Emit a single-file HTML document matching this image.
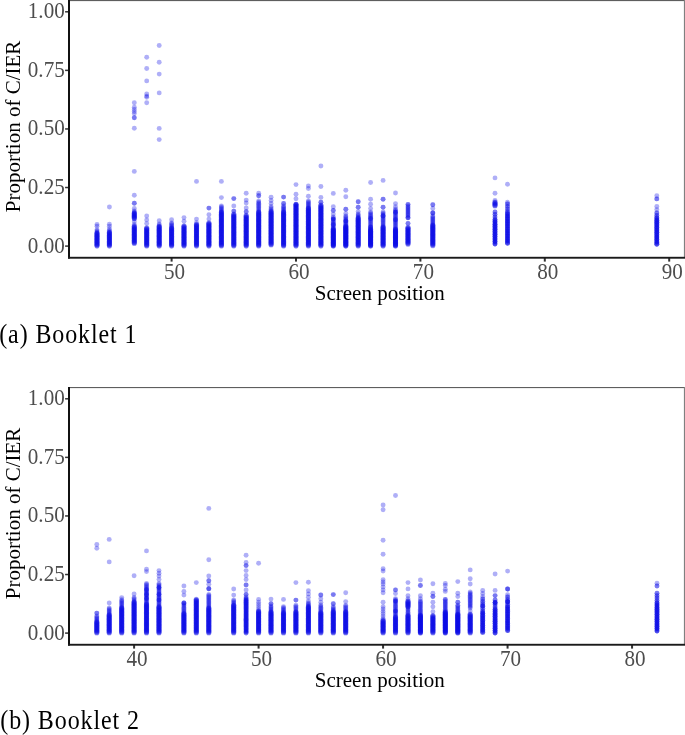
<!DOCTYPE html>
<html><head><meta charset="utf-8"><title>Figure</title>
<style>html,body{margin:0;padding:0;background:#fff;width:685px;height:735px;overflow:hidden}svg{display:block;will-change:transform}</style>
</head><body><svg width="685" height="735" viewBox="0 0 685 735">
<style>
.tk{font-family:"Liberation Serif",serif;font-size:23px;fill:#4d4d4d}
.tt{font-family:"Liberation Serif",serif;font-size:21px;fill:#000}
.cap{font-family:"Liberation Serif",serif;font-size:24px;fill:#000;letter-spacing:0.9px}
</style>
<rect width="685" height="735" fill="#fff"/>
<g fill="rgb(12,12,232)" fill-opacity="0.33"><circle cx="97.0" cy="224.5" r="2.45"/><circle cx="97.0" cy="226.3" r="2.45"/><circle cx="97.0" cy="229.8" r="2.45"/><circle cx="97.0" cy="231.0" r="2.45"/><circle cx="97.0" cy="232.0" r="2.45"/><circle cx="97.0" cy="233.0" r="2.45"/><circle cx="97.0" cy="233.0" r="2.55"/><circle cx="97.0" cy="233.5" r="2.55"/><circle cx="97.0" cy="234.1" r="2.55"/><circle cx="97.0" cy="234.6" r="2.55"/><circle cx="97.0" cy="235.2" r="2.55"/><circle cx="97.0" cy="235.7" r="2.55"/><circle cx="97.0" cy="236.3" r="2.55"/><circle cx="97.0" cy="236.8" r="2.55"/><circle cx="97.0" cy="237.4" r="2.55"/><circle cx="97.0" cy="237.9" r="2.55"/><circle cx="97.0" cy="238.5" r="2.55"/><circle cx="97.0" cy="239.0" r="2.55"/><circle cx="97.0" cy="239.6" r="2.55"/><circle cx="97.0" cy="240.1" r="2.55"/><circle cx="97.0" cy="240.6" r="2.55"/><circle cx="97.0" cy="241.2" r="2.55"/><circle cx="97.0" cy="241.7" r="2.55"/><circle cx="97.0" cy="242.3" r="2.55"/><circle cx="97.0" cy="242.8" r="2.55"/><circle cx="97.0" cy="243.4" r="2.55"/><circle cx="97.0" cy="243.9" r="2.55"/><circle cx="97.0" cy="244.5" r="2.55"/><circle cx="97.0" cy="245.0" r="2.55"/><circle cx="97.0" cy="245.6" r="2.55"/><circle cx="97.0" cy="246.1" r="2.55"/><circle cx="109.4" cy="207.0" r="2.45"/><circle cx="109.4" cy="224.3" r="2.45"/><circle cx="109.4" cy="226.3" r="2.45"/><circle cx="109.4" cy="228.9" r="2.45"/><circle cx="109.4" cy="230.5" r="2.45"/><circle cx="109.4" cy="231.5" r="2.45"/><circle cx="109.4" cy="232.5" r="2.45"/><circle cx="109.4" cy="232.5" r="2.55"/><circle cx="109.4" cy="233.0" r="2.55"/><circle cx="109.4" cy="233.6" r="2.55"/><circle cx="109.4" cy="234.1" r="2.55"/><circle cx="109.4" cy="234.7" r="2.55"/><circle cx="109.4" cy="235.2" r="2.55"/><circle cx="109.4" cy="235.8" r="2.55"/><circle cx="109.4" cy="236.3" r="2.55"/><circle cx="109.4" cy="236.9" r="2.55"/><circle cx="109.4" cy="237.4" r="2.55"/><circle cx="109.4" cy="237.9" r="2.55"/><circle cx="109.4" cy="238.5" r="2.55"/><circle cx="109.4" cy="239.0" r="2.55"/><circle cx="109.4" cy="239.6" r="2.55"/><circle cx="109.4" cy="240.1" r="2.55"/><circle cx="109.4" cy="240.7" r="2.55"/><circle cx="109.4" cy="241.2" r="2.55"/><circle cx="109.4" cy="241.7" r="2.55"/><circle cx="109.4" cy="242.3" r="2.55"/><circle cx="109.4" cy="242.8" r="2.55"/><circle cx="109.4" cy="243.4" r="2.55"/><circle cx="109.4" cy="243.9" r="2.55"/><circle cx="109.4" cy="244.5" r="2.55"/><circle cx="109.4" cy="245.0" r="2.55"/><circle cx="109.4" cy="245.6" r="2.55"/><circle cx="109.4" cy="246.1" r="2.55"/><circle cx="134.3" cy="102.7" r="2.45"/><circle cx="134.3" cy="107.2" r="2.45"/><circle cx="134.3" cy="109.5" r="2.45"/><circle cx="134.3" cy="111.6" r="2.45"/><circle cx="134.3" cy="113.6" r="2.45"/><circle cx="134.3" cy="117.8" r="2.45"/><circle cx="134.3" cy="117.8" r="2.45"/><circle cx="134.3" cy="128.2" r="2.45"/><circle cx="134.3" cy="171.4" r="2.45"/><circle cx="134.3" cy="195.2" r="2.45"/><circle cx="134.3" cy="203.3" r="2.45"/><circle cx="134.3" cy="203.3" r="2.45"/><circle cx="134.3" cy="208.4" r="2.45"/><circle cx="134.3" cy="211.0" r="2.45"/><circle cx="134.3" cy="212.0" r="2.45"/><circle cx="134.3" cy="213.0" r="2.45"/><circle cx="134.3" cy="213.0" r="2.55"/><circle cx="134.3" cy="213.5" r="2.55"/><circle cx="134.3" cy="214.1" r="2.55"/><circle cx="134.3" cy="214.6" r="2.55"/><circle cx="134.3" cy="215.2" r="2.55"/><circle cx="134.3" cy="215.7" r="2.55"/><circle cx="134.3" cy="216.2" r="2.55"/><circle cx="134.3" cy="216.8" r="2.55"/><circle cx="134.3" cy="217.3" r="2.55"/><circle cx="134.3" cy="217.9" r="2.55"/><circle cx="134.3" cy="218.4" r="2.55"/><circle cx="134.3" cy="219.0" r="2.45"/><circle cx="134.3" cy="221.8" r="2.45"/><circle cx="134.3" cy="224.5" r="2.45"/><circle cx="134.3" cy="226.0" r="2.55"/><circle cx="134.3" cy="226.5" r="2.55"/><circle cx="134.3" cy="227.1" r="2.55"/><circle cx="134.3" cy="227.6" r="2.55"/><circle cx="134.3" cy="228.2" r="2.55"/><circle cx="134.3" cy="228.7" r="2.55"/><circle cx="134.3" cy="229.3" r="2.55"/><circle cx="134.3" cy="229.8" r="2.55"/><circle cx="134.3" cy="230.4" r="2.55"/><circle cx="134.3" cy="230.9" r="2.55"/><circle cx="134.3" cy="231.5" r="2.55"/><circle cx="134.3" cy="232.0" r="2.55"/><circle cx="134.3" cy="232.6" r="2.55"/><circle cx="134.3" cy="233.1" r="2.55"/><circle cx="134.3" cy="233.7" r="2.55"/><circle cx="134.3" cy="234.2" r="2.55"/><circle cx="134.3" cy="234.8" r="2.55"/><circle cx="134.3" cy="235.3" r="2.55"/><circle cx="134.3" cy="235.8" r="2.55"/><circle cx="134.3" cy="236.4" r="2.55"/><circle cx="134.3" cy="236.9" r="2.55"/><circle cx="134.3" cy="237.5" r="2.55"/><circle cx="134.3" cy="238.0" r="2.55"/><circle cx="134.3" cy="238.6" r="2.55"/><circle cx="134.3" cy="239.1" r="2.55"/><circle cx="134.3" cy="239.7" r="2.55"/><circle cx="134.3" cy="240.2" r="2.55"/><circle cx="134.3" cy="240.8" r="2.55"/><circle cx="134.3" cy="241.3" r="2.55"/><circle cx="134.3" cy="241.9" r="2.55"/><circle cx="134.3" cy="242.4" r="2.55"/><circle cx="134.3" cy="243.0" r="2.55"/><circle cx="134.3" cy="243.5" r="2.55"/><circle cx="146.7" cy="57.3" r="2.45"/><circle cx="146.7" cy="68.5" r="2.45"/><circle cx="146.7" cy="80.9" r="2.45"/><circle cx="146.7" cy="94.0" r="2.45"/><circle cx="146.7" cy="96.1" r="2.45"/><circle cx="146.7" cy="97.3" r="2.45"/><circle cx="146.7" cy="102.7" r="2.45"/><circle cx="146.7" cy="216.0" r="2.45"/><circle cx="146.7" cy="219.9" r="2.45"/><circle cx="146.7" cy="223.6" r="2.45"/><circle cx="146.7" cy="227.7" r="2.55"/><circle cx="146.7" cy="228.3" r="2.55"/><circle cx="146.7" cy="228.8" r="2.55"/><circle cx="146.7" cy="229.4" r="2.55"/><circle cx="146.7" cy="229.9" r="2.55"/><circle cx="146.7" cy="230.5" r="2.55"/><circle cx="146.7" cy="231.0" r="2.55"/><circle cx="146.7" cy="231.6" r="2.55"/><circle cx="146.7" cy="232.2" r="2.55"/><circle cx="146.7" cy="232.7" r="2.55"/><circle cx="146.7" cy="233.3" r="2.55"/><circle cx="146.7" cy="233.8" r="2.55"/><circle cx="146.7" cy="234.4" r="2.55"/><circle cx="146.7" cy="234.9" r="2.55"/><circle cx="146.7" cy="235.5" r="2.55"/><circle cx="146.7" cy="236.1" r="2.55"/><circle cx="146.7" cy="236.6" r="2.55"/><circle cx="146.7" cy="237.2" r="2.55"/><circle cx="146.7" cy="237.7" r="2.55"/><circle cx="146.7" cy="238.3" r="2.55"/><circle cx="146.7" cy="238.9" r="2.55"/><circle cx="146.7" cy="239.4" r="2.55"/><circle cx="146.7" cy="240.0" r="2.55"/><circle cx="146.7" cy="240.5" r="2.55"/><circle cx="146.7" cy="241.1" r="2.55"/><circle cx="146.7" cy="241.6" r="2.55"/><circle cx="146.7" cy="242.2" r="2.55"/><circle cx="146.7" cy="242.8" r="2.55"/><circle cx="146.7" cy="243.3" r="2.55"/><circle cx="146.7" cy="243.9" r="2.55"/><circle cx="146.7" cy="244.4" r="2.55"/><circle cx="146.7" cy="245.0" r="2.55"/><circle cx="146.7" cy="245.5" r="2.55"/><circle cx="146.7" cy="246.1" r="2.55"/><circle cx="159.2" cy="45.5" r="2.45"/><circle cx="159.2" cy="62.2" r="2.45"/><circle cx="159.2" cy="74.1" r="2.45"/><circle cx="159.2" cy="92.9" r="2.45"/><circle cx="159.2" cy="128.4" r="2.45"/><circle cx="159.2" cy="139.6" r="2.45"/><circle cx="159.2" cy="220.7" r="2.45"/><circle cx="159.2" cy="224.0" r="2.45"/><circle cx="159.2" cy="225.2" r="2.45"/><circle cx="159.2" cy="226.5" r="2.45"/><circle cx="159.2" cy="226.5" r="2.55"/><circle cx="159.2" cy="227.0" r="2.55"/><circle cx="159.2" cy="227.6" r="2.55"/><circle cx="159.2" cy="228.1" r="2.55"/><circle cx="159.2" cy="228.7" r="2.55"/><circle cx="159.2" cy="229.2" r="2.55"/><circle cx="159.2" cy="229.8" r="2.55"/><circle cx="159.2" cy="230.3" r="2.55"/><circle cx="159.2" cy="230.9" r="2.55"/><circle cx="159.2" cy="231.4" r="2.55"/><circle cx="159.2" cy="231.9" r="2.55"/><circle cx="159.2" cy="232.5" r="2.55"/><circle cx="159.2" cy="233.0" r="2.55"/><circle cx="159.2" cy="233.6" r="2.55"/><circle cx="159.2" cy="234.1" r="2.55"/><circle cx="159.2" cy="234.7" r="2.55"/><circle cx="159.2" cy="235.2" r="2.55"/><circle cx="159.2" cy="235.8" r="2.55"/><circle cx="159.2" cy="236.3" r="2.55"/><circle cx="159.2" cy="236.8" r="2.55"/><circle cx="159.2" cy="237.4" r="2.55"/><circle cx="159.2" cy="237.9" r="2.55"/><circle cx="159.2" cy="238.5" r="2.55"/><circle cx="159.2" cy="239.0" r="2.55"/><circle cx="159.2" cy="239.6" r="2.55"/><circle cx="159.2" cy="240.1" r="2.55"/><circle cx="159.2" cy="240.7" r="2.55"/><circle cx="159.2" cy="241.2" r="2.55"/><circle cx="159.2" cy="241.7" r="2.55"/><circle cx="159.2" cy="242.3" r="2.55"/><circle cx="159.2" cy="242.8" r="2.55"/><circle cx="159.2" cy="243.4" r="2.55"/><circle cx="159.2" cy="243.9" r="2.55"/><circle cx="159.2" cy="244.5" r="2.55"/><circle cx="159.2" cy="245.0" r="2.55"/><circle cx="159.2" cy="245.6" r="2.55"/><circle cx="159.2" cy="246.1" r="2.55"/><circle cx="171.6" cy="219.8" r="2.45"/><circle cx="171.6" cy="223.0" r="2.45"/><circle cx="171.6" cy="224.0" r="2.45"/><circle cx="171.6" cy="225.0" r="2.45"/><circle cx="171.6" cy="226.0" r="2.45"/><circle cx="171.6" cy="227.0" r="2.45"/><circle cx="171.6" cy="228.0" r="2.45"/><circle cx="171.6" cy="228.0" r="2.55"/><circle cx="171.6" cy="228.5" r="2.55"/><circle cx="171.6" cy="229.1" r="2.55"/><circle cx="171.6" cy="229.6" r="2.55"/><circle cx="171.6" cy="230.2" r="2.55"/><circle cx="171.6" cy="230.7" r="2.55"/><circle cx="171.6" cy="231.3" r="2.55"/><circle cx="171.6" cy="231.8" r="2.55"/><circle cx="171.6" cy="232.4" r="2.55"/><circle cx="171.6" cy="232.9" r="2.55"/><circle cx="171.6" cy="233.5" r="2.55"/><circle cx="171.6" cy="234.0" r="2.55"/><circle cx="171.6" cy="234.6" r="2.55"/><circle cx="171.6" cy="235.1" r="2.55"/><circle cx="171.6" cy="235.7" r="2.55"/><circle cx="171.6" cy="236.2" r="2.55"/><circle cx="171.6" cy="236.8" r="2.55"/><circle cx="171.6" cy="237.3" r="2.55"/><circle cx="171.6" cy="237.9" r="2.55"/><circle cx="171.6" cy="238.4" r="2.55"/><circle cx="171.6" cy="239.0" r="2.55"/><circle cx="171.6" cy="239.5" r="2.55"/><circle cx="171.6" cy="240.1" r="2.55"/><circle cx="171.6" cy="240.6" r="2.55"/><circle cx="171.6" cy="241.2" r="2.55"/><circle cx="171.6" cy="241.7" r="2.55"/><circle cx="171.6" cy="242.3" r="2.55"/><circle cx="171.6" cy="242.8" r="2.55"/><circle cx="171.6" cy="243.4" r="2.55"/><circle cx="171.6" cy="243.9" r="2.55"/><circle cx="171.6" cy="244.5" r="2.55"/><circle cx="171.6" cy="245.0" r="2.55"/><circle cx="171.6" cy="245.6" r="2.55"/><circle cx="171.6" cy="246.1" r="2.55"/><circle cx="184.0" cy="217.6" r="2.45"/><circle cx="184.0" cy="221.3" r="2.45"/><circle cx="184.0" cy="225.7" r="2.55"/><circle cx="184.0" cy="226.3" r="2.55"/><circle cx="184.0" cy="226.8" r="2.55"/><circle cx="184.0" cy="227.4" r="2.55"/><circle cx="184.0" cy="227.9" r="2.55"/><circle cx="184.0" cy="228.5" r="2.55"/><circle cx="184.0" cy="229.0" r="2.55"/><circle cx="184.0" cy="229.6" r="2.55"/><circle cx="184.0" cy="230.1" r="2.55"/><circle cx="184.0" cy="230.7" r="2.55"/><circle cx="184.0" cy="231.2" r="2.55"/><circle cx="184.0" cy="231.8" r="2.55"/><circle cx="184.0" cy="232.3" r="2.55"/><circle cx="184.0" cy="232.9" r="2.55"/><circle cx="184.0" cy="233.4" r="2.55"/><circle cx="184.0" cy="234.0" r="2.55"/><circle cx="184.0" cy="234.5" r="2.55"/><circle cx="184.0" cy="235.1" r="2.55"/><circle cx="184.0" cy="235.6" r="2.55"/><circle cx="184.0" cy="236.2" r="2.55"/><circle cx="184.0" cy="236.7" r="2.55"/><circle cx="184.0" cy="237.3" r="2.55"/><circle cx="184.0" cy="237.8" r="2.55"/><circle cx="184.0" cy="238.4" r="2.55"/><circle cx="184.0" cy="238.9" r="2.55"/><circle cx="184.0" cy="239.5" r="2.55"/><circle cx="184.0" cy="240.0" r="2.55"/><circle cx="184.0" cy="240.6" r="2.55"/><circle cx="184.0" cy="241.1" r="2.55"/><circle cx="184.0" cy="241.7" r="2.55"/><circle cx="184.0" cy="242.2" r="2.55"/><circle cx="184.0" cy="242.8" r="2.55"/><circle cx="184.0" cy="243.3" r="2.55"/><circle cx="184.0" cy="243.9" r="2.55"/><circle cx="184.0" cy="244.4" r="2.55"/><circle cx="184.0" cy="245.0" r="2.55"/><circle cx="184.0" cy="245.5" r="2.55"/><circle cx="184.0" cy="246.1" r="2.55"/><circle cx="196.5" cy="181.4" r="2.45"/><circle cx="196.5" cy="219.1" r="2.45"/><circle cx="196.5" cy="222.7" r="2.45"/><circle cx="196.5" cy="224.2" r="2.55"/><circle cx="196.5" cy="224.7" r="2.55"/><circle cx="196.5" cy="225.3" r="2.55"/><circle cx="196.5" cy="225.8" r="2.55"/><circle cx="196.5" cy="226.4" r="2.55"/><circle cx="196.5" cy="226.9" r="2.55"/><circle cx="196.5" cy="227.5" r="2.55"/><circle cx="196.5" cy="228.0" r="2.55"/><circle cx="196.5" cy="228.6" r="2.55"/><circle cx="196.5" cy="229.1" r="2.55"/><circle cx="196.5" cy="229.7" r="2.55"/><circle cx="196.5" cy="230.2" r="2.55"/><circle cx="196.5" cy="230.8" r="2.55"/><circle cx="196.5" cy="231.3" r="2.55"/><circle cx="196.5" cy="231.9" r="2.55"/><circle cx="196.5" cy="232.4" r="2.55"/><circle cx="196.5" cy="233.0" r="2.55"/><circle cx="196.5" cy="233.5" r="2.55"/><circle cx="196.5" cy="234.1" r="2.55"/><circle cx="196.5" cy="234.6" r="2.55"/><circle cx="196.5" cy="235.1" r="2.55"/><circle cx="196.5" cy="235.7" r="2.55"/><circle cx="196.5" cy="236.2" r="2.55"/><circle cx="196.5" cy="236.8" r="2.55"/><circle cx="196.5" cy="237.3" r="2.55"/><circle cx="196.5" cy="237.9" r="2.55"/><circle cx="196.5" cy="238.4" r="2.55"/><circle cx="196.5" cy="239.0" r="2.55"/><circle cx="196.5" cy="239.5" r="2.55"/><circle cx="196.5" cy="240.1" r="2.55"/><circle cx="196.5" cy="240.6" r="2.55"/><circle cx="196.5" cy="241.2" r="2.55"/><circle cx="196.5" cy="241.7" r="2.55"/><circle cx="196.5" cy="242.3" r="2.55"/><circle cx="196.5" cy="242.8" r="2.55"/><circle cx="196.5" cy="243.4" r="2.55"/><circle cx="196.5" cy="243.9" r="2.55"/><circle cx="196.5" cy="244.5" r="2.55"/><circle cx="196.5" cy="245.0" r="2.55"/><circle cx="196.5" cy="245.6" r="2.55"/><circle cx="196.5" cy="246.1" r="2.55"/><circle cx="208.9" cy="208.1" r="2.45"/><circle cx="208.9" cy="208.1" r="2.45"/><circle cx="208.9" cy="214.7" r="2.45"/><circle cx="208.9" cy="219.1" r="2.45"/><circle cx="208.9" cy="222.7" r="2.55"/><circle cx="208.9" cy="223.2" r="2.55"/><circle cx="208.9" cy="223.8" r="2.55"/><circle cx="208.9" cy="224.3" r="2.55"/><circle cx="208.9" cy="224.9" r="2.55"/><circle cx="208.9" cy="225.4" r="2.55"/><circle cx="208.9" cy="226.0" r="2.55"/><circle cx="208.9" cy="226.5" r="2.55"/><circle cx="208.9" cy="227.1" r="2.55"/><circle cx="208.9" cy="227.6" r="2.55"/><circle cx="208.9" cy="228.1" r="2.55"/><circle cx="208.9" cy="228.7" r="2.55"/><circle cx="208.9" cy="229.2" r="2.55"/><circle cx="208.9" cy="229.8" r="2.55"/><circle cx="208.9" cy="230.3" r="2.55"/><circle cx="208.9" cy="230.9" r="2.55"/><circle cx="208.9" cy="231.4" r="2.55"/><circle cx="208.9" cy="232.0" r="2.55"/><circle cx="208.9" cy="232.5" r="2.55"/><circle cx="208.9" cy="233.0" r="2.55"/><circle cx="208.9" cy="233.6" r="2.55"/><circle cx="208.9" cy="234.1" r="2.55"/><circle cx="208.9" cy="234.7" r="2.55"/><circle cx="208.9" cy="235.2" r="2.55"/><circle cx="208.9" cy="235.8" r="2.55"/><circle cx="208.9" cy="236.3" r="2.55"/><circle cx="208.9" cy="236.8" r="2.55"/><circle cx="208.9" cy="237.4" r="2.55"/><circle cx="208.9" cy="237.9" r="2.55"/><circle cx="208.9" cy="238.5" r="2.55"/><circle cx="208.9" cy="239.0" r="2.55"/><circle cx="208.9" cy="239.6" r="2.55"/><circle cx="208.9" cy="240.1" r="2.55"/><circle cx="208.9" cy="240.7" r="2.55"/><circle cx="208.9" cy="241.2" r="2.55"/><circle cx="208.9" cy="241.7" r="2.55"/><circle cx="208.9" cy="242.3" r="2.55"/><circle cx="208.9" cy="242.8" r="2.55"/><circle cx="208.9" cy="243.4" r="2.55"/><circle cx="208.9" cy="243.9" r="2.55"/><circle cx="208.9" cy="244.5" r="2.55"/><circle cx="208.9" cy="245.0" r="2.55"/><circle cx="208.9" cy="245.6" r="2.55"/><circle cx="208.9" cy="246.1" r="2.55"/><circle cx="221.4" cy="181.4" r="2.45"/><circle cx="221.4" cy="197.6" r="2.45"/><circle cx="221.4" cy="206.0" r="2.45"/><circle cx="221.4" cy="207.0" r="2.45"/><circle cx="221.4" cy="208.0" r="2.45"/><circle cx="221.4" cy="209.0" r="2.45"/><circle cx="221.4" cy="210.0" r="2.45"/><circle cx="221.4" cy="211.0" r="2.45"/><circle cx="221.4" cy="212.0" r="2.45"/><circle cx="221.4" cy="212.0" r="2.55"/><circle cx="221.4" cy="212.6" r="2.55"/><circle cx="221.4" cy="213.1" r="2.55"/><circle cx="221.4" cy="213.7" r="2.55"/><circle cx="221.4" cy="214.2" r="2.55"/><circle cx="221.4" cy="214.8" r="2.55"/><circle cx="221.4" cy="215.3" r="2.55"/><circle cx="221.4" cy="215.8" r="2.55"/><circle cx="221.4" cy="216.4" r="2.55"/><circle cx="221.4" cy="216.9" r="2.55"/><circle cx="221.4" cy="217.5" r="2.55"/><circle cx="221.4" cy="218.1" r="2.55"/><circle cx="221.4" cy="218.6" r="2.55"/><circle cx="221.4" cy="219.2" r="2.55"/><circle cx="221.4" cy="219.7" r="2.55"/><circle cx="221.4" cy="220.2" r="2.55"/><circle cx="221.4" cy="220.8" r="2.55"/><circle cx="221.4" cy="221.3" r="2.55"/><circle cx="221.4" cy="221.9" r="2.55"/><circle cx="221.4" cy="222.4" r="2.55"/><circle cx="221.4" cy="223.0" r="2.55"/><circle cx="221.4" cy="223.6" r="2.55"/><circle cx="221.4" cy="224.1" r="2.55"/><circle cx="221.4" cy="224.7" r="2.55"/><circle cx="221.4" cy="225.2" r="2.55"/><circle cx="221.4" cy="225.8" r="2.55"/><circle cx="221.4" cy="226.3" r="2.55"/><circle cx="221.4" cy="226.8" r="2.55"/><circle cx="221.4" cy="227.4" r="2.55"/><circle cx="221.4" cy="227.9" r="2.55"/><circle cx="221.4" cy="228.5" r="2.55"/><circle cx="221.4" cy="229.1" r="2.55"/><circle cx="221.4" cy="229.6" r="2.55"/><circle cx="221.4" cy="230.2" r="2.55"/><circle cx="221.4" cy="230.7" r="2.55"/><circle cx="221.4" cy="231.2" r="2.55"/><circle cx="221.4" cy="231.8" r="2.55"/><circle cx="221.4" cy="232.3" r="2.55"/><circle cx="221.4" cy="232.9" r="2.55"/><circle cx="221.4" cy="233.4" r="2.55"/><circle cx="221.4" cy="234.0" r="2.55"/><circle cx="221.4" cy="234.5" r="2.55"/><circle cx="221.4" cy="235.1" r="2.55"/><circle cx="221.4" cy="235.7" r="2.55"/><circle cx="221.4" cy="236.2" r="2.55"/><circle cx="221.4" cy="236.8" r="2.55"/><circle cx="221.4" cy="237.3" r="2.55"/><circle cx="221.4" cy="237.8" r="2.55"/><circle cx="221.4" cy="238.4" r="2.55"/><circle cx="221.4" cy="238.9" r="2.55"/><circle cx="221.4" cy="239.5" r="2.55"/><circle cx="221.4" cy="240.0" r="2.55"/><circle cx="221.4" cy="240.6" r="2.55"/><circle cx="221.4" cy="241.2" r="2.55"/><circle cx="221.4" cy="241.7" r="2.55"/><circle cx="221.4" cy="242.2" r="2.55"/><circle cx="221.4" cy="242.8" r="2.55"/><circle cx="221.4" cy="243.3" r="2.55"/><circle cx="221.4" cy="243.9" r="2.55"/><circle cx="221.4" cy="244.4" r="2.55"/><circle cx="221.4" cy="245.0" r="2.55"/><circle cx="221.4" cy="245.5" r="2.55"/><circle cx="221.4" cy="246.1" r="2.55"/><circle cx="233.8" cy="198.6" r="2.45"/><circle cx="233.8" cy="198.6" r="2.45"/><circle cx="233.8" cy="206.0" r="2.45"/><circle cx="233.8" cy="211.1" r="2.45"/><circle cx="233.8" cy="211.1" r="2.45"/><circle cx="233.8" cy="214.0" r="2.55"/><circle cx="233.8" cy="214.6" r="2.55"/><circle cx="233.8" cy="215.1" r="2.55"/><circle cx="233.8" cy="215.7" r="2.55"/><circle cx="233.8" cy="216.2" r="2.55"/><circle cx="233.8" cy="216.8" r="2.55"/><circle cx="233.8" cy="217.3" r="2.55"/><circle cx="233.8" cy="217.9" r="2.55"/><circle cx="233.8" cy="218.4" r="2.55"/><circle cx="233.8" cy="219.0" r="2.55"/><circle cx="233.8" cy="219.5" r="2.55"/><circle cx="233.8" cy="220.1" r="2.55"/><circle cx="233.8" cy="220.6" r="2.55"/><circle cx="233.8" cy="221.2" r="2.55"/><circle cx="233.8" cy="221.7" r="2.55"/><circle cx="233.8" cy="222.3" r="2.55"/><circle cx="233.8" cy="222.9" r="2.55"/><circle cx="233.8" cy="223.4" r="2.55"/><circle cx="233.8" cy="224.0" r="2.55"/><circle cx="233.8" cy="224.5" r="2.55"/><circle cx="233.8" cy="225.1" r="2.55"/><circle cx="233.8" cy="225.6" r="2.55"/><circle cx="233.8" cy="226.2" r="2.55"/><circle cx="233.8" cy="226.7" r="2.55"/><circle cx="233.8" cy="227.3" r="2.55"/><circle cx="233.8" cy="227.8" r="2.55"/><circle cx="233.8" cy="228.4" r="2.55"/><circle cx="233.8" cy="228.9" r="2.55"/><circle cx="233.8" cy="229.5" r="2.55"/><circle cx="233.8" cy="230.1" r="2.55"/><circle cx="233.8" cy="230.6" r="2.55"/><circle cx="233.8" cy="231.2" r="2.55"/><circle cx="233.8" cy="231.7" r="2.55"/><circle cx="233.8" cy="232.3" r="2.55"/><circle cx="233.8" cy="232.8" r="2.55"/><circle cx="233.8" cy="233.4" r="2.55"/><circle cx="233.8" cy="233.9" r="2.55"/><circle cx="233.8" cy="234.5" r="2.55"/><circle cx="233.8" cy="235.0" r="2.55"/><circle cx="233.8" cy="235.6" r="2.55"/><circle cx="233.8" cy="236.1" r="2.55"/><circle cx="233.8" cy="236.7" r="2.55"/><circle cx="233.8" cy="237.2" r="2.55"/><circle cx="233.8" cy="237.8" r="2.55"/><circle cx="233.8" cy="238.4" r="2.55"/><circle cx="233.8" cy="238.9" r="2.55"/><circle cx="233.8" cy="239.5" r="2.55"/><circle cx="233.8" cy="240.0" r="2.55"/><circle cx="233.8" cy="240.6" r="2.55"/><circle cx="233.8" cy="241.1" r="2.55"/><circle cx="233.8" cy="241.7" r="2.55"/><circle cx="233.8" cy="242.2" r="2.55"/><circle cx="233.8" cy="242.8" r="2.55"/><circle cx="233.8" cy="243.3" r="2.55"/><circle cx="233.8" cy="243.9" r="2.55"/><circle cx="233.8" cy="244.4" r="2.55"/><circle cx="233.8" cy="245.0" r="2.55"/><circle cx="233.8" cy="245.5" r="2.55"/><circle cx="233.8" cy="246.1" r="2.55"/><circle cx="246.2" cy="193.2" r="2.45"/><circle cx="246.2" cy="200.1" r="2.45"/><circle cx="246.2" cy="203.0" r="2.45"/><circle cx="246.2" cy="207.9" r="2.45"/><circle cx="246.2" cy="211.8" r="2.45"/><circle cx="246.2" cy="211.8" r="2.45"/><circle cx="246.2" cy="215.4" r="2.55"/><circle cx="246.2" cy="215.9" r="2.55"/><circle cx="246.2" cy="216.5" r="2.55"/><circle cx="246.2" cy="217.0" r="2.55"/><circle cx="246.2" cy="217.6" r="2.55"/><circle cx="246.2" cy="218.1" r="2.55"/><circle cx="246.2" cy="218.7" r="2.55"/><circle cx="246.2" cy="219.2" r="2.55"/><circle cx="246.2" cy="219.8" r="2.55"/><circle cx="246.2" cy="220.3" r="2.55"/><circle cx="246.2" cy="220.9" r="2.55"/><circle cx="246.2" cy="221.4" r="2.55"/><circle cx="246.2" cy="222.0" r="2.55"/><circle cx="246.2" cy="222.5" r="2.55"/><circle cx="246.2" cy="223.1" r="2.55"/><circle cx="246.2" cy="223.6" r="2.55"/><circle cx="246.2" cy="224.2" r="2.55"/><circle cx="246.2" cy="224.7" r="2.55"/><circle cx="246.2" cy="225.3" r="2.55"/><circle cx="246.2" cy="225.8" r="2.55"/><circle cx="246.2" cy="226.4" r="2.55"/><circle cx="246.2" cy="226.9" r="2.55"/><circle cx="246.2" cy="227.5" r="2.55"/><circle cx="246.2" cy="228.0" r="2.55"/><circle cx="246.2" cy="228.6" r="2.55"/><circle cx="246.2" cy="229.1" r="2.55"/><circle cx="246.2" cy="229.7" r="2.55"/><circle cx="246.2" cy="230.2" r="2.55"/><circle cx="246.2" cy="230.8" r="2.55"/><circle cx="246.2" cy="231.3" r="2.55"/><circle cx="246.2" cy="231.8" r="2.55"/><circle cx="246.2" cy="232.4" r="2.55"/><circle cx="246.2" cy="232.9" r="2.55"/><circle cx="246.2" cy="233.5" r="2.55"/><circle cx="246.2" cy="234.0" r="2.55"/><circle cx="246.2" cy="234.6" r="2.55"/><circle cx="246.2" cy="235.1" r="2.55"/><circle cx="246.2" cy="235.7" r="2.55"/><circle cx="246.2" cy="236.2" r="2.55"/><circle cx="246.2" cy="236.8" r="2.55"/><circle cx="246.2" cy="237.3" r="2.55"/><circle cx="246.2" cy="237.9" r="2.55"/><circle cx="246.2" cy="238.4" r="2.55"/><circle cx="246.2" cy="239.0" r="2.55"/><circle cx="246.2" cy="239.5" r="2.55"/><circle cx="246.2" cy="240.1" r="2.55"/><circle cx="246.2" cy="240.6" r="2.55"/><circle cx="246.2" cy="241.2" r="2.55"/><circle cx="246.2" cy="241.7" r="2.55"/><circle cx="246.2" cy="242.3" r="2.55"/><circle cx="246.2" cy="242.8" r="2.55"/><circle cx="246.2" cy="243.4" r="2.55"/><circle cx="246.2" cy="243.9" r="2.55"/><circle cx="246.2" cy="244.5" r="2.55"/><circle cx="246.2" cy="245.0" r="2.55"/><circle cx="246.2" cy="245.6" r="2.55"/><circle cx="246.2" cy="246.1" r="2.55"/><circle cx="258.7" cy="193.2" r="2.45"/><circle cx="258.7" cy="195.7" r="2.45"/><circle cx="258.7" cy="195.7" r="2.45"/><circle cx="258.7" cy="201.0" r="2.45"/><circle cx="258.7" cy="202.1" r="2.45"/><circle cx="258.7" cy="203.2" r="2.45"/><circle cx="258.7" cy="204.3" r="2.45"/><circle cx="258.7" cy="205.4" r="2.45"/><circle cx="258.7" cy="206.5" r="2.45"/><circle cx="258.7" cy="207.6" r="2.45"/><circle cx="258.7" cy="208.7" r="2.45"/><circle cx="258.7" cy="209.8" r="2.45"/><circle cx="258.7" cy="210.9" r="2.45"/><circle cx="258.7" cy="212.0" r="2.45"/><circle cx="258.7" cy="212.0" r="2.55"/><circle cx="258.7" cy="212.6" r="2.55"/><circle cx="258.7" cy="213.1" r="2.55"/><circle cx="258.7" cy="213.7" r="2.55"/><circle cx="258.7" cy="214.2" r="2.55"/><circle cx="258.7" cy="214.8" r="2.55"/><circle cx="258.7" cy="215.3" r="2.55"/><circle cx="258.7" cy="215.8" r="2.55"/><circle cx="258.7" cy="216.4" r="2.55"/><circle cx="258.7" cy="216.9" r="2.55"/><circle cx="258.7" cy="217.5" r="2.55"/><circle cx="258.7" cy="218.1" r="2.55"/><circle cx="258.7" cy="218.6" r="2.55"/><circle cx="258.7" cy="219.2" r="2.55"/><circle cx="258.7" cy="219.7" r="2.55"/><circle cx="258.7" cy="220.2" r="2.55"/><circle cx="258.7" cy="220.8" r="2.55"/><circle cx="258.7" cy="221.3" r="2.55"/><circle cx="258.7" cy="221.9" r="2.55"/><circle cx="258.7" cy="222.4" r="2.55"/><circle cx="258.7" cy="223.0" r="2.55"/><circle cx="258.7" cy="223.6" r="2.55"/><circle cx="258.7" cy="224.1" r="2.55"/><circle cx="258.7" cy="224.7" r="2.55"/><circle cx="258.7" cy="225.2" r="2.55"/><circle cx="258.7" cy="225.8" r="2.55"/><circle cx="258.7" cy="226.3" r="2.55"/><circle cx="258.7" cy="226.8" r="2.55"/><circle cx="258.7" cy="227.4" r="2.55"/><circle cx="258.7" cy="227.9" r="2.55"/><circle cx="258.7" cy="228.5" r="2.55"/><circle cx="258.7" cy="229.1" r="2.55"/><circle cx="258.7" cy="229.6" r="2.55"/><circle cx="258.7" cy="230.2" r="2.55"/><circle cx="258.7" cy="230.7" r="2.55"/><circle cx="258.7" cy="231.2" r="2.55"/><circle cx="258.7" cy="231.8" r="2.55"/><circle cx="258.7" cy="232.3" r="2.55"/><circle cx="258.7" cy="232.9" r="2.55"/><circle cx="258.7" cy="233.4" r="2.55"/><circle cx="258.7" cy="234.0" r="2.55"/><circle cx="258.7" cy="234.5" r="2.55"/><circle cx="258.7" cy="235.1" r="2.55"/><circle cx="258.7" cy="235.7" r="2.55"/><circle cx="258.7" cy="236.2" r="2.55"/><circle cx="258.7" cy="236.8" r="2.55"/><circle cx="258.7" cy="237.3" r="2.55"/><circle cx="258.7" cy="237.8" r="2.55"/><circle cx="258.7" cy="238.4" r="2.55"/><circle cx="258.7" cy="238.9" r="2.55"/><circle cx="258.7" cy="239.5" r="2.55"/><circle cx="258.7" cy="240.0" r="2.55"/><circle cx="258.7" cy="240.6" r="2.55"/><circle cx="258.7" cy="241.2" r="2.55"/><circle cx="258.7" cy="241.7" r="2.55"/><circle cx="258.7" cy="242.2" r="2.55"/><circle cx="258.7" cy="242.8" r="2.55"/><circle cx="258.7" cy="243.3" r="2.55"/><circle cx="258.7" cy="243.9" r="2.55"/><circle cx="258.7" cy="244.4" r="2.55"/><circle cx="258.7" cy="245.0" r="2.55"/><circle cx="258.7" cy="245.5" r="2.55"/><circle cx="258.7" cy="246.1" r="2.55"/><circle cx="271.1" cy="197.3" r="2.45"/><circle cx="271.1" cy="200.5" r="2.45"/><circle cx="271.1" cy="203.5" r="2.45"/><circle cx="271.1" cy="206.5" r="2.45"/><circle cx="271.1" cy="208.0" r="2.45"/><circle cx="271.1" cy="209.2" r="2.45"/><circle cx="271.1" cy="210.4" r="2.45"/><circle cx="271.1" cy="211.6" r="2.45"/><circle cx="271.1" cy="211.6" r="2.55"/><circle cx="271.1" cy="212.1" r="2.55"/><circle cx="271.1" cy="212.7" r="2.55"/><circle cx="271.1" cy="213.2" r="2.55"/><circle cx="271.1" cy="213.8" r="2.55"/><circle cx="271.1" cy="214.3" r="2.55"/><circle cx="271.1" cy="214.9" r="2.55"/><circle cx="271.1" cy="215.4" r="2.55"/><circle cx="271.1" cy="216.0" r="2.55"/><circle cx="271.1" cy="216.5" r="2.55"/><circle cx="271.1" cy="217.1" r="2.55"/><circle cx="271.1" cy="217.6" r="2.55"/><circle cx="271.1" cy="218.2" r="2.55"/><circle cx="271.1" cy="218.7" r="2.55"/><circle cx="271.1" cy="219.3" r="2.55"/><circle cx="271.1" cy="219.8" r="2.55"/><circle cx="271.1" cy="220.4" r="2.55"/><circle cx="271.1" cy="220.9" r="2.55"/><circle cx="271.1" cy="221.5" r="2.55"/><circle cx="271.1" cy="222.0" r="2.55"/><circle cx="271.1" cy="222.6" r="2.55"/><circle cx="271.1" cy="223.1" r="2.55"/><circle cx="271.1" cy="223.6" r="2.55"/><circle cx="271.1" cy="224.2" r="2.55"/><circle cx="271.1" cy="224.7" r="2.55"/><circle cx="271.1" cy="225.3" r="2.55"/><circle cx="271.1" cy="225.8" r="2.55"/><circle cx="271.1" cy="226.4" r="2.55"/><circle cx="271.1" cy="226.9" r="2.55"/><circle cx="271.1" cy="227.5" r="2.55"/><circle cx="271.1" cy="228.0" r="2.55"/><circle cx="271.1" cy="228.6" r="2.55"/><circle cx="271.1" cy="229.1" r="2.55"/><circle cx="271.1" cy="229.7" r="2.55"/><circle cx="271.1" cy="230.2" r="2.55"/><circle cx="271.1" cy="230.8" r="2.55"/><circle cx="271.1" cy="231.3" r="2.55"/><circle cx="271.1" cy="231.9" r="2.55"/><circle cx="271.1" cy="232.4" r="2.55"/><circle cx="271.1" cy="233.0" r="2.55"/><circle cx="271.1" cy="233.5" r="2.55"/><circle cx="271.1" cy="234.0" r="2.55"/><circle cx="271.1" cy="234.6" r="2.55"/><circle cx="271.1" cy="235.1" r="2.55"/><circle cx="271.1" cy="235.7" r="2.55"/><circle cx="271.1" cy="236.2" r="2.55"/><circle cx="271.1" cy="236.8" r="2.55"/><circle cx="271.1" cy="237.3" r="2.55"/><circle cx="271.1" cy="237.9" r="2.55"/><circle cx="271.1" cy="238.4" r="2.55"/><circle cx="271.1" cy="239.0" r="2.55"/><circle cx="271.1" cy="239.5" r="2.55"/><circle cx="271.1" cy="240.1" r="2.55"/><circle cx="271.1" cy="240.6" r="2.55"/><circle cx="271.1" cy="241.2" r="2.55"/><circle cx="271.1" cy="241.7" r="2.55"/><circle cx="271.1" cy="242.3" r="2.55"/><circle cx="271.1" cy="242.8" r="2.55"/><circle cx="271.1" cy="243.4" r="2.55"/><circle cx="271.1" cy="243.9" r="2.55"/><circle cx="271.1" cy="244.5" r="2.55"/><circle cx="271.1" cy="245.0" r="2.55"/><circle cx="283.6" cy="197.1" r="2.45"/><circle cx="283.6" cy="197.1" r="2.45"/><circle cx="283.6" cy="203.4" r="2.45"/><circle cx="283.6" cy="203.4" r="2.45"/><circle cx="283.6" cy="206.0" r="2.45"/><circle cx="283.6" cy="207.0" r="2.45"/><circle cx="283.6" cy="208.0" r="2.45"/><circle cx="283.6" cy="209.0" r="2.45"/><circle cx="283.6" cy="210.0" r="2.45"/><circle cx="283.6" cy="211.0" r="2.45"/><circle cx="283.6" cy="212.0" r="2.45"/><circle cx="283.6" cy="212.0" r="2.55"/><circle cx="283.6" cy="212.6" r="2.55"/><circle cx="283.6" cy="213.1" r="2.55"/><circle cx="283.6" cy="213.7" r="2.55"/><circle cx="283.6" cy="214.2" r="2.55"/><circle cx="283.6" cy="214.8" r="2.55"/><circle cx="283.6" cy="215.3" r="2.55"/><circle cx="283.6" cy="215.8" r="2.55"/><circle cx="283.6" cy="216.4" r="2.55"/><circle cx="283.6" cy="216.9" r="2.55"/><circle cx="283.6" cy="217.5" r="2.55"/><circle cx="283.6" cy="218.1" r="2.55"/><circle cx="283.6" cy="218.6" r="2.55"/><circle cx="283.6" cy="219.2" r="2.55"/><circle cx="283.6" cy="219.7" r="2.55"/><circle cx="283.6" cy="220.2" r="2.55"/><circle cx="283.6" cy="220.8" r="2.55"/><circle cx="283.6" cy="221.3" r="2.55"/><circle cx="283.6" cy="221.9" r="2.55"/><circle cx="283.6" cy="222.4" r="2.55"/><circle cx="283.6" cy="223.0" r="2.55"/><circle cx="283.6" cy="223.6" r="2.55"/><circle cx="283.6" cy="224.1" r="2.55"/><circle cx="283.6" cy="224.7" r="2.55"/><circle cx="283.6" cy="225.2" r="2.55"/><circle cx="283.6" cy="225.8" r="2.55"/><circle cx="283.6" cy="226.3" r="2.55"/><circle cx="283.6" cy="226.8" r="2.55"/><circle cx="283.6" cy="227.4" r="2.55"/><circle cx="283.6" cy="227.9" r="2.55"/><circle cx="283.6" cy="228.5" r="2.55"/><circle cx="283.6" cy="229.1" r="2.55"/><circle cx="283.6" cy="229.6" r="2.55"/><circle cx="283.6" cy="230.2" r="2.55"/><circle cx="283.6" cy="230.7" r="2.55"/><circle cx="283.6" cy="231.2" r="2.55"/><circle cx="283.6" cy="231.8" r="2.55"/><circle cx="283.6" cy="232.3" r="2.55"/><circle cx="283.6" cy="232.9" r="2.55"/><circle cx="283.6" cy="233.4" r="2.55"/><circle cx="283.6" cy="234.0" r="2.55"/><circle cx="283.6" cy="234.5" r="2.55"/><circle cx="283.6" cy="235.1" r="2.55"/><circle cx="283.6" cy="235.7" r="2.55"/><circle cx="283.6" cy="236.2" r="2.55"/><circle cx="283.6" cy="236.8" r="2.55"/><circle cx="283.6" cy="237.3" r="2.55"/><circle cx="283.6" cy="237.8" r="2.55"/><circle cx="283.6" cy="238.4" r="2.55"/><circle cx="283.6" cy="238.9" r="2.55"/><circle cx="283.6" cy="239.5" r="2.55"/><circle cx="283.6" cy="240.0" r="2.55"/><circle cx="283.6" cy="240.6" r="2.55"/><circle cx="283.6" cy="241.2" r="2.55"/><circle cx="283.6" cy="241.7" r="2.55"/><circle cx="283.6" cy="242.2" r="2.55"/><circle cx="283.6" cy="242.8" r="2.55"/><circle cx="283.6" cy="243.3" r="2.55"/><circle cx="283.6" cy="243.9" r="2.55"/><circle cx="283.6" cy="244.4" r="2.55"/><circle cx="283.6" cy="245.0" r="2.55"/><circle cx="283.6" cy="245.5" r="2.55"/><circle cx="283.6" cy="246.1" r="2.55"/><circle cx="296.0" cy="184.6" r="2.45"/><circle cx="296.0" cy="194.3" r="2.45"/><circle cx="296.0" cy="198.8" r="2.45"/><circle cx="296.0" cy="204.4" r="2.45"/><circle cx="296.0" cy="204.4" r="2.45"/><circle cx="296.0" cy="204.4" r="2.55"/><circle cx="296.0" cy="204.9" r="2.55"/><circle cx="296.0" cy="205.5" r="2.55"/><circle cx="296.0" cy="206.0" r="2.55"/><circle cx="296.0" cy="206.6" r="2.55"/><circle cx="296.0" cy="207.1" r="2.55"/><circle cx="296.0" cy="207.7" r="2.55"/><circle cx="296.0" cy="208.2" r="2.55"/><circle cx="296.0" cy="208.8" r="2.55"/><circle cx="296.0" cy="209.3" r="2.55"/><circle cx="296.0" cy="209.9" r="2.55"/><circle cx="296.0" cy="210.4" r="2.55"/><circle cx="296.0" cy="211.0" r="2.55"/><circle cx="296.0" cy="211.5" r="2.55"/><circle cx="296.0" cy="212.1" r="2.55"/><circle cx="296.0" cy="212.6" r="2.55"/><circle cx="296.0" cy="213.2" r="2.55"/><circle cx="296.0" cy="213.7" r="2.55"/><circle cx="296.0" cy="214.3" r="2.55"/><circle cx="296.0" cy="214.8" r="2.55"/><circle cx="296.0" cy="215.4" r="2.55"/><circle cx="296.0" cy="215.9" r="2.55"/><circle cx="296.0" cy="216.5" r="2.55"/><circle cx="296.0" cy="217.0" r="2.55"/><circle cx="296.0" cy="217.6" r="2.55"/><circle cx="296.0" cy="218.1" r="2.55"/><circle cx="296.0" cy="218.7" r="2.55"/><circle cx="296.0" cy="219.2" r="2.55"/><circle cx="296.0" cy="219.8" r="2.55"/><circle cx="296.0" cy="220.3" r="2.55"/><circle cx="296.0" cy="220.9" r="2.55"/><circle cx="296.0" cy="221.4" r="2.55"/><circle cx="296.0" cy="222.0" r="2.55"/><circle cx="296.0" cy="222.5" r="2.55"/><circle cx="296.0" cy="223.1" r="2.55"/><circle cx="296.0" cy="223.6" r="2.55"/><circle cx="296.0" cy="224.2" r="2.55"/><circle cx="296.0" cy="224.7" r="2.55"/><circle cx="296.0" cy="225.2" r="2.55"/><circle cx="296.0" cy="225.8" r="2.55"/><circle cx="296.0" cy="226.3" r="2.55"/><circle cx="296.0" cy="226.9" r="2.55"/><circle cx="296.0" cy="227.4" r="2.55"/><circle cx="296.0" cy="228.0" r="2.55"/><circle cx="296.0" cy="228.5" r="2.55"/><circle cx="296.0" cy="229.1" r="2.55"/><circle cx="296.0" cy="229.6" r="2.55"/><circle cx="296.0" cy="230.2" r="2.55"/><circle cx="296.0" cy="230.7" r="2.55"/><circle cx="296.0" cy="231.3" r="2.55"/><circle cx="296.0" cy="231.8" r="2.55"/><circle cx="296.0" cy="232.4" r="2.55"/><circle cx="296.0" cy="232.9" r="2.55"/><circle cx="296.0" cy="233.5" r="2.55"/><circle cx="296.0" cy="234.0" r="2.55"/><circle cx="296.0" cy="234.6" r="2.55"/><circle cx="296.0" cy="235.1" r="2.55"/><circle cx="296.0" cy="235.7" r="2.55"/><circle cx="296.0" cy="236.2" r="2.55"/><circle cx="296.0" cy="236.8" r="2.55"/><circle cx="296.0" cy="237.3" r="2.55"/><circle cx="296.0" cy="237.9" r="2.55"/><circle cx="296.0" cy="238.4" r="2.55"/><circle cx="296.0" cy="239.0" r="2.55"/><circle cx="296.0" cy="239.5" r="2.55"/><circle cx="296.0" cy="240.1" r="2.55"/><circle cx="296.0" cy="240.6" r="2.55"/><circle cx="296.0" cy="241.2" r="2.55"/><circle cx="296.0" cy="241.7" r="2.55"/><circle cx="296.0" cy="242.3" r="2.55"/><circle cx="296.0" cy="242.8" r="2.55"/><circle cx="296.0" cy="243.4" r="2.55"/><circle cx="296.0" cy="243.9" r="2.55"/><circle cx="296.0" cy="244.5" r="2.55"/><circle cx="296.0" cy="245.0" r="2.55"/><circle cx="296.0" cy="245.6" r="2.55"/><circle cx="296.0" cy="246.1" r="2.55"/><circle cx="308.4" cy="186.0" r="2.45"/><circle cx="308.4" cy="188.5" r="2.45"/><circle cx="308.4" cy="196.2" r="2.45"/><circle cx="308.4" cy="201.0" r="2.45"/><circle cx="308.4" cy="202.0" r="2.45"/><circle cx="308.4" cy="203.0" r="2.45"/><circle cx="308.4" cy="204.0" r="2.45"/><circle cx="308.4" cy="205.0" r="2.45"/><circle cx="308.4" cy="206.0" r="2.45"/><circle cx="308.4" cy="207.0" r="2.45"/><circle cx="308.4" cy="208.0" r="2.45"/><circle cx="308.4" cy="208.0" r="2.55"/><circle cx="308.4" cy="208.6" r="2.55"/><circle cx="308.4" cy="209.1" r="2.55"/><circle cx="308.4" cy="209.7" r="2.55"/><circle cx="308.4" cy="210.2" r="2.55"/><circle cx="308.4" cy="210.8" r="2.55"/><circle cx="308.4" cy="211.3" r="2.55"/><circle cx="308.4" cy="211.9" r="2.55"/><circle cx="308.4" cy="212.4" r="2.55"/><circle cx="308.4" cy="213.0" r="2.55"/><circle cx="308.4" cy="213.5" r="2.55"/><circle cx="308.4" cy="214.1" r="2.55"/><circle cx="308.4" cy="214.6" r="2.55"/><circle cx="308.4" cy="215.2" r="2.55"/><circle cx="308.4" cy="215.7" r="2.55"/><circle cx="308.4" cy="216.3" r="2.55"/><circle cx="308.4" cy="216.8" r="2.55"/><circle cx="308.4" cy="217.4" r="2.55"/><circle cx="308.4" cy="217.9" r="2.55"/><circle cx="308.4" cy="218.5" r="2.55"/><circle cx="308.4" cy="219.0" r="2.55"/><circle cx="308.4" cy="219.6" r="2.55"/><circle cx="308.4" cy="220.1" r="2.55"/><circle cx="308.4" cy="220.7" r="2.55"/><circle cx="308.4" cy="221.3" r="2.55"/><circle cx="308.4" cy="221.8" r="2.55"/><circle cx="308.4" cy="222.4" r="2.55"/><circle cx="308.4" cy="222.9" r="2.55"/><circle cx="308.4" cy="223.5" r="2.55"/><circle cx="308.4" cy="224.0" r="2.55"/><circle cx="308.4" cy="224.6" r="2.55"/><circle cx="308.4" cy="225.1" r="2.55"/><circle cx="308.4" cy="225.7" r="2.55"/><circle cx="308.4" cy="226.2" r="2.55"/><circle cx="308.4" cy="226.8" r="2.55"/><circle cx="308.4" cy="227.3" r="2.55"/><circle cx="308.4" cy="227.9" r="2.55"/><circle cx="308.4" cy="228.4" r="2.55"/><circle cx="308.4" cy="229.0" r="2.55"/><circle cx="308.4" cy="229.5" r="2.55"/><circle cx="308.4" cy="230.1" r="2.55"/><circle cx="308.4" cy="230.6" r="2.55"/><circle cx="308.4" cy="231.2" r="2.55"/><circle cx="308.4" cy="231.7" r="2.55"/><circle cx="308.4" cy="232.3" r="2.55"/><circle cx="308.4" cy="232.8" r="2.55"/><circle cx="308.4" cy="233.4" r="2.55"/><circle cx="308.4" cy="234.0" r="2.55"/><circle cx="308.4" cy="234.5" r="2.55"/><circle cx="308.4" cy="235.1" r="2.55"/><circle cx="308.4" cy="235.6" r="2.55"/><circle cx="308.4" cy="236.2" r="2.55"/><circle cx="308.4" cy="236.7" r="2.55"/><circle cx="308.4" cy="237.3" r="2.55"/><circle cx="308.4" cy="237.8" r="2.55"/><circle cx="308.4" cy="238.4" r="2.55"/><circle cx="308.4" cy="238.9" r="2.55"/><circle cx="308.4" cy="239.5" r="2.55"/><circle cx="308.4" cy="240.0" r="2.55"/><circle cx="308.4" cy="240.6" r="2.55"/><circle cx="308.4" cy="241.1" r="2.55"/><circle cx="308.4" cy="241.7" r="2.55"/><circle cx="308.4" cy="242.2" r="2.55"/><circle cx="308.4" cy="242.8" r="2.55"/><circle cx="308.4" cy="243.3" r="2.55"/><circle cx="308.4" cy="243.9" r="2.55"/><circle cx="308.4" cy="244.4" r="2.55"/><circle cx="308.4" cy="245.0" r="2.55"/><circle cx="308.4" cy="245.5" r="2.55"/><circle cx="308.4" cy="246.1" r="2.55"/><circle cx="320.9" cy="166.0" r="2.45"/><circle cx="320.9" cy="186.5" r="2.45"/><circle cx="320.9" cy="197.4" r="2.45"/><circle cx="320.9" cy="202.3" r="2.45"/><circle cx="320.9" cy="202.3" r="2.45"/><circle cx="320.9" cy="205.0" r="2.55"/><circle cx="320.9" cy="205.5" r="2.55"/><circle cx="320.9" cy="206.1" r="2.55"/><circle cx="320.9" cy="206.6" r="2.55"/><circle cx="320.9" cy="207.2" r="2.55"/><circle cx="320.9" cy="207.7" r="2.55"/><circle cx="320.9" cy="208.3" r="2.55"/><circle cx="320.9" cy="208.8" r="2.55"/><circle cx="320.9" cy="209.4" r="2.55"/><circle cx="320.9" cy="209.9" r="2.55"/><circle cx="320.9" cy="210.5" r="2.55"/><circle cx="320.9" cy="211.0" r="2.55"/><circle cx="320.9" cy="211.6" r="2.55"/><circle cx="320.9" cy="212.1" r="2.55"/><circle cx="320.9" cy="212.7" r="2.55"/><circle cx="320.9" cy="213.2" r="2.55"/><circle cx="320.9" cy="213.8" r="2.55"/><circle cx="320.9" cy="214.3" r="2.55"/><circle cx="320.9" cy="214.9" r="2.55"/><circle cx="320.9" cy="215.4" r="2.55"/><circle cx="320.9" cy="216.0" r="2.55"/><circle cx="320.9" cy="216.5" r="2.55"/><circle cx="320.9" cy="217.1" r="2.55"/><circle cx="320.9" cy="217.6" r="2.55"/><circle cx="320.9" cy="218.2" r="2.55"/><circle cx="320.9" cy="218.7" r="2.55"/><circle cx="320.9" cy="219.2" r="2.55"/><circle cx="320.9" cy="219.8" r="2.55"/><circle cx="320.9" cy="220.3" r="2.55"/><circle cx="320.9" cy="220.9" r="2.55"/><circle cx="320.9" cy="221.4" r="2.55"/><circle cx="320.9" cy="222.0" r="2.55"/><circle cx="320.9" cy="222.5" r="2.55"/><circle cx="320.9" cy="223.1" r="2.55"/><circle cx="320.9" cy="223.6" r="2.55"/><circle cx="320.9" cy="224.2" r="2.55"/><circle cx="320.9" cy="224.7" r="2.55"/><circle cx="320.9" cy="225.3" r="2.55"/><circle cx="320.9" cy="225.8" r="2.55"/><circle cx="320.9" cy="226.4" r="2.55"/><circle cx="320.9" cy="226.9" r="2.55"/><circle cx="320.9" cy="227.5" r="2.55"/><circle cx="320.9" cy="228.0" r="2.55"/><circle cx="320.9" cy="228.6" r="2.55"/><circle cx="320.9" cy="229.1" r="2.55"/><circle cx="320.9" cy="229.7" r="2.55"/><circle cx="320.9" cy="230.2" r="2.55"/><circle cx="320.9" cy="230.8" r="2.55"/><circle cx="320.9" cy="231.3" r="2.55"/><circle cx="320.9" cy="231.9" r="2.55"/><circle cx="320.9" cy="232.4" r="2.55"/><circle cx="320.9" cy="232.9" r="2.55"/><circle cx="320.9" cy="233.5" r="2.55"/><circle cx="320.9" cy="234.0" r="2.55"/><circle cx="320.9" cy="234.6" r="2.55"/><circle cx="320.9" cy="235.1" r="2.55"/><circle cx="320.9" cy="235.7" r="2.55"/><circle cx="320.9" cy="236.2" r="2.55"/><circle cx="320.9" cy="236.8" r="2.55"/><circle cx="320.9" cy="237.3" r="2.55"/><circle cx="320.9" cy="237.9" r="2.55"/><circle cx="320.9" cy="238.4" r="2.55"/><circle cx="320.9" cy="239.0" r="2.55"/><circle cx="320.9" cy="239.5" r="2.55"/><circle cx="320.9" cy="240.1" r="2.55"/><circle cx="320.9" cy="240.6" r="2.55"/><circle cx="320.9" cy="241.2" r="2.55"/><circle cx="320.9" cy="241.7" r="2.55"/><circle cx="320.9" cy="242.3" r="2.55"/><circle cx="320.9" cy="242.8" r="2.55"/><circle cx="320.9" cy="243.4" r="2.55"/><circle cx="320.9" cy="243.9" r="2.55"/><circle cx="320.9" cy="244.5" r="2.55"/><circle cx="320.9" cy="245.0" r="2.55"/><circle cx="320.9" cy="245.6" r="2.55"/><circle cx="320.9" cy="246.1" r="2.55"/><circle cx="333.3" cy="193.4" r="2.45"/><circle cx="333.3" cy="206.7" r="2.45"/><circle cx="333.3" cy="210.4" r="2.45"/><circle cx="333.3" cy="210.4" r="2.45"/><circle cx="333.3" cy="214.1" r="2.45"/><circle cx="333.3" cy="217.0" r="2.45"/><circle cx="333.3" cy="218.0" r="2.45"/><circle cx="333.3" cy="219.1" r="2.45"/><circle cx="333.3" cy="220.1" r="2.45"/><circle cx="333.3" cy="221.2" r="2.45"/><circle cx="333.3" cy="222.2" r="2.45"/><circle cx="333.3" cy="223.2" r="2.45"/><circle cx="333.3" cy="224.3" r="2.45"/><circle cx="333.3" cy="225.3" r="2.45"/><circle cx="333.3" cy="226.4" r="2.45"/><circle cx="333.3" cy="227.4" r="2.45"/><circle cx="333.3" cy="228.4" r="2.45"/><circle cx="333.3" cy="229.5" r="2.45"/><circle cx="333.3" cy="230.5" r="2.45"/><circle cx="333.3" cy="231.6" r="2.45"/><circle cx="333.3" cy="232.6" r="2.45"/><circle cx="333.3" cy="233.6" r="2.45"/><circle cx="333.3" cy="234.7" r="2.45"/><circle cx="333.3" cy="235.7" r="2.45"/><circle cx="333.3" cy="236.7" r="2.45"/><circle cx="333.3" cy="237.8" r="2.45"/><circle cx="333.3" cy="238.8" r="2.45"/><circle cx="333.3" cy="239.9" r="2.45"/><circle cx="333.3" cy="240.9" r="2.45"/><circle cx="333.3" cy="241.9" r="2.45"/><circle cx="333.3" cy="243.0" r="2.45"/><circle cx="333.3" cy="244.0" r="2.45"/><circle cx="333.3" cy="245.1" r="2.45"/><circle cx="333.3" cy="246.1" r="2.45"/><circle cx="333.3" cy="219.1" r="2.45"/><circle cx="333.3" cy="219.1" r="2.45"/><circle cx="333.3" cy="224.7" r="2.45"/><circle cx="333.3" cy="224.7" r="2.45"/><circle cx="333.3" cy="229.0" r="2.55"/><circle cx="333.3" cy="229.6" r="2.55"/><circle cx="333.3" cy="230.1" r="2.55"/><circle cx="333.3" cy="230.7" r="2.55"/><circle cx="333.3" cy="231.2" r="2.55"/><circle cx="333.3" cy="231.8" r="2.55"/><circle cx="333.3" cy="232.3" r="2.55"/><circle cx="333.3" cy="232.9" r="2.55"/><circle cx="333.3" cy="233.4" r="2.55"/><circle cx="333.3" cy="234.0" r="2.55"/><circle cx="333.3" cy="234.5" r="2.55"/><circle cx="333.3" cy="235.1" r="2.55"/><circle cx="333.3" cy="235.6" r="2.55"/><circle cx="333.3" cy="236.2" r="2.55"/><circle cx="333.3" cy="236.7" r="2.55"/><circle cx="333.3" cy="237.3" r="2.55"/><circle cx="333.3" cy="237.8" r="2.55"/><circle cx="333.3" cy="238.4" r="2.55"/><circle cx="333.3" cy="238.9" r="2.55"/><circle cx="333.3" cy="239.5" r="2.55"/><circle cx="333.3" cy="240.0" r="2.55"/><circle cx="333.3" cy="240.6" r="2.55"/><circle cx="333.3" cy="241.1" r="2.55"/><circle cx="333.3" cy="241.7" r="2.55"/><circle cx="333.3" cy="242.2" r="2.55"/><circle cx="333.3" cy="242.8" r="2.55"/><circle cx="333.3" cy="243.3" r="2.55"/><circle cx="333.3" cy="243.9" r="2.55"/><circle cx="333.3" cy="244.4" r="2.55"/><circle cx="333.3" cy="245.0" r="2.55"/><circle cx="333.3" cy="245.5" r="2.55"/><circle cx="333.3" cy="246.1" r="2.55"/><circle cx="345.8" cy="190.2" r="2.45"/><circle cx="345.8" cy="196.7" r="2.45"/><circle cx="345.8" cy="209.2" r="2.45"/><circle cx="345.8" cy="209.2" r="2.45"/><circle cx="345.8" cy="213.5" r="2.45"/><circle cx="345.8" cy="216.0" r="2.45"/><circle cx="345.8" cy="217.0" r="2.45"/><circle cx="345.8" cy="218.1" r="2.45"/><circle cx="345.8" cy="219.1" r="2.45"/><circle cx="345.8" cy="220.2" r="2.45"/><circle cx="345.8" cy="221.2" r="2.45"/><circle cx="345.8" cy="222.2" r="2.45"/><circle cx="345.8" cy="223.3" r="2.45"/><circle cx="345.8" cy="224.3" r="2.45"/><circle cx="345.8" cy="225.3" r="2.45"/><circle cx="345.8" cy="226.4" r="2.45"/><circle cx="345.8" cy="227.4" r="2.45"/><circle cx="345.8" cy="228.5" r="2.45"/><circle cx="345.8" cy="229.5" r="2.45"/><circle cx="345.8" cy="230.5" r="2.45"/><circle cx="345.8" cy="231.6" r="2.45"/><circle cx="345.8" cy="232.6" r="2.45"/><circle cx="345.8" cy="233.6" r="2.45"/><circle cx="345.8" cy="234.7" r="2.45"/><circle cx="345.8" cy="235.7" r="2.45"/><circle cx="345.8" cy="236.8" r="2.45"/><circle cx="345.8" cy="237.8" r="2.45"/><circle cx="345.8" cy="238.8" r="2.45"/><circle cx="345.8" cy="239.9" r="2.45"/><circle cx="345.8" cy="240.9" r="2.45"/><circle cx="345.8" cy="241.9" r="2.45"/><circle cx="345.8" cy="243.0" r="2.45"/><circle cx="345.8" cy="244.0" r="2.45"/><circle cx="345.8" cy="245.1" r="2.45"/><circle cx="345.8" cy="246.1" r="2.45"/><circle cx="345.8" cy="221.0" r="2.45"/><circle cx="345.8" cy="221.0" r="2.45"/><circle cx="345.8" cy="226.0" r="2.55"/><circle cx="345.8" cy="226.5" r="2.55"/><circle cx="345.8" cy="227.1" r="2.55"/><circle cx="345.8" cy="227.6" r="2.55"/><circle cx="345.8" cy="228.2" r="2.55"/><circle cx="345.8" cy="228.7" r="2.55"/><circle cx="345.8" cy="229.3" r="2.55"/><circle cx="345.8" cy="229.8" r="2.55"/><circle cx="345.8" cy="230.3" r="2.55"/><circle cx="345.8" cy="230.9" r="2.55"/><circle cx="345.8" cy="231.4" r="2.55"/><circle cx="345.8" cy="232.0" r="2.55"/><circle cx="345.8" cy="232.5" r="2.55"/><circle cx="345.8" cy="233.1" r="2.55"/><circle cx="345.8" cy="233.6" r="2.55"/><circle cx="345.8" cy="234.1" r="2.55"/><circle cx="345.8" cy="234.7" r="2.55"/><circle cx="345.8" cy="235.2" r="2.55"/><circle cx="345.8" cy="235.8" r="2.55"/><circle cx="345.8" cy="236.3" r="2.55"/><circle cx="345.8" cy="236.9" r="2.55"/><circle cx="345.8" cy="237.4" r="2.55"/><circle cx="345.8" cy="238.0" r="2.55"/><circle cx="345.8" cy="238.5" r="2.55"/><circle cx="345.8" cy="239.0" r="2.55"/><circle cx="345.8" cy="239.6" r="2.55"/><circle cx="345.8" cy="240.1" r="2.55"/><circle cx="345.8" cy="240.7" r="2.55"/><circle cx="345.8" cy="241.2" r="2.55"/><circle cx="345.8" cy="241.8" r="2.55"/><circle cx="345.8" cy="242.3" r="2.55"/><circle cx="345.8" cy="242.8" r="2.55"/><circle cx="345.8" cy="243.4" r="2.55"/><circle cx="345.8" cy="243.9" r="2.55"/><circle cx="345.8" cy="244.5" r="2.55"/><circle cx="345.8" cy="245.0" r="2.55"/><circle cx="345.8" cy="245.6" r="2.55"/><circle cx="345.8" cy="246.1" r="2.55"/><circle cx="358.2" cy="201.7" r="2.45"/><circle cx="358.2" cy="201.7" r="2.45"/><circle cx="358.2" cy="207.3" r="2.45"/><circle cx="358.2" cy="207.3" r="2.45"/><circle cx="358.2" cy="211.6" r="2.45"/><circle cx="358.2" cy="214.0" r="2.45"/><circle cx="358.2" cy="215.0" r="2.45"/><circle cx="358.2" cy="216.0" r="2.45"/><circle cx="358.2" cy="217.0" r="2.45"/><circle cx="358.2" cy="218.0" r="2.45"/><circle cx="358.2" cy="218.0" r="2.55"/><circle cx="358.2" cy="218.6" r="2.55"/><circle cx="358.2" cy="219.1" r="2.55"/><circle cx="358.2" cy="219.7" r="2.55"/><circle cx="358.2" cy="220.2" r="2.55"/><circle cx="358.2" cy="220.8" r="2.55"/><circle cx="358.2" cy="221.3" r="2.55"/><circle cx="358.2" cy="221.9" r="2.55"/><circle cx="358.2" cy="222.4" r="2.55"/><circle cx="358.2" cy="223.0" r="2.55"/><circle cx="358.2" cy="223.5" r="2.55"/><circle cx="358.2" cy="224.1" r="2.55"/><circle cx="358.2" cy="224.6" r="2.55"/><circle cx="358.2" cy="225.2" r="2.55"/><circle cx="358.2" cy="225.7" r="2.55"/><circle cx="358.2" cy="226.3" r="2.55"/><circle cx="358.2" cy="226.8" r="2.55"/><circle cx="358.2" cy="227.4" r="2.55"/><circle cx="358.2" cy="227.9" r="2.55"/><circle cx="358.2" cy="228.5" r="2.55"/><circle cx="358.2" cy="229.0" r="2.55"/><circle cx="358.2" cy="229.6" r="2.55"/><circle cx="358.2" cy="230.1" r="2.55"/><circle cx="358.2" cy="230.7" r="2.55"/><circle cx="358.2" cy="231.2" r="2.55"/><circle cx="358.2" cy="231.8" r="2.55"/><circle cx="358.2" cy="232.3" r="2.55"/><circle cx="358.2" cy="232.9" r="2.55"/><circle cx="358.2" cy="233.4" r="2.55"/><circle cx="358.2" cy="234.0" r="2.55"/><circle cx="358.2" cy="234.5" r="2.55"/><circle cx="358.2" cy="235.1" r="2.55"/><circle cx="358.2" cy="235.6" r="2.55"/><circle cx="358.2" cy="236.2" r="2.55"/><circle cx="358.2" cy="236.7" r="2.55"/><circle cx="358.2" cy="237.3" r="2.55"/><circle cx="358.2" cy="237.8" r="2.55"/><circle cx="358.2" cy="238.4" r="2.55"/><circle cx="358.2" cy="238.9" r="2.55"/><circle cx="358.2" cy="239.5" r="2.55"/><circle cx="358.2" cy="240.0" r="2.55"/><circle cx="358.2" cy="240.6" r="2.55"/><circle cx="358.2" cy="241.1" r="2.55"/><circle cx="358.2" cy="241.7" r="2.55"/><circle cx="358.2" cy="242.2" r="2.55"/><circle cx="358.2" cy="242.8" r="2.55"/><circle cx="358.2" cy="243.3" r="2.55"/><circle cx="358.2" cy="243.9" r="2.55"/><circle cx="358.2" cy="244.4" r="2.55"/><circle cx="358.2" cy="245.0" r="2.55"/><circle cx="358.2" cy="245.5" r="2.55"/><circle cx="358.2" cy="246.1" r="2.55"/><circle cx="370.6" cy="182.5" r="2.45"/><circle cx="370.6" cy="199.2" r="2.45"/><circle cx="370.6" cy="204.2" r="2.45"/><circle cx="370.6" cy="208.5" r="2.45"/><circle cx="370.6" cy="212.0" r="2.45"/><circle cx="370.6" cy="213.1" r="2.45"/><circle cx="370.6" cy="214.1" r="2.45"/><circle cx="370.6" cy="215.2" r="2.45"/><circle cx="370.6" cy="216.3" r="2.45"/><circle cx="370.6" cy="217.3" r="2.45"/><circle cx="370.6" cy="218.4" r="2.45"/><circle cx="370.6" cy="219.5" r="2.45"/><circle cx="370.6" cy="220.5" r="2.45"/><circle cx="370.6" cy="221.6" r="2.45"/><circle cx="370.6" cy="222.7" r="2.45"/><circle cx="370.6" cy="223.7" r="2.45"/><circle cx="370.6" cy="224.8" r="2.45"/><circle cx="370.6" cy="225.9" r="2.45"/><circle cx="370.6" cy="226.9" r="2.45"/><circle cx="370.6" cy="228.0" r="2.45"/><circle cx="370.6" cy="229.1" r="2.45"/><circle cx="370.6" cy="230.1" r="2.45"/><circle cx="370.6" cy="231.2" r="2.45"/><circle cx="370.6" cy="232.2" r="2.45"/><circle cx="370.6" cy="233.3" r="2.45"/><circle cx="370.6" cy="234.4" r="2.45"/><circle cx="370.6" cy="235.4" r="2.45"/><circle cx="370.6" cy="236.5" r="2.45"/><circle cx="370.6" cy="237.6" r="2.45"/><circle cx="370.6" cy="238.6" r="2.45"/><circle cx="370.6" cy="239.7" r="2.45"/><circle cx="370.6" cy="240.8" r="2.45"/><circle cx="370.6" cy="241.8" r="2.45"/><circle cx="370.6" cy="242.9" r="2.45"/><circle cx="370.6" cy="244.0" r="2.45"/><circle cx="370.6" cy="245.0" r="2.45"/><circle cx="370.6" cy="246.1" r="2.45"/><circle cx="370.6" cy="218.5" r="2.45"/><circle cx="370.6" cy="218.5" r="2.45"/><circle cx="370.6" cy="227.1" r="2.45"/><circle cx="370.6" cy="227.1" r="2.45"/><circle cx="370.6" cy="229.0" r="2.55"/><circle cx="370.6" cy="229.6" r="2.55"/><circle cx="370.6" cy="230.1" r="2.55"/><circle cx="370.6" cy="230.7" r="2.55"/><circle cx="370.6" cy="231.2" r="2.55"/><circle cx="370.6" cy="231.8" r="2.55"/><circle cx="370.6" cy="232.3" r="2.55"/><circle cx="370.6" cy="232.9" r="2.55"/><circle cx="370.6" cy="233.4" r="2.55"/><circle cx="370.6" cy="234.0" r="2.55"/><circle cx="370.6" cy="234.5" r="2.55"/><circle cx="370.6" cy="235.1" r="2.55"/><circle cx="370.6" cy="235.6" r="2.55"/><circle cx="370.6" cy="236.2" r="2.55"/><circle cx="370.6" cy="236.7" r="2.55"/><circle cx="370.6" cy="237.3" r="2.55"/><circle cx="370.6" cy="237.8" r="2.55"/><circle cx="370.6" cy="238.4" r="2.55"/><circle cx="370.6" cy="238.9" r="2.55"/><circle cx="370.6" cy="239.5" r="2.55"/><circle cx="370.6" cy="240.0" r="2.55"/><circle cx="370.6" cy="240.6" r="2.55"/><circle cx="370.6" cy="241.1" r="2.55"/><circle cx="370.6" cy="241.7" r="2.55"/><circle cx="370.6" cy="242.2" r="2.55"/><circle cx="370.6" cy="242.8" r="2.55"/><circle cx="370.6" cy="243.3" r="2.55"/><circle cx="370.6" cy="243.9" r="2.55"/><circle cx="370.6" cy="244.4" r="2.55"/><circle cx="370.6" cy="245.0" r="2.55"/><circle cx="370.6" cy="245.5" r="2.55"/><circle cx="370.6" cy="246.1" r="2.55"/><circle cx="383.1" cy="180.4" r="2.45"/><circle cx="383.1" cy="199.2" r="2.45"/><circle cx="383.1" cy="199.2" r="2.45"/><circle cx="383.1" cy="207.3" r="2.45"/><circle cx="383.1" cy="207.3" r="2.45"/><circle cx="383.1" cy="212.0" r="2.45"/><circle cx="383.1" cy="213.1" r="2.45"/><circle cx="383.1" cy="214.1" r="2.45"/><circle cx="383.1" cy="215.2" r="2.45"/><circle cx="383.1" cy="216.3" r="2.45"/><circle cx="383.1" cy="217.4" r="2.45"/><circle cx="383.1" cy="218.4" r="2.45"/><circle cx="383.1" cy="219.5" r="2.45"/><circle cx="383.1" cy="220.6" r="2.45"/><circle cx="383.1" cy="221.6" r="2.45"/><circle cx="383.1" cy="222.7" r="2.45"/><circle cx="383.1" cy="223.8" r="2.45"/><circle cx="383.1" cy="224.9" r="2.45"/><circle cx="383.1" cy="225.9" r="2.45"/><circle cx="383.1" cy="227.0" r="2.45"/><circle cx="383.1" cy="216.0" r="2.45"/><circle cx="383.1" cy="216.0" r="2.45"/><circle cx="383.1" cy="227.0" r="2.55"/><circle cx="383.1" cy="227.5" r="2.55"/><circle cx="383.1" cy="228.1" r="2.55"/><circle cx="383.1" cy="228.6" r="2.55"/><circle cx="383.1" cy="229.2" r="2.55"/><circle cx="383.1" cy="229.7" r="2.55"/><circle cx="383.1" cy="230.3" r="2.55"/><circle cx="383.1" cy="230.8" r="2.55"/><circle cx="383.1" cy="231.4" r="2.55"/><circle cx="383.1" cy="231.9" r="2.55"/><circle cx="383.1" cy="232.5" r="2.55"/><circle cx="383.1" cy="233.0" r="2.55"/><circle cx="383.1" cy="233.5" r="2.55"/><circle cx="383.1" cy="234.1" r="2.55"/><circle cx="383.1" cy="234.6" r="2.55"/><circle cx="383.1" cy="235.2" r="2.55"/><circle cx="383.1" cy="235.7" r="2.55"/><circle cx="383.1" cy="236.3" r="2.55"/><circle cx="383.1" cy="236.8" r="2.55"/><circle cx="383.1" cy="237.4" r="2.55"/><circle cx="383.1" cy="237.9" r="2.55"/><circle cx="383.1" cy="238.5" r="2.55"/><circle cx="383.1" cy="239.0" r="2.55"/><circle cx="383.1" cy="239.6" r="2.55"/><circle cx="383.1" cy="240.1" r="2.55"/><circle cx="383.1" cy="240.6" r="2.55"/><circle cx="383.1" cy="241.2" r="2.55"/><circle cx="383.1" cy="241.7" r="2.55"/><circle cx="383.1" cy="242.3" r="2.55"/><circle cx="383.1" cy="242.8" r="2.55"/><circle cx="383.1" cy="243.4" r="2.55"/><circle cx="383.1" cy="243.9" r="2.55"/><circle cx="383.1" cy="244.5" r="2.55"/><circle cx="383.1" cy="245.0" r="2.55"/><circle cx="383.1" cy="245.6" r="2.55"/><circle cx="383.1" cy="246.1" r="2.55"/><circle cx="395.5" cy="193.0" r="2.45"/><circle cx="395.5" cy="203.6" r="2.45"/><circle cx="395.5" cy="206.7" r="2.45"/><circle cx="395.5" cy="209.0" r="2.45"/><circle cx="395.5" cy="210.1" r="2.45"/><circle cx="395.5" cy="211.1" r="2.45"/><circle cx="395.5" cy="212.2" r="2.45"/><circle cx="395.5" cy="213.2" r="2.45"/><circle cx="395.5" cy="214.3" r="2.45"/><circle cx="395.5" cy="215.4" r="2.45"/><circle cx="395.5" cy="216.4" r="2.45"/><circle cx="395.5" cy="217.5" r="2.45"/><circle cx="395.5" cy="218.5" r="2.45"/><circle cx="395.5" cy="219.6" r="2.45"/><circle cx="395.5" cy="220.7" r="2.45"/><circle cx="395.5" cy="221.7" r="2.45"/><circle cx="395.5" cy="222.8" r="2.45"/><circle cx="395.5" cy="223.8" r="2.45"/><circle cx="395.5" cy="224.9" r="2.45"/><circle cx="395.5" cy="226.0" r="2.45"/><circle cx="395.5" cy="227.0" r="2.45"/><circle cx="395.5" cy="228.1" r="2.45"/><circle cx="395.5" cy="229.1" r="2.45"/><circle cx="395.5" cy="230.2" r="2.45"/><circle cx="395.5" cy="231.3" r="2.45"/><circle cx="395.5" cy="232.3" r="2.45"/><circle cx="395.5" cy="233.4" r="2.45"/><circle cx="395.5" cy="234.4" r="2.45"/><circle cx="395.5" cy="235.5" r="2.45"/><circle cx="395.5" cy="236.6" r="2.45"/><circle cx="395.5" cy="237.6" r="2.45"/><circle cx="395.5" cy="238.7" r="2.45"/><circle cx="395.5" cy="239.7" r="2.45"/><circle cx="395.5" cy="240.8" r="2.45"/><circle cx="395.5" cy="241.9" r="2.45"/><circle cx="395.5" cy="242.9" r="2.45"/><circle cx="395.5" cy="244.0" r="2.45"/><circle cx="395.5" cy="245.0" r="2.45"/><circle cx="395.5" cy="246.1" r="2.45"/><circle cx="395.5" cy="212.3" r="2.45"/><circle cx="395.5" cy="212.3" r="2.45"/><circle cx="395.5" cy="219.7" r="2.45"/><circle cx="395.5" cy="219.7" r="2.45"/><circle cx="395.5" cy="229.0" r="2.55"/><circle cx="395.5" cy="229.6" r="2.55"/><circle cx="395.5" cy="230.1" r="2.55"/><circle cx="395.5" cy="230.7" r="2.55"/><circle cx="395.5" cy="231.2" r="2.55"/><circle cx="395.5" cy="231.8" r="2.55"/><circle cx="395.5" cy="232.3" r="2.55"/><circle cx="395.5" cy="232.9" r="2.55"/><circle cx="395.5" cy="233.4" r="2.55"/><circle cx="395.5" cy="234.0" r="2.55"/><circle cx="395.5" cy="234.5" r="2.55"/><circle cx="395.5" cy="235.1" r="2.55"/><circle cx="395.5" cy="235.6" r="2.55"/><circle cx="395.5" cy="236.2" r="2.55"/><circle cx="395.5" cy="236.7" r="2.55"/><circle cx="395.5" cy="237.3" r="2.55"/><circle cx="395.5" cy="237.8" r="2.55"/><circle cx="395.5" cy="238.4" r="2.55"/><circle cx="395.5" cy="238.9" r="2.55"/><circle cx="395.5" cy="239.5" r="2.55"/><circle cx="395.5" cy="240.0" r="2.55"/><circle cx="395.5" cy="240.6" r="2.55"/><circle cx="395.5" cy="241.1" r="2.55"/><circle cx="395.5" cy="241.7" r="2.55"/><circle cx="395.5" cy="242.2" r="2.55"/><circle cx="395.5" cy="242.8" r="2.55"/><circle cx="395.5" cy="243.3" r="2.55"/><circle cx="395.5" cy="243.9" r="2.55"/><circle cx="395.5" cy="244.4" r="2.55"/><circle cx="395.5" cy="245.0" r="2.55"/><circle cx="395.5" cy="245.5" r="2.55"/><circle cx="395.5" cy="246.1" r="2.55"/><circle cx="408.0" cy="204.4" r="2.45"/><circle cx="408.0" cy="204.4" r="2.45"/><circle cx="408.0" cy="206.0" r="2.45"/><circle cx="408.0" cy="207.0" r="2.45"/><circle cx="408.0" cy="208.0" r="2.45"/><circle cx="408.0" cy="209.0" r="2.45"/><circle cx="408.0" cy="210.0" r="2.45"/><circle cx="408.0" cy="211.0" r="2.45"/><circle cx="408.0" cy="212.0" r="2.45"/><circle cx="408.0" cy="213.0" r="2.45"/><circle cx="408.0" cy="214.0" r="2.45"/><circle cx="408.0" cy="215.0" r="2.45"/><circle cx="408.0" cy="216.0" r="2.45"/><circle cx="408.0" cy="217.8" r="2.45"/><circle cx="408.0" cy="217.8" r="2.45"/><circle cx="408.0" cy="217.8" r="2.45"/><circle cx="408.0" cy="223.4" r="2.45"/><circle cx="408.0" cy="223.4" r="2.45"/><circle cx="408.0" cy="227.2" r="2.55"/><circle cx="408.0" cy="227.7" r="2.55"/><circle cx="408.0" cy="228.3" r="2.55"/><circle cx="408.0" cy="228.8" r="2.55"/><circle cx="408.0" cy="229.4" r="2.55"/><circle cx="408.0" cy="229.9" r="2.55"/><circle cx="408.0" cy="230.5" r="2.55"/><circle cx="408.0" cy="231.0" r="2.55"/><circle cx="408.0" cy="231.6" r="2.55"/><circle cx="408.0" cy="232.1" r="2.55"/><circle cx="408.0" cy="232.7" r="2.55"/><circle cx="408.0" cy="233.2" r="2.55"/><circle cx="408.0" cy="233.8" r="2.55"/><circle cx="408.0" cy="234.3" r="2.55"/><circle cx="408.0" cy="234.9" r="2.55"/><circle cx="408.0" cy="235.4" r="2.55"/><circle cx="408.0" cy="236.0" r="2.55"/><circle cx="408.0" cy="236.5" r="2.55"/><circle cx="408.0" cy="237.1" r="2.55"/><circle cx="408.0" cy="237.6" r="2.55"/><circle cx="408.0" cy="238.2" r="2.55"/><circle cx="408.0" cy="238.7" r="2.55"/><circle cx="408.0" cy="239.3" r="2.55"/><circle cx="408.0" cy="239.8" r="2.55"/><circle cx="408.0" cy="240.4" r="2.55"/><circle cx="408.0" cy="240.9" r="2.55"/><circle cx="408.0" cy="241.5" r="2.55"/><circle cx="408.0" cy="242.0" r="2.55"/><circle cx="408.0" cy="242.6" r="2.55"/><circle cx="408.0" cy="243.1" r="2.55"/><circle cx="408.0" cy="243.7" r="2.55"/><circle cx="408.0" cy="244.2" r="2.55"/><circle cx="432.8" cy="204.7" r="2.45"/><circle cx="432.8" cy="204.7" r="2.45"/><circle cx="432.8" cy="208.5" r="2.45"/><circle cx="432.8" cy="213.0" r="2.45"/><circle cx="432.8" cy="213.0" r="2.45"/><circle cx="432.8" cy="213.0" r="2.45"/><circle cx="432.8" cy="216.0" r="2.45"/><circle cx="432.8" cy="217.0" r="2.45"/><circle cx="432.8" cy="218.0" r="2.45"/><circle cx="432.8" cy="219.0" r="2.45"/><circle cx="432.8" cy="220.0" r="2.45"/><circle cx="432.8" cy="221.0" r="2.45"/><circle cx="432.8" cy="222.0" r="2.45"/><circle cx="432.8" cy="223.0" r="2.45"/><circle cx="432.8" cy="224.0" r="2.45"/><circle cx="432.8" cy="225.0" r="2.45"/><circle cx="432.8" cy="225.0" r="2.55"/><circle cx="432.8" cy="225.5" r="2.55"/><circle cx="432.8" cy="226.1" r="2.55"/><circle cx="432.8" cy="226.6" r="2.55"/><circle cx="432.8" cy="227.2" r="2.55"/><circle cx="432.8" cy="227.7" r="2.55"/><circle cx="432.8" cy="228.3" r="2.55"/><circle cx="432.8" cy="228.8" r="2.55"/><circle cx="432.8" cy="229.4" r="2.55"/><circle cx="432.8" cy="229.9" r="2.55"/><circle cx="432.8" cy="230.4" r="2.55"/><circle cx="432.8" cy="231.0" r="2.55"/><circle cx="432.8" cy="231.5" r="2.55"/><circle cx="432.8" cy="232.1" r="2.55"/><circle cx="432.8" cy="232.6" r="2.55"/><circle cx="432.8" cy="233.2" r="2.55"/><circle cx="432.8" cy="233.7" r="2.55"/><circle cx="432.8" cy="234.3" r="2.55"/><circle cx="432.8" cy="234.8" r="2.55"/><circle cx="432.8" cy="235.3" r="2.55"/><circle cx="432.8" cy="235.9" r="2.55"/><circle cx="432.8" cy="236.4" r="2.55"/><circle cx="432.8" cy="237.0" r="2.55"/><circle cx="432.8" cy="237.5" r="2.55"/><circle cx="432.8" cy="238.1" r="2.55"/><circle cx="432.8" cy="238.6" r="2.55"/><circle cx="432.8" cy="239.2" r="2.55"/><circle cx="432.8" cy="239.7" r="2.55"/><circle cx="432.8" cy="240.3" r="2.55"/><circle cx="432.8" cy="240.8" r="2.55"/><circle cx="432.8" cy="241.3" r="2.55"/><circle cx="432.8" cy="241.9" r="2.55"/><circle cx="432.8" cy="242.4" r="2.55"/><circle cx="432.8" cy="243.0" r="2.55"/><circle cx="432.8" cy="243.5" r="2.55"/><circle cx="432.8" cy="244.1" r="2.55"/><circle cx="432.8" cy="244.6" r="2.55"/><circle cx="432.8" cy="245.2" r="2.55"/><circle cx="432.8" cy="245.7" r="2.55"/><circle cx="495.0" cy="177.9" r="2.45"/><circle cx="495.0" cy="193.2" r="2.45"/><circle cx="495.0" cy="200.5" r="2.45"/><circle cx="495.0" cy="202.0" r="2.55"/><circle cx="495.0" cy="202.6" r="2.55"/><circle cx="495.0" cy="203.1" r="2.55"/><circle cx="495.0" cy="203.7" r="2.55"/><circle cx="495.0" cy="204.3" r="2.55"/><circle cx="495.0" cy="204.9" r="2.55"/><circle cx="495.0" cy="205.4" r="2.55"/><circle cx="495.0" cy="206.0" r="2.55"/><circle cx="495.0" cy="212.0" r="2.45"/><circle cx="495.0" cy="212.0" r="2.45"/><circle cx="495.0" cy="214.5" r="2.45"/><circle cx="495.0" cy="214.5" r="2.45"/><circle cx="495.0" cy="216.9" r="2.45"/><circle cx="495.0" cy="216.9" r="2.45"/><circle cx="495.0" cy="219.4" r="2.45"/><circle cx="495.0" cy="219.4" r="2.45"/><circle cx="495.0" cy="221.8" r="2.45"/><circle cx="495.0" cy="221.8" r="2.45"/><circle cx="495.0" cy="224.3" r="2.45"/><circle cx="495.0" cy="224.3" r="2.45"/><circle cx="495.0" cy="226.8" r="2.45"/><circle cx="495.0" cy="226.8" r="2.45"/><circle cx="495.0" cy="229.2" r="2.45"/><circle cx="495.0" cy="229.2" r="2.45"/><circle cx="495.0" cy="231.7" r="2.45"/><circle cx="495.0" cy="231.7" r="2.45"/><circle cx="495.0" cy="234.2" r="2.45"/><circle cx="495.0" cy="234.2" r="2.45"/><circle cx="495.0" cy="236.6" r="2.45"/><circle cx="495.0" cy="236.6" r="2.45"/><circle cx="495.0" cy="239.1" r="2.45"/><circle cx="495.0" cy="239.1" r="2.45"/><circle cx="495.0" cy="241.5" r="2.45"/><circle cx="495.0" cy="241.5" r="2.45"/><circle cx="495.0" cy="244.0" r="2.45"/><circle cx="495.0" cy="244.0" r="2.45"/><circle cx="495.0" cy="220.0" r="2.45"/><circle cx="495.0" cy="221.0" r="2.45"/><circle cx="495.0" cy="222.1" r="2.45"/><circle cx="495.0" cy="223.1" r="2.45"/><circle cx="495.0" cy="224.2" r="2.45"/><circle cx="495.0" cy="225.2" r="2.45"/><circle cx="495.0" cy="226.3" r="2.45"/><circle cx="495.0" cy="227.3" r="2.45"/><circle cx="495.0" cy="228.3" r="2.45"/><circle cx="495.0" cy="229.4" r="2.45"/><circle cx="495.0" cy="230.4" r="2.45"/><circle cx="495.0" cy="231.5" r="2.45"/><circle cx="495.0" cy="232.5" r="2.45"/><circle cx="495.0" cy="233.6" r="2.45"/><circle cx="495.0" cy="234.6" r="2.45"/><circle cx="495.0" cy="235.7" r="2.45"/><circle cx="495.0" cy="236.7" r="2.45"/><circle cx="495.0" cy="237.7" r="2.45"/><circle cx="495.0" cy="238.8" r="2.45"/><circle cx="495.0" cy="239.8" r="2.45"/><circle cx="495.0" cy="240.9" r="2.45"/><circle cx="495.0" cy="241.9" r="2.45"/><circle cx="495.0" cy="243.0" r="2.45"/><circle cx="495.0" cy="244.0" r="2.45"/><circle cx="507.5" cy="184.3" r="2.45"/><circle cx="507.5" cy="202.3" r="2.45"/><circle cx="507.5" cy="204.0" r="2.45"/><circle cx="507.5" cy="204.0" r="2.45"/><circle cx="507.5" cy="206.5" r="2.45"/><circle cx="507.5" cy="206.5" r="2.45"/><circle cx="507.5" cy="208.9" r="2.45"/><circle cx="507.5" cy="208.9" r="2.45"/><circle cx="507.5" cy="211.4" r="2.45"/><circle cx="507.5" cy="211.4" r="2.45"/><circle cx="507.5" cy="213.8" r="2.45"/><circle cx="507.5" cy="213.8" r="2.45"/><circle cx="507.5" cy="216.3" r="2.45"/><circle cx="507.5" cy="216.3" r="2.45"/><circle cx="507.5" cy="218.7" r="2.45"/><circle cx="507.5" cy="218.7" r="2.45"/><circle cx="507.5" cy="221.2" r="2.45"/><circle cx="507.5" cy="221.2" r="2.45"/><circle cx="507.5" cy="223.7" r="2.45"/><circle cx="507.5" cy="223.7" r="2.45"/><circle cx="507.5" cy="226.1" r="2.45"/><circle cx="507.5" cy="226.1" r="2.45"/><circle cx="507.5" cy="228.6" r="2.45"/><circle cx="507.5" cy="228.6" r="2.45"/><circle cx="507.5" cy="231.0" r="2.45"/><circle cx="507.5" cy="231.0" r="2.45"/><circle cx="507.5" cy="233.5" r="2.45"/><circle cx="507.5" cy="233.5" r="2.45"/><circle cx="507.5" cy="235.9" r="2.45"/><circle cx="507.5" cy="235.9" r="2.45"/><circle cx="507.5" cy="238.4" r="2.45"/><circle cx="507.5" cy="238.4" r="2.45"/><circle cx="507.5" cy="240.8" r="2.45"/><circle cx="507.5" cy="240.8" r="2.45"/><circle cx="507.5" cy="243.3" r="2.45"/><circle cx="507.5" cy="243.3" r="2.45"/><circle cx="507.5" cy="213.0" r="2.45"/><circle cx="507.5" cy="214.0" r="2.45"/><circle cx="507.5" cy="215.1" r="2.45"/><circle cx="507.5" cy="216.1" r="2.45"/><circle cx="507.5" cy="217.2" r="2.45"/><circle cx="507.5" cy="218.2" r="2.45"/><circle cx="507.5" cy="219.3" r="2.45"/><circle cx="507.5" cy="220.3" r="2.45"/><circle cx="507.5" cy="221.4" r="2.45"/><circle cx="507.5" cy="222.4" r="2.45"/><circle cx="507.5" cy="223.4" r="2.45"/><circle cx="507.5" cy="224.5" r="2.45"/><circle cx="507.5" cy="225.5" r="2.45"/><circle cx="507.5" cy="226.6" r="2.45"/><circle cx="507.5" cy="227.6" r="2.45"/><circle cx="507.5" cy="228.7" r="2.45"/><circle cx="507.5" cy="229.7" r="2.45"/><circle cx="507.5" cy="230.8" r="2.45"/><circle cx="507.5" cy="231.8" r="2.45"/><circle cx="507.5" cy="232.9" r="2.45"/><circle cx="507.5" cy="233.9" r="2.45"/><circle cx="507.5" cy="234.9" r="2.45"/><circle cx="507.5" cy="236.0" r="2.45"/><circle cx="507.5" cy="237.0" r="2.45"/><circle cx="507.5" cy="238.1" r="2.45"/><circle cx="507.5" cy="239.1" r="2.45"/><circle cx="507.5" cy="240.2" r="2.45"/><circle cx="507.5" cy="241.2" r="2.45"/><circle cx="507.5" cy="242.3" r="2.45"/><circle cx="507.5" cy="243.3" r="2.45"/><circle cx="656.8" cy="195.8" r="2.45"/><circle cx="656.8" cy="198.9" r="2.45"/><circle cx="656.8" cy="198.9" r="2.45"/><circle cx="656.8" cy="206.5" r="2.45"/><circle cx="656.8" cy="209.6" r="2.45"/><circle cx="656.8" cy="213.0" r="2.45"/><circle cx="656.8" cy="213.0" r="2.45"/><circle cx="656.8" cy="215.4" r="2.45"/><circle cx="656.8" cy="215.4" r="2.45"/><circle cx="656.8" cy="217.8" r="2.45"/><circle cx="656.8" cy="217.8" r="2.45"/><circle cx="656.8" cy="220.2" r="2.45"/><circle cx="656.8" cy="220.2" r="2.45"/><circle cx="656.8" cy="222.6" r="2.45"/><circle cx="656.8" cy="222.6" r="2.45"/><circle cx="656.8" cy="225.0" r="2.45"/><circle cx="656.8" cy="225.0" r="2.45"/><circle cx="656.8" cy="227.4" r="2.45"/><circle cx="656.8" cy="227.4" r="2.45"/><circle cx="656.8" cy="229.9" r="2.45"/><circle cx="656.8" cy="229.9" r="2.45"/><circle cx="656.8" cy="232.3" r="2.45"/><circle cx="656.8" cy="232.3" r="2.45"/><circle cx="656.8" cy="234.7" r="2.45"/><circle cx="656.8" cy="234.7" r="2.45"/><circle cx="656.8" cy="237.1" r="2.45"/><circle cx="656.8" cy="237.1" r="2.45"/><circle cx="656.8" cy="239.5" r="2.45"/><circle cx="656.8" cy="239.5" r="2.45"/><circle cx="656.8" cy="241.9" r="2.45"/><circle cx="656.8" cy="241.9" r="2.45"/><circle cx="656.8" cy="244.3" r="2.45"/><circle cx="656.8" cy="244.3" r="2.45"/><circle cx="656.8" cy="218.0" r="2.45"/><circle cx="656.8" cy="219.1" r="2.45"/><circle cx="656.8" cy="220.1" r="2.45"/><circle cx="656.8" cy="221.2" r="2.45"/><circle cx="656.8" cy="222.2" r="2.45"/><circle cx="656.8" cy="223.3" r="2.45"/><circle cx="656.8" cy="224.3" r="2.45"/><circle cx="656.8" cy="225.4" r="2.45"/><circle cx="656.8" cy="226.4" r="2.45"/><circle cx="656.8" cy="227.5" r="2.45"/><circle cx="656.8" cy="228.5" r="2.45"/><circle cx="656.8" cy="229.6" r="2.45"/><circle cx="656.8" cy="230.6" r="2.45"/><circle cx="656.8" cy="231.7" r="2.45"/><circle cx="656.8" cy="232.7" r="2.45"/><circle cx="656.8" cy="233.8" r="2.45"/><circle cx="656.8" cy="234.8" r="2.45"/><circle cx="656.8" cy="235.9" r="2.45"/><circle cx="656.8" cy="236.9" r="2.45"/><circle cx="656.8" cy="238.0" r="2.45"/><circle cx="656.8" cy="239.0" r="2.45"/><circle cx="656.8" cy="240.1" r="2.45"/><circle cx="656.8" cy="241.1" r="2.45"/><circle cx="656.8" cy="242.2" r="2.45"/><circle cx="656.8" cy="243.2" r="2.45"/><circle cx="656.8" cy="244.3" r="2.45"/><circle cx="96.8" cy="544.5" r="2.45"/><circle cx="96.8" cy="548.3" r="2.45"/><circle cx="96.8" cy="613.1" r="2.45"/><circle cx="96.8" cy="613.1" r="2.45"/><circle cx="96.8" cy="616.0" r="2.45"/><circle cx="96.8" cy="617.0" r="2.45"/><circle cx="96.8" cy="618.0" r="2.45"/><circle cx="96.8" cy="619.0" r="2.45"/><circle cx="96.8" cy="619.9" r="2.45"/><circle cx="96.8" cy="620.9" r="2.45"/><circle cx="96.8" cy="621.9" r="2.45"/><circle cx="96.8" cy="621.9" r="2.55"/><circle cx="96.8" cy="622.5" r="2.55"/><circle cx="96.8" cy="623.0" r="2.55"/><circle cx="96.8" cy="623.6" r="2.55"/><circle cx="96.8" cy="624.1" r="2.55"/><circle cx="96.8" cy="624.7" r="2.55"/><circle cx="96.8" cy="625.2" r="2.55"/><circle cx="96.8" cy="625.8" r="2.55"/><circle cx="96.8" cy="626.3" r="2.55"/><circle cx="96.8" cy="626.9" r="2.55"/><circle cx="96.8" cy="627.5" r="2.55"/><circle cx="96.8" cy="628.0" r="2.55"/><circle cx="96.8" cy="628.6" r="2.55"/><circle cx="96.8" cy="629.1" r="2.55"/><circle cx="96.8" cy="629.7" r="2.55"/><circle cx="96.8" cy="630.2" r="2.55"/><circle cx="96.8" cy="630.8" r="2.55"/><circle cx="96.8" cy="631.3" r="2.55"/><circle cx="96.8" cy="631.9" r="2.55"/><circle cx="96.8" cy="632.4" r="2.55"/><circle cx="96.8" cy="633.0" r="2.55"/><circle cx="109.2" cy="539.4" r="2.45"/><circle cx="109.2" cy="561.9" r="2.45"/><circle cx="109.2" cy="603.0" r="2.45"/><circle cx="109.2" cy="607.9" r="2.45"/><circle cx="109.2" cy="608.9" r="2.45"/><circle cx="109.2" cy="609.9" r="2.45"/><circle cx="109.2" cy="610.9" r="2.45"/><circle cx="109.2" cy="611.9" r="2.45"/><circle cx="109.2" cy="612.9" r="2.45"/><circle cx="109.2" cy="613.9" r="2.45"/><circle cx="109.2" cy="614.9" r="2.45"/><circle cx="109.2" cy="614.9" r="2.55"/><circle cx="109.2" cy="615.4" r="2.55"/><circle cx="109.2" cy="616.0" r="2.55"/><circle cx="109.2" cy="616.5" r="2.55"/><circle cx="109.2" cy="617.1" r="2.55"/><circle cx="109.2" cy="617.6" r="2.55"/><circle cx="109.2" cy="618.2" r="2.55"/><circle cx="109.2" cy="618.7" r="2.55"/><circle cx="109.2" cy="619.3" r="2.55"/><circle cx="109.2" cy="619.8" r="2.55"/><circle cx="109.2" cy="620.4" r="2.55"/><circle cx="109.2" cy="620.9" r="2.55"/><circle cx="109.2" cy="621.5" r="2.55"/><circle cx="109.2" cy="622.0" r="2.55"/><circle cx="109.2" cy="622.6" r="2.55"/><circle cx="109.2" cy="623.1" r="2.55"/><circle cx="109.2" cy="623.7" r="2.55"/><circle cx="109.2" cy="624.2" r="2.55"/><circle cx="109.2" cy="624.8" r="2.55"/><circle cx="109.2" cy="625.3" r="2.55"/><circle cx="109.2" cy="625.9" r="2.55"/><circle cx="109.2" cy="626.4" r="2.55"/><circle cx="109.2" cy="627.0" r="2.55"/><circle cx="109.2" cy="627.5" r="2.55"/><circle cx="109.2" cy="628.1" r="2.55"/><circle cx="109.2" cy="628.6" r="2.55"/><circle cx="109.2" cy="629.2" r="2.55"/><circle cx="109.2" cy="629.7" r="2.55"/><circle cx="109.2" cy="630.3" r="2.55"/><circle cx="109.2" cy="630.8" r="2.55"/><circle cx="109.2" cy="631.4" r="2.55"/><circle cx="109.2" cy="631.9" r="2.55"/><circle cx="109.2" cy="632.5" r="2.55"/><circle cx="109.2" cy="633.0" r="2.55"/><circle cx="121.7" cy="597.6" r="2.45"/><circle cx="121.7" cy="599.7" r="2.45"/><circle cx="121.7" cy="600.7" r="2.45"/><circle cx="121.7" cy="601.8" r="2.45"/><circle cx="121.7" cy="602.8" r="2.45"/><circle cx="121.7" cy="603.8" r="2.45"/><circle cx="121.7" cy="604.8" r="2.45"/><circle cx="121.7" cy="605.9" r="2.45"/><circle cx="121.7" cy="606.9" r="2.45"/><circle cx="121.7" cy="607.9" r="2.45"/><circle cx="121.7" cy="607.9" r="2.55"/><circle cx="121.7" cy="608.4" r="2.55"/><circle cx="121.7" cy="609.0" r="2.55"/><circle cx="121.7" cy="609.5" r="2.55"/><circle cx="121.7" cy="610.1" r="2.55"/><circle cx="121.7" cy="610.6" r="2.55"/><circle cx="121.7" cy="611.2" r="2.55"/><circle cx="121.7" cy="611.7" r="2.55"/><circle cx="121.7" cy="612.3" r="2.55"/><circle cx="121.7" cy="612.8" r="2.55"/><circle cx="121.7" cy="613.4" r="2.55"/><circle cx="121.7" cy="613.9" r="2.55"/><circle cx="121.7" cy="614.4" r="2.55"/><circle cx="121.7" cy="615.0" r="2.55"/><circle cx="121.7" cy="615.5" r="2.55"/><circle cx="121.7" cy="616.1" r="2.55"/><circle cx="121.7" cy="616.6" r="2.55"/><circle cx="121.7" cy="617.2" r="2.55"/><circle cx="121.7" cy="617.7" r="2.55"/><circle cx="121.7" cy="618.3" r="2.55"/><circle cx="121.7" cy="618.8" r="2.55"/><circle cx="121.7" cy="619.4" r="2.55"/><circle cx="121.7" cy="619.9" r="2.55"/><circle cx="121.7" cy="620.5" r="2.55"/><circle cx="121.7" cy="621.0" r="2.55"/><circle cx="121.7" cy="621.5" r="2.55"/><circle cx="121.7" cy="622.1" r="2.55"/><circle cx="121.7" cy="622.6" r="2.55"/><circle cx="121.7" cy="623.2" r="2.55"/><circle cx="121.7" cy="623.7" r="2.55"/><circle cx="121.7" cy="624.3" r="2.55"/><circle cx="121.7" cy="624.8" r="2.55"/><circle cx="121.7" cy="625.4" r="2.55"/><circle cx="121.7" cy="625.9" r="2.55"/><circle cx="121.7" cy="626.5" r="2.55"/><circle cx="121.7" cy="627.0" r="2.55"/><circle cx="121.7" cy="627.5" r="2.55"/><circle cx="121.7" cy="628.1" r="2.55"/><circle cx="121.7" cy="628.6" r="2.55"/><circle cx="121.7" cy="629.2" r="2.55"/><circle cx="121.7" cy="629.7" r="2.55"/><circle cx="121.7" cy="630.3" r="2.55"/><circle cx="121.7" cy="630.8" r="2.55"/><circle cx="121.7" cy="631.4" r="2.55"/><circle cx="121.7" cy="631.9" r="2.55"/><circle cx="121.7" cy="632.5" r="2.55"/><circle cx="121.7" cy="633.0" r="2.55"/><circle cx="134.1" cy="575.7" r="2.45"/><circle cx="134.1" cy="593.9" r="2.45"/><circle cx="134.1" cy="597.4" r="2.45"/><circle cx="134.1" cy="598.5" r="2.45"/><circle cx="134.1" cy="599.7" r="2.45"/><circle cx="134.1" cy="600.9" r="2.45"/><circle cx="134.1" cy="602.0" r="2.45"/><circle cx="134.1" cy="602.0" r="2.55"/><circle cx="134.1" cy="602.6" r="2.55"/><circle cx="134.1" cy="603.1" r="2.55"/><circle cx="134.1" cy="603.7" r="2.55"/><circle cx="134.1" cy="604.2" r="2.55"/><circle cx="134.1" cy="604.8" r="2.55"/><circle cx="134.1" cy="605.3" r="2.55"/><circle cx="134.1" cy="605.9" r="2.55"/><circle cx="134.1" cy="606.4" r="2.55"/><circle cx="134.1" cy="607.0" r="2.55"/><circle cx="134.1" cy="607.5" r="2.55"/><circle cx="134.1" cy="608.1" r="2.55"/><circle cx="134.1" cy="608.6" r="2.55"/><circle cx="134.1" cy="609.2" r="2.55"/><circle cx="134.1" cy="609.8" r="2.55"/><circle cx="134.1" cy="610.3" r="2.55"/><circle cx="134.1" cy="610.9" r="2.55"/><circle cx="134.1" cy="611.4" r="2.55"/><circle cx="134.1" cy="612.0" r="2.55"/><circle cx="134.1" cy="612.5" r="2.55"/><circle cx="134.1" cy="613.1" r="2.55"/><circle cx="134.1" cy="613.6" r="2.55"/><circle cx="134.1" cy="614.2" r="2.55"/><circle cx="134.1" cy="614.7" r="2.55"/><circle cx="134.1" cy="615.3" r="2.55"/><circle cx="134.1" cy="615.8" r="2.55"/><circle cx="134.1" cy="616.4" r="2.55"/><circle cx="134.1" cy="616.9" r="2.55"/><circle cx="134.1" cy="617.5" r="2.55"/><circle cx="134.1" cy="618.1" r="2.55"/><circle cx="134.1" cy="618.6" r="2.55"/><circle cx="134.1" cy="619.2" r="2.55"/><circle cx="134.1" cy="619.7" r="2.55"/><circle cx="134.1" cy="620.3" r="2.55"/><circle cx="134.1" cy="620.8" r="2.55"/><circle cx="134.1" cy="621.4" r="2.55"/><circle cx="134.1" cy="621.9" r="2.55"/><circle cx="134.1" cy="622.5" r="2.55"/><circle cx="134.1" cy="623.0" r="2.55"/><circle cx="134.1" cy="623.6" r="2.55"/><circle cx="134.1" cy="624.1" r="2.55"/><circle cx="134.1" cy="624.7" r="2.55"/><circle cx="134.1" cy="625.2" r="2.55"/><circle cx="134.1" cy="625.8" r="2.55"/><circle cx="134.1" cy="626.4" r="2.55"/><circle cx="134.1" cy="626.9" r="2.55"/><circle cx="134.1" cy="627.5" r="2.55"/><circle cx="134.1" cy="628.0" r="2.55"/><circle cx="134.1" cy="628.6" r="2.55"/><circle cx="134.1" cy="629.1" r="2.55"/><circle cx="134.1" cy="629.7" r="2.55"/><circle cx="134.1" cy="630.2" r="2.55"/><circle cx="134.1" cy="630.8" r="2.55"/><circle cx="134.1" cy="631.3" r="2.55"/><circle cx="134.1" cy="631.9" r="2.55"/><circle cx="134.1" cy="632.4" r="2.55"/><circle cx="134.1" cy="633.0" r="2.55"/><circle cx="146.5" cy="550.9" r="2.45"/><circle cx="146.5" cy="569.3" r="2.45"/><circle cx="146.5" cy="571.6" r="2.45"/><circle cx="146.5" cy="583.5" r="2.45"/><circle cx="146.5" cy="584.5" r="2.45"/><circle cx="146.5" cy="585.5" r="2.45"/><circle cx="146.5" cy="586.6" r="2.45"/><circle cx="146.5" cy="587.6" r="2.45"/><circle cx="146.5" cy="588.6" r="2.45"/><circle cx="146.5" cy="589.6" r="2.45"/><circle cx="146.5" cy="590.7" r="2.45"/><circle cx="146.5" cy="591.7" r="2.45"/><circle cx="146.5" cy="592.7" r="2.45"/><circle cx="146.5" cy="593.8" r="2.45"/><circle cx="146.5" cy="594.8" r="2.45"/><circle cx="146.5" cy="595.8" r="2.45"/><circle cx="146.5" cy="596.8" r="2.45"/><circle cx="146.5" cy="597.9" r="2.45"/><circle cx="146.5" cy="598.9" r="2.45"/><circle cx="146.5" cy="599.9" r="2.45"/><circle cx="146.5" cy="600.9" r="2.45"/><circle cx="146.5" cy="602.0" r="2.45"/><circle cx="146.5" cy="603.0" r="2.45"/><circle cx="146.5" cy="604.0" r="2.45"/><circle cx="146.5" cy="589.7" r="2.45"/><circle cx="146.5" cy="589.7" r="2.45"/><circle cx="146.5" cy="594.4" r="2.45"/><circle cx="146.5" cy="594.4" r="2.45"/><circle cx="146.5" cy="598.5" r="2.45"/><circle cx="146.5" cy="598.5" r="2.45"/><circle cx="146.5" cy="604.0" r="2.55"/><circle cx="146.5" cy="604.5" r="2.55"/><circle cx="146.5" cy="605.1" r="2.55"/><circle cx="146.5" cy="605.6" r="2.55"/><circle cx="146.5" cy="606.2" r="2.55"/><circle cx="146.5" cy="606.7" r="2.55"/><circle cx="146.5" cy="607.3" r="2.55"/><circle cx="146.5" cy="607.8" r="2.55"/><circle cx="146.5" cy="608.4" r="2.55"/><circle cx="146.5" cy="608.9" r="2.55"/><circle cx="146.5" cy="609.5" r="2.55"/><circle cx="146.5" cy="610.0" r="2.55"/><circle cx="146.5" cy="610.6" r="2.55"/><circle cx="146.5" cy="611.1" r="2.55"/><circle cx="146.5" cy="611.7" r="2.55"/><circle cx="146.5" cy="612.2" r="2.55"/><circle cx="146.5" cy="612.8" r="2.55"/><circle cx="146.5" cy="613.3" r="2.55"/><circle cx="146.5" cy="613.8" r="2.55"/><circle cx="146.5" cy="614.4" r="2.55"/><circle cx="146.5" cy="614.9" r="2.55"/><circle cx="146.5" cy="615.5" r="2.55"/><circle cx="146.5" cy="616.0" r="2.55"/><circle cx="146.5" cy="616.6" r="2.55"/><circle cx="146.5" cy="617.1" r="2.55"/><circle cx="146.5" cy="617.7" r="2.55"/><circle cx="146.5" cy="618.2" r="2.55"/><circle cx="146.5" cy="618.8" r="2.55"/><circle cx="146.5" cy="619.3" r="2.55"/><circle cx="146.5" cy="619.9" r="2.55"/><circle cx="146.5" cy="620.4" r="2.55"/><circle cx="146.5" cy="621.0" r="2.55"/><circle cx="146.5" cy="621.5" r="2.55"/><circle cx="146.5" cy="622.1" r="2.55"/><circle cx="146.5" cy="622.6" r="2.55"/><circle cx="146.5" cy="623.2" r="2.55"/><circle cx="146.5" cy="623.7" r="2.55"/><circle cx="146.5" cy="624.2" r="2.55"/><circle cx="146.5" cy="624.8" r="2.55"/><circle cx="146.5" cy="625.3" r="2.55"/><circle cx="146.5" cy="625.9" r="2.55"/><circle cx="146.5" cy="626.4" r="2.55"/><circle cx="146.5" cy="627.0" r="2.55"/><circle cx="146.5" cy="627.5" r="2.55"/><circle cx="146.5" cy="628.1" r="2.55"/><circle cx="146.5" cy="628.6" r="2.55"/><circle cx="146.5" cy="629.2" r="2.55"/><circle cx="146.5" cy="629.7" r="2.55"/><circle cx="146.5" cy="630.3" r="2.55"/><circle cx="146.5" cy="630.8" r="2.55"/><circle cx="146.5" cy="631.4" r="2.55"/><circle cx="146.5" cy="631.9" r="2.55"/><circle cx="146.5" cy="632.5" r="2.55"/><circle cx="146.5" cy="633.0" r="2.55"/><circle cx="159.0" cy="570.6" r="2.45"/><circle cx="159.0" cy="573.3" r="2.45"/><circle cx="159.0" cy="576.0" r="2.45"/><circle cx="159.0" cy="579.5" r="2.45"/><circle cx="159.0" cy="583.5" r="2.45"/><circle cx="159.0" cy="584.6" r="2.45"/><circle cx="159.0" cy="585.6" r="2.45"/><circle cx="159.0" cy="586.7" r="2.45"/><circle cx="159.0" cy="587.7" r="2.45"/><circle cx="159.0" cy="588.8" r="2.45"/><circle cx="159.0" cy="589.8" r="2.45"/><circle cx="159.0" cy="590.9" r="2.45"/><circle cx="159.0" cy="591.9" r="2.45"/><circle cx="159.0" cy="593.0" r="2.45"/><circle cx="159.0" cy="594.0" r="2.45"/><circle cx="159.0" cy="595.1" r="2.45"/><circle cx="159.0" cy="596.2" r="2.45"/><circle cx="159.0" cy="597.2" r="2.45"/><circle cx="159.0" cy="598.3" r="2.45"/><circle cx="159.0" cy="599.3" r="2.45"/><circle cx="159.0" cy="600.4" r="2.45"/><circle cx="159.0" cy="601.4" r="2.45"/><circle cx="159.0" cy="602.5" r="2.45"/><circle cx="159.0" cy="603.5" r="2.45"/><circle cx="159.0" cy="604.6" r="2.45"/><circle cx="159.0" cy="605.6" r="2.45"/><circle cx="159.0" cy="606.7" r="2.45"/><circle cx="159.0" cy="587.6" r="2.45"/><circle cx="159.0" cy="587.6" r="2.45"/><circle cx="159.0" cy="594.4" r="2.45"/><circle cx="159.0" cy="594.4" r="2.45"/><circle cx="159.0" cy="599.9" r="2.45"/><circle cx="159.0" cy="599.9" r="2.45"/><circle cx="159.0" cy="606.7" r="2.55"/><circle cx="159.0" cy="607.2" r="2.55"/><circle cx="159.0" cy="607.8" r="2.55"/><circle cx="159.0" cy="608.3" r="2.55"/><circle cx="159.0" cy="608.9" r="2.55"/><circle cx="159.0" cy="609.4" r="2.55"/><circle cx="159.0" cy="610.0" r="2.55"/><circle cx="159.0" cy="610.5" r="2.55"/><circle cx="159.0" cy="611.1" r="2.55"/><circle cx="159.0" cy="611.6" r="2.55"/><circle cx="159.0" cy="612.2" r="2.55"/><circle cx="159.0" cy="612.7" r="2.55"/><circle cx="159.0" cy="613.3" r="2.55"/><circle cx="159.0" cy="613.8" r="2.55"/><circle cx="159.0" cy="614.4" r="2.55"/><circle cx="159.0" cy="614.9" r="2.55"/><circle cx="159.0" cy="615.5" r="2.55"/><circle cx="159.0" cy="616.0" r="2.55"/><circle cx="159.0" cy="616.6" r="2.55"/><circle cx="159.0" cy="617.1" r="2.55"/><circle cx="159.0" cy="617.7" r="2.55"/><circle cx="159.0" cy="618.2" r="2.55"/><circle cx="159.0" cy="618.8" r="2.55"/><circle cx="159.0" cy="619.3" r="2.55"/><circle cx="159.0" cy="619.9" r="2.55"/><circle cx="159.0" cy="620.4" r="2.55"/><circle cx="159.0" cy="620.9" r="2.55"/><circle cx="159.0" cy="621.5" r="2.55"/><circle cx="159.0" cy="622.0" r="2.55"/><circle cx="159.0" cy="622.6" r="2.55"/><circle cx="159.0" cy="623.1" r="2.55"/><circle cx="159.0" cy="623.7" r="2.55"/><circle cx="159.0" cy="624.2" r="2.55"/><circle cx="159.0" cy="624.8" r="2.55"/><circle cx="159.0" cy="625.3" r="2.55"/><circle cx="159.0" cy="625.9" r="2.55"/><circle cx="159.0" cy="626.4" r="2.55"/><circle cx="159.0" cy="627.0" r="2.55"/><circle cx="159.0" cy="627.5" r="2.55"/><circle cx="159.0" cy="628.1" r="2.55"/><circle cx="159.0" cy="628.6" r="2.55"/><circle cx="159.0" cy="629.2" r="2.55"/><circle cx="159.0" cy="629.7" r="2.55"/><circle cx="159.0" cy="630.3" r="2.55"/><circle cx="159.0" cy="630.8" r="2.55"/><circle cx="159.0" cy="631.4" r="2.55"/><circle cx="159.0" cy="631.9" r="2.55"/><circle cx="159.0" cy="632.5" r="2.55"/><circle cx="159.0" cy="633.0" r="2.55"/><circle cx="183.9" cy="586.0" r="2.45"/><circle cx="183.9" cy="591.4" r="2.45"/><circle cx="183.9" cy="595.1" r="2.45"/><circle cx="183.9" cy="602.9" r="2.45"/><circle cx="183.9" cy="602.9" r="2.45"/><circle cx="183.9" cy="603.0" r="2.45"/><circle cx="183.9" cy="604.0" r="2.45"/><circle cx="183.9" cy="605.1" r="2.45"/><circle cx="183.9" cy="606.1" r="2.45"/><circle cx="183.9" cy="607.2" r="2.45"/><circle cx="183.9" cy="608.2" r="2.45"/><circle cx="183.9" cy="609.3" r="2.45"/><circle cx="183.9" cy="610.4" r="2.45"/><circle cx="183.9" cy="611.4" r="2.45"/><circle cx="183.9" cy="612.5" r="2.45"/><circle cx="183.9" cy="613.5" r="2.45"/><circle cx="183.9" cy="613.5" r="2.55"/><circle cx="183.9" cy="614.1" r="2.55"/><circle cx="183.9" cy="614.6" r="2.55"/><circle cx="183.9" cy="615.2" r="2.55"/><circle cx="183.9" cy="615.7" r="2.55"/><circle cx="183.9" cy="616.3" r="2.55"/><circle cx="183.9" cy="616.8" r="2.55"/><circle cx="183.9" cy="617.4" r="2.55"/><circle cx="183.9" cy="618.0" r="2.55"/><circle cx="183.9" cy="618.5" r="2.55"/><circle cx="183.9" cy="619.1" r="2.55"/><circle cx="183.9" cy="619.6" r="2.55"/><circle cx="183.9" cy="620.2" r="2.55"/><circle cx="183.9" cy="620.7" r="2.55"/><circle cx="183.9" cy="621.3" r="2.55"/><circle cx="183.9" cy="621.9" r="2.55"/><circle cx="183.9" cy="622.4" r="2.55"/><circle cx="183.9" cy="623.0" r="2.55"/><circle cx="183.9" cy="623.5" r="2.55"/><circle cx="183.9" cy="624.1" r="2.55"/><circle cx="183.9" cy="624.6" r="2.55"/><circle cx="183.9" cy="625.2" r="2.55"/><circle cx="183.9" cy="625.8" r="2.55"/><circle cx="183.9" cy="626.3" r="2.55"/><circle cx="183.9" cy="626.9" r="2.55"/><circle cx="183.9" cy="627.4" r="2.55"/><circle cx="183.9" cy="628.0" r="2.55"/><circle cx="183.9" cy="628.5" r="2.55"/><circle cx="183.9" cy="629.1" r="2.55"/><circle cx="183.9" cy="629.7" r="2.55"/><circle cx="183.9" cy="630.2" r="2.55"/><circle cx="183.9" cy="630.8" r="2.55"/><circle cx="183.9" cy="631.3" r="2.55"/><circle cx="183.9" cy="631.9" r="2.55"/><circle cx="183.9" cy="632.4" r="2.55"/><circle cx="183.9" cy="633.0" r="2.55"/><circle cx="196.3" cy="582.6" r="2.45"/><circle cx="196.3" cy="599.2" r="2.55"/><circle cx="196.3" cy="599.8" r="2.55"/><circle cx="196.3" cy="600.3" r="2.55"/><circle cx="196.3" cy="600.9" r="2.55"/><circle cx="196.3" cy="601.4" r="2.55"/><circle cx="196.3" cy="602.0" r="2.55"/><circle cx="196.3" cy="602.5" r="2.55"/><circle cx="196.3" cy="603.1" r="2.55"/><circle cx="196.3" cy="603.6" r="2.55"/><circle cx="196.3" cy="604.2" r="2.55"/><circle cx="196.3" cy="604.7" r="2.55"/><circle cx="196.3" cy="605.3" r="2.55"/><circle cx="196.3" cy="605.8" r="2.55"/><circle cx="196.3" cy="606.4" r="2.55"/><circle cx="196.3" cy="607.0" r="2.55"/><circle cx="196.3" cy="607.5" r="2.55"/><circle cx="196.3" cy="608.1" r="2.55"/><circle cx="196.3" cy="608.6" r="2.55"/><circle cx="196.3" cy="609.2" r="2.55"/><circle cx="196.3" cy="609.7" r="2.55"/><circle cx="196.3" cy="610.3" r="2.55"/><circle cx="196.3" cy="610.8" r="2.55"/><circle cx="196.3" cy="611.4" r="2.55"/><circle cx="196.3" cy="611.9" r="2.55"/><circle cx="196.3" cy="612.5" r="2.55"/><circle cx="196.3" cy="613.1" r="2.55"/><circle cx="196.3" cy="613.6" r="2.55"/><circle cx="196.3" cy="614.2" r="2.55"/><circle cx="196.3" cy="614.7" r="2.55"/><circle cx="196.3" cy="615.3" r="2.55"/><circle cx="196.3" cy="615.8" r="2.55"/><circle cx="196.3" cy="616.4" r="2.55"/><circle cx="196.3" cy="616.9" r="2.55"/><circle cx="196.3" cy="617.5" r="2.55"/><circle cx="196.3" cy="618.0" r="2.55"/><circle cx="196.3" cy="618.6" r="2.55"/><circle cx="196.3" cy="619.1" r="2.55"/><circle cx="196.3" cy="619.7" r="2.55"/><circle cx="196.3" cy="620.3" r="2.55"/><circle cx="196.3" cy="620.8" r="2.55"/><circle cx="196.3" cy="621.4" r="2.55"/><circle cx="196.3" cy="621.9" r="2.55"/><circle cx="196.3" cy="622.5" r="2.55"/><circle cx="196.3" cy="623.0" r="2.55"/><circle cx="196.3" cy="623.6" r="2.55"/><circle cx="196.3" cy="624.1" r="2.55"/><circle cx="196.3" cy="624.7" r="2.55"/><circle cx="196.3" cy="625.2" r="2.55"/><circle cx="196.3" cy="625.8" r="2.55"/><circle cx="196.3" cy="626.4" r="2.55"/><circle cx="196.3" cy="626.9" r="2.55"/><circle cx="196.3" cy="627.5" r="2.55"/><circle cx="196.3" cy="628.0" r="2.55"/><circle cx="196.3" cy="628.6" r="2.55"/><circle cx="196.3" cy="629.1" r="2.55"/><circle cx="196.3" cy="629.7" r="2.55"/><circle cx="196.3" cy="630.2" r="2.55"/><circle cx="196.3" cy="630.8" r="2.55"/><circle cx="196.3" cy="631.3" r="2.55"/><circle cx="196.3" cy="631.9" r="2.55"/><circle cx="196.3" cy="632.4" r="2.55"/><circle cx="196.3" cy="633.0" r="2.55"/><circle cx="208.8" cy="508.4" r="2.45"/><circle cx="208.8" cy="559.7" r="2.45"/><circle cx="208.8" cy="576.0" r="2.45"/><circle cx="208.8" cy="580.8" r="2.45"/><circle cx="208.8" cy="580.8" r="2.45"/><circle cx="208.8" cy="584.2" r="2.45"/><circle cx="208.8" cy="588.7" r="2.45"/><circle cx="208.8" cy="588.7" r="2.45"/><circle cx="208.8" cy="588.7" r="2.45"/><circle cx="208.8" cy="594.4" r="2.45"/><circle cx="208.8" cy="595.4" r="2.45"/><circle cx="208.8" cy="596.5" r="2.45"/><circle cx="208.8" cy="597.5" r="2.45"/><circle cx="208.8" cy="598.6" r="2.45"/><circle cx="208.8" cy="599.6" r="2.45"/><circle cx="208.8" cy="600.7" r="2.45"/><circle cx="208.8" cy="601.7" r="2.45"/><circle cx="208.8" cy="602.8" r="2.45"/><circle cx="208.8" cy="603.8" r="2.45"/><circle cx="208.8" cy="604.9" r="2.45"/><circle cx="208.8" cy="605.9" r="2.45"/><circle cx="208.8" cy="607.0" r="2.45"/><circle cx="208.8" cy="608.0" r="2.45"/><circle cx="208.8" cy="608.0" r="2.55"/><circle cx="208.8" cy="608.6" r="2.55"/><circle cx="208.8" cy="609.1" r="2.55"/><circle cx="208.8" cy="609.7" r="2.55"/><circle cx="208.8" cy="610.2" r="2.55"/><circle cx="208.8" cy="610.8" r="2.55"/><circle cx="208.8" cy="611.3" r="2.55"/><circle cx="208.8" cy="611.9" r="2.55"/><circle cx="208.8" cy="612.4" r="2.55"/><circle cx="208.8" cy="613.0" r="2.55"/><circle cx="208.8" cy="613.6" r="2.55"/><circle cx="208.8" cy="614.1" r="2.55"/><circle cx="208.8" cy="614.7" r="2.55"/><circle cx="208.8" cy="615.2" r="2.55"/><circle cx="208.8" cy="615.8" r="2.55"/><circle cx="208.8" cy="616.3" r="2.55"/><circle cx="208.8" cy="616.9" r="2.55"/><circle cx="208.8" cy="617.4" r="2.55"/><circle cx="208.8" cy="618.0" r="2.55"/><circle cx="208.8" cy="618.6" r="2.55"/><circle cx="208.8" cy="619.1" r="2.55"/><circle cx="208.8" cy="619.7" r="2.55"/><circle cx="208.8" cy="620.2" r="2.55"/><circle cx="208.8" cy="620.8" r="2.55"/><circle cx="208.8" cy="621.3" r="2.55"/><circle cx="208.8" cy="621.9" r="2.55"/><circle cx="208.8" cy="622.4" r="2.55"/><circle cx="208.8" cy="623.0" r="2.55"/><circle cx="208.8" cy="623.6" r="2.55"/><circle cx="208.8" cy="624.1" r="2.55"/><circle cx="208.8" cy="624.7" r="2.55"/><circle cx="208.8" cy="625.2" r="2.55"/><circle cx="208.8" cy="625.8" r="2.55"/><circle cx="208.8" cy="626.3" r="2.55"/><circle cx="208.8" cy="626.9" r="2.55"/><circle cx="208.8" cy="627.4" r="2.55"/><circle cx="208.8" cy="628.0" r="2.55"/><circle cx="208.8" cy="628.6" r="2.55"/><circle cx="208.8" cy="629.1" r="2.55"/><circle cx="208.8" cy="629.7" r="2.55"/><circle cx="208.8" cy="630.2" r="2.55"/><circle cx="208.8" cy="630.8" r="2.55"/><circle cx="208.8" cy="631.3" r="2.55"/><circle cx="208.8" cy="631.9" r="2.55"/><circle cx="208.8" cy="632.4" r="2.55"/><circle cx="208.8" cy="633.0" r="2.55"/><circle cx="233.7" cy="589.0" r="2.45"/><circle cx="233.7" cy="595.1" r="2.45"/><circle cx="233.7" cy="599.9" r="2.45"/><circle cx="233.7" cy="601.0" r="2.45"/><circle cx="233.7" cy="602.1" r="2.45"/><circle cx="233.7" cy="603.1" r="2.45"/><circle cx="233.7" cy="604.2" r="2.45"/><circle cx="233.7" cy="605.3" r="2.45"/><circle cx="233.7" cy="605.3" r="2.55"/><circle cx="233.7" cy="605.9" r="2.55"/><circle cx="233.7" cy="606.4" r="2.55"/><circle cx="233.7" cy="607.0" r="2.55"/><circle cx="233.7" cy="607.5" r="2.55"/><circle cx="233.7" cy="608.1" r="2.55"/><circle cx="233.7" cy="608.6" r="2.55"/><circle cx="233.7" cy="609.2" r="2.55"/><circle cx="233.7" cy="609.7" r="2.55"/><circle cx="233.7" cy="610.3" r="2.55"/><circle cx="233.7" cy="610.8" r="2.55"/><circle cx="233.7" cy="611.4" r="2.55"/><circle cx="233.7" cy="611.9" r="2.55"/><circle cx="233.7" cy="612.5" r="2.55"/><circle cx="233.7" cy="613.1" r="2.55"/><circle cx="233.7" cy="613.6" r="2.55"/><circle cx="233.7" cy="614.2" r="2.55"/><circle cx="233.7" cy="614.7" r="2.55"/><circle cx="233.7" cy="615.3" r="2.55"/><circle cx="233.7" cy="615.8" r="2.55"/><circle cx="233.7" cy="616.4" r="2.55"/><circle cx="233.7" cy="616.9" r="2.55"/><circle cx="233.7" cy="617.5" r="2.55"/><circle cx="233.7" cy="618.0" r="2.55"/><circle cx="233.7" cy="618.6" r="2.55"/><circle cx="233.7" cy="619.1" r="2.55"/><circle cx="233.7" cy="619.7" r="2.55"/><circle cx="233.7" cy="620.3" r="2.55"/><circle cx="233.7" cy="620.8" r="2.55"/><circle cx="233.7" cy="621.4" r="2.55"/><circle cx="233.7" cy="621.9" r="2.55"/><circle cx="233.7" cy="622.5" r="2.55"/><circle cx="233.7" cy="623.0" r="2.55"/><circle cx="233.7" cy="623.6" r="2.55"/><circle cx="233.7" cy="624.1" r="2.55"/><circle cx="233.7" cy="624.7" r="2.55"/><circle cx="233.7" cy="625.2" r="2.55"/><circle cx="233.7" cy="625.8" r="2.55"/><circle cx="233.7" cy="626.4" r="2.55"/><circle cx="233.7" cy="626.9" r="2.55"/><circle cx="233.7" cy="627.5" r="2.55"/><circle cx="233.7" cy="628.0" r="2.55"/><circle cx="233.7" cy="628.6" r="2.55"/><circle cx="233.7" cy="629.1" r="2.55"/><circle cx="233.7" cy="629.7" r="2.55"/><circle cx="233.7" cy="630.2" r="2.55"/><circle cx="233.7" cy="630.8" r="2.55"/><circle cx="233.7" cy="631.3" r="2.55"/><circle cx="233.7" cy="631.9" r="2.55"/><circle cx="233.7" cy="632.4" r="2.55"/><circle cx="233.7" cy="633.0" r="2.55"/><circle cx="246.1" cy="555.2" r="2.45"/><circle cx="246.1" cy="562.4" r="2.45"/><circle cx="246.1" cy="565.6" r="2.45"/><circle cx="246.1" cy="565.6" r="2.45"/><circle cx="246.1" cy="570.6" r="2.45"/><circle cx="246.1" cy="575.4" r="2.45"/><circle cx="246.1" cy="579.5" r="2.45"/><circle cx="246.1" cy="584.9" r="2.45"/><circle cx="246.1" cy="584.9" r="2.45"/><circle cx="246.1" cy="590.0" r="2.45"/><circle cx="246.1" cy="594.4" r="2.45"/><circle cx="246.1" cy="594.4" r="2.45"/><circle cx="246.1" cy="597.0" r="2.45"/><circle cx="246.1" cy="598.1" r="2.45"/><circle cx="246.1" cy="599.1" r="2.45"/><circle cx="246.1" cy="600.2" r="2.45"/><circle cx="246.1" cy="601.2" r="2.45"/><circle cx="246.1" cy="602.3" r="2.45"/><circle cx="246.1" cy="603.4" r="2.45"/><circle cx="246.1" cy="604.4" r="2.45"/><circle cx="246.1" cy="605.5" r="2.45"/><circle cx="246.1" cy="606.5" r="2.45"/><circle cx="246.1" cy="607.6" r="2.45"/><circle cx="246.1" cy="608.6" r="2.45"/><circle cx="246.1" cy="609.7" r="2.45"/><circle cx="246.1" cy="610.8" r="2.45"/><circle cx="246.1" cy="611.8" r="2.45"/><circle cx="246.1" cy="612.9" r="2.45"/><circle cx="246.1" cy="613.9" r="2.45"/><circle cx="246.1" cy="615.0" r="2.45"/><circle cx="246.1" cy="616.1" r="2.45"/><circle cx="246.1" cy="617.1" r="2.45"/><circle cx="246.1" cy="618.2" r="2.45"/><circle cx="246.1" cy="619.2" r="2.45"/><circle cx="246.1" cy="620.3" r="2.45"/><circle cx="246.1" cy="621.4" r="2.45"/><circle cx="246.1" cy="622.4" r="2.45"/><circle cx="246.1" cy="623.5" r="2.45"/><circle cx="246.1" cy="624.5" r="2.45"/><circle cx="246.1" cy="625.6" r="2.45"/><circle cx="246.1" cy="626.6" r="2.45"/><circle cx="246.1" cy="627.7" r="2.45"/><circle cx="246.1" cy="628.8" r="2.45"/><circle cx="246.1" cy="629.8" r="2.45"/><circle cx="246.1" cy="630.9" r="2.45"/><circle cx="246.1" cy="631.9" r="2.45"/><circle cx="246.1" cy="633.0" r="2.45"/><circle cx="246.1" cy="599.0" r="2.45"/><circle cx="246.1" cy="600.1" r="2.45"/><circle cx="246.1" cy="601.1" r="2.45"/><circle cx="246.1" cy="602.2" r="2.45"/><circle cx="246.1" cy="603.2" r="2.45"/><circle cx="246.1" cy="604.3" r="2.45"/><circle cx="246.1" cy="605.4" r="2.45"/><circle cx="246.1" cy="606.4" r="2.45"/><circle cx="246.1" cy="607.5" r="2.45"/><circle cx="246.1" cy="608.6" r="2.45"/><circle cx="246.1" cy="609.6" r="2.45"/><circle cx="246.1" cy="610.7" r="2.45"/><circle cx="246.1" cy="611.8" r="2.45"/><circle cx="246.1" cy="612.8" r="2.45"/><circle cx="246.1" cy="613.9" r="2.45"/><circle cx="246.1" cy="614.9" r="2.45"/><circle cx="246.1" cy="616.0" r="2.45"/><circle cx="246.1" cy="617.1" r="2.45"/><circle cx="246.1" cy="618.1" r="2.45"/><circle cx="246.1" cy="619.2" r="2.45"/><circle cx="246.1" cy="620.2" r="2.45"/><circle cx="246.1" cy="621.3" r="2.45"/><circle cx="246.1" cy="622.4" r="2.45"/><circle cx="246.1" cy="623.4" r="2.45"/><circle cx="246.1" cy="624.5" r="2.45"/><circle cx="246.1" cy="625.6" r="2.45"/><circle cx="246.1" cy="626.6" r="2.45"/><circle cx="246.1" cy="627.7" r="2.45"/><circle cx="246.1" cy="628.8" r="2.45"/><circle cx="246.1" cy="629.8" r="2.45"/><circle cx="246.1" cy="630.9" r="2.45"/><circle cx="246.1" cy="631.9" r="2.45"/><circle cx="246.1" cy="633.0" r="2.45"/><circle cx="258.6" cy="563.2" r="2.45"/><circle cx="258.6" cy="599.4" r="2.45"/><circle cx="258.6" cy="602.3" r="2.45"/><circle cx="258.6" cy="604.5" r="2.45"/><circle cx="258.6" cy="606.7" r="2.45"/><circle cx="258.6" cy="608.9" r="2.45"/><circle cx="258.6" cy="611.1" r="2.45"/><circle cx="258.6" cy="611.1" r="2.55"/><circle cx="258.6" cy="611.6" r="2.55"/><circle cx="258.6" cy="612.2" r="2.55"/><circle cx="258.6" cy="612.7" r="2.55"/><circle cx="258.6" cy="613.3" r="2.55"/><circle cx="258.6" cy="613.8" r="2.55"/><circle cx="258.6" cy="614.4" r="2.55"/><circle cx="258.6" cy="614.9" r="2.55"/><circle cx="258.6" cy="615.5" r="2.55"/><circle cx="258.6" cy="616.0" r="2.55"/><circle cx="258.6" cy="616.6" r="2.55"/><circle cx="258.6" cy="617.1" r="2.55"/><circle cx="258.6" cy="617.7" r="2.55"/><circle cx="258.6" cy="618.2" r="2.55"/><circle cx="258.6" cy="618.8" r="2.55"/><circle cx="258.6" cy="619.3" r="2.55"/><circle cx="258.6" cy="619.9" r="2.55"/><circle cx="258.6" cy="620.4" r="2.55"/><circle cx="258.6" cy="621.0" r="2.55"/><circle cx="258.6" cy="621.5" r="2.55"/><circle cx="258.6" cy="622.0" r="2.55"/><circle cx="258.6" cy="622.6" r="2.55"/><circle cx="258.6" cy="623.1" r="2.55"/><circle cx="258.6" cy="623.7" r="2.55"/><circle cx="258.6" cy="624.2" r="2.55"/><circle cx="258.6" cy="624.8" r="2.55"/><circle cx="258.6" cy="625.3" r="2.55"/><circle cx="258.6" cy="625.9" r="2.55"/><circle cx="258.6" cy="626.4" r="2.55"/><circle cx="258.6" cy="627.0" r="2.55"/><circle cx="258.6" cy="627.5" r="2.55"/><circle cx="258.6" cy="628.1" r="2.55"/><circle cx="258.6" cy="628.6" r="2.55"/><circle cx="258.6" cy="629.2" r="2.55"/><circle cx="258.6" cy="629.7" r="2.55"/><circle cx="258.6" cy="630.3" r="2.55"/><circle cx="258.6" cy="630.8" r="2.55"/><circle cx="258.6" cy="631.4" r="2.55"/><circle cx="258.6" cy="631.9" r="2.55"/><circle cx="258.6" cy="632.5" r="2.55"/><circle cx="258.6" cy="633.0" r="2.55"/><circle cx="271.0" cy="599.1" r="2.45"/><circle cx="271.0" cy="603.8" r="2.45"/><circle cx="271.0" cy="603.8" r="2.45"/><circle cx="271.0" cy="606.0" r="2.45"/><circle cx="271.0" cy="607.0" r="2.45"/><circle cx="271.0" cy="608.0" r="2.45"/><circle cx="271.0" cy="609.0" r="2.45"/><circle cx="271.0" cy="610.0" r="2.45"/><circle cx="271.0" cy="611.0" r="2.45"/><circle cx="271.0" cy="612.0" r="2.45"/><circle cx="271.0" cy="612.0" r="2.55"/><circle cx="271.0" cy="612.6" r="2.55"/><circle cx="271.0" cy="613.1" r="2.55"/><circle cx="271.0" cy="613.7" r="2.55"/><circle cx="271.0" cy="614.2" r="2.55"/><circle cx="271.0" cy="614.8" r="2.55"/><circle cx="271.0" cy="615.3" r="2.55"/><circle cx="271.0" cy="615.9" r="2.55"/><circle cx="271.0" cy="616.4" r="2.55"/><circle cx="271.0" cy="617.0" r="2.55"/><circle cx="271.0" cy="617.5" r="2.55"/><circle cx="271.0" cy="618.1" r="2.55"/><circle cx="271.0" cy="618.6" r="2.55"/><circle cx="271.0" cy="619.2" r="2.55"/><circle cx="271.0" cy="619.7" r="2.55"/><circle cx="271.0" cy="620.3" r="2.55"/><circle cx="271.0" cy="620.8" r="2.55"/><circle cx="271.0" cy="621.4" r="2.55"/><circle cx="271.0" cy="621.9" r="2.55"/><circle cx="271.0" cy="622.5" r="2.55"/><circle cx="271.0" cy="623.1" r="2.55"/><circle cx="271.0" cy="623.6" r="2.55"/><circle cx="271.0" cy="624.2" r="2.55"/><circle cx="271.0" cy="624.7" r="2.55"/><circle cx="271.0" cy="625.3" r="2.55"/><circle cx="271.0" cy="625.8" r="2.55"/><circle cx="271.0" cy="626.4" r="2.55"/><circle cx="271.0" cy="626.9" r="2.55"/><circle cx="271.0" cy="627.5" r="2.55"/><circle cx="271.0" cy="628.0" r="2.55"/><circle cx="271.0" cy="628.6" r="2.55"/><circle cx="271.0" cy="629.1" r="2.55"/><circle cx="271.0" cy="629.7" r="2.55"/><circle cx="271.0" cy="630.2" r="2.55"/><circle cx="271.0" cy="630.8" r="2.55"/><circle cx="271.0" cy="631.3" r="2.55"/><circle cx="271.0" cy="631.9" r="2.55"/><circle cx="271.0" cy="632.4" r="2.55"/><circle cx="271.0" cy="633.0" r="2.55"/><circle cx="283.5" cy="599.4" r="2.45"/><circle cx="283.5" cy="606.7" r="2.45"/><circle cx="283.5" cy="607.7" r="2.45"/><circle cx="283.5" cy="608.7" r="2.45"/><circle cx="283.5" cy="609.7" r="2.45"/><circle cx="283.5" cy="610.6" r="2.45"/><circle cx="283.5" cy="611.6" r="2.45"/><circle cx="283.5" cy="612.6" r="2.45"/><circle cx="283.5" cy="612.6" r="2.55"/><circle cx="283.5" cy="613.2" r="2.55"/><circle cx="283.5" cy="613.7" r="2.55"/><circle cx="283.5" cy="614.3" r="2.55"/><circle cx="283.5" cy="614.8" r="2.55"/><circle cx="283.5" cy="615.4" r="2.55"/><circle cx="283.5" cy="615.9" r="2.55"/><circle cx="283.5" cy="616.5" r="2.55"/><circle cx="283.5" cy="617.0" r="2.55"/><circle cx="283.5" cy="617.6" r="2.55"/><circle cx="283.5" cy="618.1" r="2.55"/><circle cx="283.5" cy="618.7" r="2.55"/><circle cx="283.5" cy="619.2" r="2.55"/><circle cx="283.5" cy="619.8" r="2.55"/><circle cx="283.5" cy="620.3" r="2.55"/><circle cx="283.5" cy="620.9" r="2.55"/><circle cx="283.5" cy="621.4" r="2.55"/><circle cx="283.5" cy="622.0" r="2.55"/><circle cx="283.5" cy="622.5" r="2.55"/><circle cx="283.5" cy="623.1" r="2.55"/><circle cx="283.5" cy="623.6" r="2.55"/><circle cx="283.5" cy="624.2" r="2.55"/><circle cx="283.5" cy="624.7" r="2.55"/><circle cx="283.5" cy="625.3" r="2.55"/><circle cx="283.5" cy="625.8" r="2.55"/><circle cx="283.5" cy="626.4" r="2.55"/><circle cx="283.5" cy="626.9" r="2.55"/><circle cx="283.5" cy="627.5" r="2.55"/><circle cx="283.5" cy="628.0" r="2.55"/><circle cx="283.5" cy="628.6" r="2.55"/><circle cx="283.5" cy="629.1" r="2.55"/><circle cx="283.5" cy="629.7" r="2.55"/><circle cx="283.5" cy="630.2" r="2.55"/><circle cx="283.5" cy="630.8" r="2.55"/><circle cx="283.5" cy="631.3" r="2.55"/><circle cx="283.5" cy="631.9" r="2.55"/><circle cx="283.5" cy="632.4" r="2.55"/><circle cx="283.5" cy="633.0" r="2.55"/><circle cx="295.9" cy="582.6" r="2.45"/><circle cx="295.9" cy="600.1" r="2.45"/><circle cx="295.9" cy="600.1" r="2.45"/><circle cx="295.9" cy="605.3" r="2.45"/><circle cx="295.9" cy="606.4" r="2.45"/><circle cx="295.9" cy="607.5" r="2.45"/><circle cx="295.9" cy="608.6" r="2.45"/><circle cx="295.9" cy="609.8" r="2.45"/><circle cx="295.9" cy="610.9" r="2.45"/><circle cx="295.9" cy="612.0" r="2.45"/><circle cx="295.9" cy="612.0" r="2.55"/><circle cx="295.9" cy="612.6" r="2.55"/><circle cx="295.9" cy="613.1" r="2.55"/><circle cx="295.9" cy="613.7" r="2.55"/><circle cx="295.9" cy="614.2" r="2.55"/><circle cx="295.9" cy="614.8" r="2.55"/><circle cx="295.9" cy="615.3" r="2.55"/><circle cx="295.9" cy="615.9" r="2.55"/><circle cx="295.9" cy="616.4" r="2.55"/><circle cx="295.9" cy="617.0" r="2.55"/><circle cx="295.9" cy="617.5" r="2.55"/><circle cx="295.9" cy="618.1" r="2.55"/><circle cx="295.9" cy="618.6" r="2.55"/><circle cx="295.9" cy="619.2" r="2.55"/><circle cx="295.9" cy="619.7" r="2.55"/><circle cx="295.9" cy="620.3" r="2.55"/><circle cx="295.9" cy="620.8" r="2.55"/><circle cx="295.9" cy="621.4" r="2.55"/><circle cx="295.9" cy="621.9" r="2.55"/><circle cx="295.9" cy="622.5" r="2.55"/><circle cx="295.9" cy="623.1" r="2.55"/><circle cx="295.9" cy="623.6" r="2.55"/><circle cx="295.9" cy="624.2" r="2.55"/><circle cx="295.9" cy="624.7" r="2.55"/><circle cx="295.9" cy="625.3" r="2.55"/><circle cx="295.9" cy="625.8" r="2.55"/><circle cx="295.9" cy="626.4" r="2.55"/><circle cx="295.9" cy="626.9" r="2.55"/><circle cx="295.9" cy="627.5" r="2.55"/><circle cx="295.9" cy="628.0" r="2.55"/><circle cx="295.9" cy="628.6" r="2.55"/><circle cx="295.9" cy="629.1" r="2.55"/><circle cx="295.9" cy="629.7" r="2.55"/><circle cx="295.9" cy="630.2" r="2.55"/><circle cx="295.9" cy="630.8" r="2.55"/><circle cx="295.9" cy="631.3" r="2.55"/><circle cx="295.9" cy="631.9" r="2.55"/><circle cx="295.9" cy="632.4" r="2.55"/><circle cx="295.9" cy="633.0" r="2.55"/><circle cx="308.4" cy="582.3" r="2.45"/><circle cx="308.4" cy="590.7" r="2.45"/><circle cx="308.4" cy="593.9" r="2.45"/><circle cx="308.4" cy="597.2" r="2.45"/><circle cx="308.4" cy="600.9" r="2.45"/><circle cx="308.4" cy="603.0" r="2.45"/><circle cx="308.4" cy="603.9" r="2.45"/><circle cx="308.4" cy="604.9" r="2.45"/><circle cx="308.4" cy="605.8" r="2.45"/><circle cx="308.4" cy="606.7" r="2.45"/><circle cx="308.4" cy="606.7" r="2.55"/><circle cx="308.4" cy="607.2" r="2.55"/><circle cx="308.4" cy="607.8" r="2.55"/><circle cx="308.4" cy="608.3" r="2.55"/><circle cx="308.4" cy="608.9" r="2.55"/><circle cx="308.4" cy="609.4" r="2.55"/><circle cx="308.4" cy="610.0" r="2.55"/><circle cx="308.4" cy="610.5" r="2.55"/><circle cx="308.4" cy="611.1" r="2.55"/><circle cx="308.4" cy="611.6" r="2.55"/><circle cx="308.4" cy="612.2" r="2.55"/><circle cx="308.4" cy="612.7" r="2.55"/><circle cx="308.4" cy="613.3" r="2.55"/><circle cx="308.4" cy="613.8" r="2.55"/><circle cx="308.4" cy="614.4" r="2.55"/><circle cx="308.4" cy="614.9" r="2.55"/><circle cx="308.4" cy="615.5" r="2.55"/><circle cx="308.4" cy="616.0" r="2.55"/><circle cx="308.4" cy="616.6" r="2.55"/><circle cx="308.4" cy="617.1" r="2.55"/><circle cx="308.4" cy="617.7" r="2.55"/><circle cx="308.4" cy="618.2" r="2.55"/><circle cx="308.4" cy="618.8" r="2.55"/><circle cx="308.4" cy="619.3" r="2.55"/><circle cx="308.4" cy="619.9" r="2.55"/><circle cx="308.4" cy="620.4" r="2.55"/><circle cx="308.4" cy="620.9" r="2.55"/><circle cx="308.4" cy="621.5" r="2.55"/><circle cx="308.4" cy="622.0" r="2.55"/><circle cx="308.4" cy="622.6" r="2.55"/><circle cx="308.4" cy="623.1" r="2.55"/><circle cx="308.4" cy="623.7" r="2.55"/><circle cx="308.4" cy="624.2" r="2.55"/><circle cx="308.4" cy="624.8" r="2.55"/><circle cx="308.4" cy="625.3" r="2.55"/><circle cx="308.4" cy="625.9" r="2.55"/><circle cx="308.4" cy="626.4" r="2.55"/><circle cx="308.4" cy="627.0" r="2.55"/><circle cx="308.4" cy="627.5" r="2.55"/><circle cx="308.4" cy="628.1" r="2.55"/><circle cx="308.4" cy="628.6" r="2.55"/><circle cx="308.4" cy="629.2" r="2.55"/><circle cx="308.4" cy="629.7" r="2.55"/><circle cx="308.4" cy="630.3" r="2.55"/><circle cx="308.4" cy="630.8" r="2.55"/><circle cx="308.4" cy="631.4" r="2.55"/><circle cx="308.4" cy="631.9" r="2.55"/><circle cx="308.4" cy="632.5" r="2.55"/><circle cx="308.4" cy="633.0" r="2.55"/><circle cx="320.8" cy="595.0" r="2.45"/><circle cx="320.8" cy="595.0" r="2.45"/><circle cx="320.8" cy="598.7" r="2.45"/><circle cx="320.8" cy="602.3" r="2.45"/><circle cx="320.8" cy="605.0" r="2.45"/><circle cx="320.8" cy="606.1" r="2.45"/><circle cx="320.8" cy="607.2" r="2.45"/><circle cx="320.8" cy="608.3" r="2.45"/><circle cx="320.8" cy="609.3" r="2.45"/><circle cx="320.8" cy="610.4" r="2.45"/><circle cx="320.8" cy="611.5" r="2.45"/><circle cx="320.8" cy="612.6" r="2.45"/><circle cx="320.8" cy="612.6" r="2.55"/><circle cx="320.8" cy="613.2" r="2.55"/><circle cx="320.8" cy="613.7" r="2.55"/><circle cx="320.8" cy="614.3" r="2.55"/><circle cx="320.8" cy="614.8" r="2.55"/><circle cx="320.8" cy="615.4" r="2.55"/><circle cx="320.8" cy="615.9" r="2.55"/><circle cx="320.8" cy="616.5" r="2.55"/><circle cx="320.8" cy="617.0" r="2.55"/><circle cx="320.8" cy="617.6" r="2.55"/><circle cx="320.8" cy="618.1" r="2.55"/><circle cx="320.8" cy="618.7" r="2.55"/><circle cx="320.8" cy="619.2" r="2.55"/><circle cx="320.8" cy="619.8" r="2.55"/><circle cx="320.8" cy="620.3" r="2.55"/><circle cx="320.8" cy="620.9" r="2.55"/><circle cx="320.8" cy="621.4" r="2.55"/><circle cx="320.8" cy="622.0" r="2.55"/><circle cx="320.8" cy="622.5" r="2.55"/><circle cx="320.8" cy="623.1" r="2.55"/><circle cx="320.8" cy="623.6" r="2.55"/><circle cx="320.8" cy="624.2" r="2.55"/><circle cx="320.8" cy="624.7" r="2.55"/><circle cx="320.8" cy="625.3" r="2.55"/><circle cx="320.8" cy="625.8" r="2.55"/><circle cx="320.8" cy="626.4" r="2.55"/><circle cx="320.8" cy="626.9" r="2.55"/><circle cx="320.8" cy="627.5" r="2.55"/><circle cx="320.8" cy="628.0" r="2.55"/><circle cx="320.8" cy="628.6" r="2.55"/><circle cx="320.8" cy="629.1" r="2.55"/><circle cx="320.8" cy="629.7" r="2.55"/><circle cx="320.8" cy="630.2" r="2.55"/><circle cx="320.8" cy="630.8" r="2.55"/><circle cx="320.8" cy="631.3" r="2.55"/><circle cx="320.8" cy="631.9" r="2.55"/><circle cx="320.8" cy="632.4" r="2.55"/><circle cx="320.8" cy="633.0" r="2.55"/><circle cx="333.3" cy="594.6" r="2.45"/><circle cx="333.3" cy="594.6" r="2.45"/><circle cx="333.3" cy="603.8" r="2.45"/><circle cx="333.3" cy="603.8" r="2.45"/><circle cx="333.3" cy="606.7" r="2.45"/><circle cx="333.3" cy="608.0" r="2.45"/><circle cx="333.3" cy="609.0" r="2.45"/><circle cx="333.3" cy="609.9" r="2.45"/><circle cx="333.3" cy="610.8" r="2.45"/><circle cx="333.3" cy="611.8" r="2.45"/><circle cx="333.3" cy="611.8" r="2.55"/><circle cx="333.3" cy="612.3" r="2.55"/><circle cx="333.3" cy="612.9" r="2.55"/><circle cx="333.3" cy="613.4" r="2.55"/><circle cx="333.3" cy="614.0" r="2.55"/><circle cx="333.3" cy="614.5" r="2.55"/><circle cx="333.3" cy="615.1" r="2.55"/><circle cx="333.3" cy="615.6" r="2.55"/><circle cx="333.3" cy="616.1" r="2.55"/><circle cx="333.3" cy="616.7" r="2.55"/><circle cx="333.3" cy="617.2" r="2.55"/><circle cx="333.3" cy="617.8" r="2.55"/><circle cx="333.3" cy="618.3" r="2.55"/><circle cx="333.3" cy="618.9" r="2.55"/><circle cx="333.3" cy="619.4" r="2.55"/><circle cx="333.3" cy="620.0" r="2.55"/><circle cx="333.3" cy="620.5" r="2.55"/><circle cx="333.3" cy="621.0" r="2.55"/><circle cx="333.3" cy="621.6" r="2.55"/><circle cx="333.3" cy="622.1" r="2.55"/><circle cx="333.3" cy="622.7" r="2.55"/><circle cx="333.3" cy="623.2" r="2.55"/><circle cx="333.3" cy="623.8" r="2.55"/><circle cx="333.3" cy="624.3" r="2.55"/><circle cx="333.3" cy="624.8" r="2.55"/><circle cx="333.3" cy="625.4" r="2.55"/><circle cx="333.3" cy="625.9" r="2.55"/><circle cx="333.3" cy="626.5" r="2.55"/><circle cx="333.3" cy="627.0" r="2.55"/><circle cx="333.3" cy="627.6" r="2.55"/><circle cx="333.3" cy="628.1" r="2.55"/><circle cx="333.3" cy="628.7" r="2.55"/><circle cx="333.3" cy="629.2" r="2.55"/><circle cx="333.3" cy="629.7" r="2.55"/><circle cx="333.3" cy="630.3" r="2.55"/><circle cx="333.3" cy="630.8" r="2.55"/><circle cx="333.3" cy="631.4" r="2.55"/><circle cx="333.3" cy="631.9" r="2.55"/><circle cx="333.3" cy="632.5" r="2.55"/><circle cx="333.3" cy="633.0" r="2.55"/><circle cx="345.7" cy="592.8" r="2.45"/><circle cx="345.7" cy="601.6" r="2.45"/><circle cx="345.7" cy="605.3" r="2.45"/><circle cx="345.7" cy="606.4" r="2.45"/><circle cx="345.7" cy="607.5" r="2.45"/><circle cx="345.7" cy="608.5" r="2.45"/><circle cx="345.7" cy="609.6" r="2.45"/><circle cx="345.7" cy="610.7" r="2.45"/><circle cx="345.7" cy="611.8" r="2.45"/><circle cx="345.7" cy="611.8" r="2.55"/><circle cx="345.7" cy="612.3" r="2.55"/><circle cx="345.7" cy="612.9" r="2.55"/><circle cx="345.7" cy="613.4" r="2.55"/><circle cx="345.7" cy="614.0" r="2.55"/><circle cx="345.7" cy="614.5" r="2.55"/><circle cx="345.7" cy="615.1" r="2.55"/><circle cx="345.7" cy="615.6" r="2.55"/><circle cx="345.7" cy="616.1" r="2.55"/><circle cx="345.7" cy="616.7" r="2.55"/><circle cx="345.7" cy="617.2" r="2.55"/><circle cx="345.7" cy="617.8" r="2.55"/><circle cx="345.7" cy="618.3" r="2.55"/><circle cx="345.7" cy="618.9" r="2.55"/><circle cx="345.7" cy="619.4" r="2.55"/><circle cx="345.7" cy="620.0" r="2.55"/><circle cx="345.7" cy="620.5" r="2.55"/><circle cx="345.7" cy="621.0" r="2.55"/><circle cx="345.7" cy="621.6" r="2.55"/><circle cx="345.7" cy="622.1" r="2.55"/><circle cx="345.7" cy="622.7" r="2.55"/><circle cx="345.7" cy="623.2" r="2.55"/><circle cx="345.7" cy="623.8" r="2.55"/><circle cx="345.7" cy="624.3" r="2.55"/><circle cx="345.7" cy="624.8" r="2.55"/><circle cx="345.7" cy="625.4" r="2.55"/><circle cx="345.7" cy="625.9" r="2.55"/><circle cx="345.7" cy="626.5" r="2.55"/><circle cx="345.7" cy="627.0" r="2.55"/><circle cx="345.7" cy="627.6" r="2.55"/><circle cx="345.7" cy="628.1" r="2.55"/><circle cx="345.7" cy="628.7" r="2.55"/><circle cx="345.7" cy="629.2" r="2.55"/><circle cx="345.7" cy="629.7" r="2.55"/><circle cx="345.7" cy="630.3" r="2.55"/><circle cx="345.7" cy="630.8" r="2.55"/><circle cx="345.7" cy="631.4" r="2.55"/><circle cx="345.7" cy="631.9" r="2.55"/><circle cx="345.7" cy="632.5" r="2.55"/><circle cx="345.7" cy="633.0" r="2.55"/><circle cx="383.1" cy="505.0" r="2.45"/><circle cx="383.1" cy="509.7" r="2.45"/><circle cx="383.1" cy="540.3" r="2.45"/><circle cx="383.1" cy="554.2" r="2.45"/><circle cx="383.1" cy="568.8" r="2.45"/><circle cx="383.1" cy="571.0" r="2.45"/><circle cx="383.1" cy="579.7" r="2.45"/><circle cx="383.1" cy="581.9" r="2.45"/><circle cx="383.1" cy="584.1" r="2.45"/><circle cx="383.1" cy="587.0" r="2.45"/><circle cx="383.1" cy="589.9" r="2.45"/><circle cx="383.1" cy="592.8" r="2.45"/><circle cx="383.1" cy="602.3" r="2.45"/><circle cx="383.1" cy="606.7" r="2.45"/><circle cx="383.1" cy="609.0" r="2.45"/><circle cx="383.1" cy="611.4" r="2.45"/><circle cx="383.1" cy="613.7" r="2.45"/><circle cx="383.1" cy="616.1" r="2.45"/><circle cx="383.1" cy="618.4" r="2.45"/><circle cx="383.1" cy="620.0" r="2.55"/><circle cx="383.1" cy="620.5" r="2.55"/><circle cx="383.1" cy="621.1" r="2.55"/><circle cx="383.1" cy="621.6" r="2.55"/><circle cx="383.1" cy="622.2" r="2.55"/><circle cx="383.1" cy="622.7" r="2.55"/><circle cx="383.1" cy="623.2" r="2.55"/><circle cx="383.1" cy="623.8" r="2.55"/><circle cx="383.1" cy="624.3" r="2.55"/><circle cx="383.1" cy="624.9" r="2.55"/><circle cx="383.1" cy="625.4" r="2.55"/><circle cx="383.1" cy="626.0" r="2.55"/><circle cx="383.1" cy="626.5" r="2.55"/><circle cx="383.1" cy="627.0" r="2.55"/><circle cx="383.1" cy="627.6" r="2.55"/><circle cx="383.1" cy="628.1" r="2.55"/><circle cx="383.1" cy="628.7" r="2.55"/><circle cx="383.1" cy="629.2" r="2.55"/><circle cx="383.1" cy="629.8" r="2.55"/><circle cx="383.1" cy="630.3" r="2.55"/><circle cx="383.1" cy="630.8" r="2.55"/><circle cx="383.1" cy="631.4" r="2.55"/><circle cx="383.1" cy="631.9" r="2.55"/><circle cx="383.1" cy="632.5" r="2.55"/><circle cx="383.1" cy="633.0" r="2.55"/><circle cx="395.5" cy="495.5" r="2.45"/><circle cx="395.5" cy="589.9" r="2.45"/><circle cx="395.5" cy="589.9" r="2.45"/><circle cx="395.5" cy="593.6" r="2.45"/><circle cx="395.5" cy="598.7" r="2.45"/><circle cx="395.5" cy="599.8" r="2.45"/><circle cx="395.5" cy="600.9" r="2.45"/><circle cx="395.5" cy="601.9" r="2.45"/><circle cx="395.5" cy="603.0" r="2.45"/><circle cx="395.5" cy="604.1" r="2.45"/><circle cx="395.5" cy="605.2" r="2.45"/><circle cx="395.5" cy="606.2" r="2.45"/><circle cx="395.5" cy="607.3" r="2.45"/><circle cx="395.5" cy="608.4" r="2.45"/><circle cx="395.5" cy="609.5" r="2.45"/><circle cx="395.5" cy="610.5" r="2.45"/><circle cx="395.5" cy="611.6" r="2.45"/><circle cx="395.5" cy="612.7" r="2.45"/><circle cx="395.5" cy="613.8" r="2.45"/><circle cx="395.5" cy="614.8" r="2.45"/><circle cx="395.5" cy="615.9" r="2.45"/><circle cx="395.5" cy="617.0" r="2.45"/><circle cx="395.5" cy="601.0" r="2.45"/><circle cx="395.5" cy="601.0" r="2.45"/><circle cx="395.5" cy="611.1" r="2.45"/><circle cx="395.5" cy="611.1" r="2.45"/><circle cx="395.5" cy="617.0" r="2.55"/><circle cx="395.5" cy="617.6" r="2.55"/><circle cx="395.5" cy="618.1" r="2.55"/><circle cx="395.5" cy="618.7" r="2.55"/><circle cx="395.5" cy="619.2" r="2.55"/><circle cx="395.5" cy="619.8" r="2.55"/><circle cx="395.5" cy="620.3" r="2.55"/><circle cx="395.5" cy="620.9" r="2.55"/><circle cx="395.5" cy="621.4" r="2.55"/><circle cx="395.5" cy="622.0" r="2.55"/><circle cx="395.5" cy="622.5" r="2.55"/><circle cx="395.5" cy="623.1" r="2.55"/><circle cx="395.5" cy="623.6" r="2.55"/><circle cx="395.5" cy="624.2" r="2.55"/><circle cx="395.5" cy="624.7" r="2.55"/><circle cx="395.5" cy="625.3" r="2.55"/><circle cx="395.5" cy="625.8" r="2.55"/><circle cx="395.5" cy="626.4" r="2.55"/><circle cx="395.5" cy="626.9" r="2.55"/><circle cx="395.5" cy="627.5" r="2.55"/><circle cx="395.5" cy="628.0" r="2.55"/><circle cx="395.5" cy="628.6" r="2.55"/><circle cx="395.5" cy="629.1" r="2.55"/><circle cx="395.5" cy="629.7" r="2.55"/><circle cx="395.5" cy="630.2" r="2.55"/><circle cx="395.5" cy="630.8" r="2.55"/><circle cx="395.5" cy="631.3" r="2.55"/><circle cx="395.5" cy="631.9" r="2.55"/><circle cx="395.5" cy="632.4" r="2.55"/><circle cx="395.5" cy="633.0" r="2.55"/><circle cx="408.0" cy="582.6" r="2.45"/><circle cx="408.0" cy="588.9" r="2.45"/><circle cx="408.0" cy="595.8" r="2.45"/><circle cx="408.0" cy="598.7" r="2.45"/><circle cx="408.0" cy="600.9" r="2.55"/><circle cx="408.0" cy="601.4" r="2.55"/><circle cx="408.0" cy="602.0" r="2.55"/><circle cx="408.0" cy="602.5" r="2.55"/><circle cx="408.0" cy="603.0" r="2.55"/><circle cx="408.0" cy="603.5" r="2.55"/><circle cx="408.0" cy="604.1" r="2.55"/><circle cx="408.0" cy="604.6" r="2.55"/><circle cx="408.0" cy="605.1" r="2.55"/><circle cx="408.0" cy="605.6" r="2.55"/><circle cx="408.0" cy="606.2" r="2.55"/><circle cx="408.0" cy="606.7" r="2.55"/><circle cx="408.0" cy="606.7" r="2.45"/><circle cx="408.0" cy="607.8" r="2.45"/><circle cx="408.0" cy="608.9" r="2.45"/><circle cx="408.0" cy="610.0" r="2.45"/><circle cx="408.0" cy="611.1" r="2.45"/><circle cx="408.0" cy="612.2" r="2.45"/><circle cx="408.0" cy="613.3" r="2.45"/><circle cx="408.0" cy="614.4" r="2.45"/><circle cx="408.0" cy="615.5" r="2.45"/><circle cx="408.0" cy="615.5" r="2.55"/><circle cx="408.0" cy="616.0" r="2.55"/><circle cx="408.0" cy="616.6" r="2.55"/><circle cx="408.0" cy="617.1" r="2.55"/><circle cx="408.0" cy="617.7" r="2.55"/><circle cx="408.0" cy="618.2" r="2.55"/><circle cx="408.0" cy="618.8" r="2.55"/><circle cx="408.0" cy="619.3" r="2.55"/><circle cx="408.0" cy="619.9" r="2.55"/><circle cx="408.0" cy="620.4" r="2.55"/><circle cx="408.0" cy="621.0" r="2.55"/><circle cx="408.0" cy="621.5" r="2.55"/><circle cx="408.0" cy="622.1" r="2.55"/><circle cx="408.0" cy="622.6" r="2.55"/><circle cx="408.0" cy="623.2" r="2.55"/><circle cx="408.0" cy="623.7" r="2.55"/><circle cx="408.0" cy="624.2" r="2.55"/><circle cx="408.0" cy="624.8" r="2.55"/><circle cx="408.0" cy="625.3" r="2.55"/><circle cx="408.0" cy="625.9" r="2.55"/><circle cx="408.0" cy="626.4" r="2.55"/><circle cx="408.0" cy="627.0" r="2.55"/><circle cx="408.0" cy="627.5" r="2.55"/><circle cx="408.0" cy="628.1" r="2.55"/><circle cx="408.0" cy="628.6" r="2.55"/><circle cx="408.0" cy="629.2" r="2.55"/><circle cx="408.0" cy="629.7" r="2.55"/><circle cx="408.0" cy="630.3" r="2.55"/><circle cx="408.0" cy="630.8" r="2.55"/><circle cx="408.0" cy="631.4" r="2.55"/><circle cx="408.0" cy="631.9" r="2.55"/><circle cx="408.0" cy="632.5" r="2.55"/><circle cx="408.0" cy="633.0" r="2.55"/><circle cx="420.4" cy="580.0" r="2.45"/><circle cx="420.4" cy="585.5" r="2.45"/><circle cx="420.4" cy="585.5" r="2.45"/><circle cx="420.4" cy="595.8" r="2.45"/><circle cx="420.4" cy="598.7" r="2.45"/><circle cx="420.4" cy="600.9" r="2.45"/><circle cx="420.4" cy="601.9" r="2.45"/><circle cx="420.4" cy="603.0" r="2.45"/><circle cx="420.4" cy="604.0" r="2.45"/><circle cx="420.4" cy="605.0" r="2.45"/><circle cx="420.4" cy="606.1" r="2.45"/><circle cx="420.4" cy="607.1" r="2.45"/><circle cx="420.4" cy="608.1" r="2.45"/><circle cx="420.4" cy="609.2" r="2.45"/><circle cx="420.4" cy="610.2" r="2.45"/><circle cx="420.4" cy="611.3" r="2.45"/><circle cx="420.4" cy="612.3" r="2.45"/><circle cx="420.4" cy="613.3" r="2.45"/><circle cx="420.4" cy="614.4" r="2.45"/><circle cx="420.4" cy="615.4" r="2.45"/><circle cx="420.4" cy="616.4" r="2.45"/><circle cx="420.4" cy="617.5" r="2.45"/><circle cx="420.4" cy="618.5" r="2.45"/><circle cx="420.4" cy="619.5" r="2.45"/><circle cx="420.4" cy="620.6" r="2.45"/><circle cx="420.4" cy="621.6" r="2.45"/><circle cx="420.4" cy="622.6" r="2.45"/><circle cx="420.4" cy="623.7" r="2.45"/><circle cx="420.4" cy="624.7" r="2.45"/><circle cx="420.4" cy="625.8" r="2.45"/><circle cx="420.4" cy="626.8" r="2.45"/><circle cx="420.4" cy="627.8" r="2.45"/><circle cx="420.4" cy="628.9" r="2.45"/><circle cx="420.4" cy="629.9" r="2.45"/><circle cx="420.4" cy="630.9" r="2.45"/><circle cx="420.4" cy="632.0" r="2.45"/><circle cx="420.4" cy="633.0" r="2.45"/><circle cx="420.4" cy="615.0" r="2.55"/><circle cx="420.4" cy="615.5" r="2.55"/><circle cx="420.4" cy="616.1" r="2.55"/><circle cx="420.4" cy="616.6" r="2.55"/><circle cx="420.4" cy="617.2" r="2.55"/><circle cx="420.4" cy="617.7" r="2.55"/><circle cx="420.4" cy="618.3" r="2.55"/><circle cx="420.4" cy="618.8" r="2.55"/><circle cx="420.4" cy="619.4" r="2.55"/><circle cx="420.4" cy="619.9" r="2.55"/><circle cx="420.4" cy="620.5" r="2.55"/><circle cx="420.4" cy="621.0" r="2.55"/><circle cx="420.4" cy="621.5" r="2.55"/><circle cx="420.4" cy="622.1" r="2.55"/><circle cx="420.4" cy="622.6" r="2.55"/><circle cx="420.4" cy="623.2" r="2.55"/><circle cx="420.4" cy="623.7" r="2.55"/><circle cx="420.4" cy="624.3" r="2.55"/><circle cx="420.4" cy="624.8" r="2.55"/><circle cx="420.4" cy="625.4" r="2.55"/><circle cx="420.4" cy="625.9" r="2.55"/><circle cx="420.4" cy="626.5" r="2.55"/><circle cx="420.4" cy="627.0" r="2.55"/><circle cx="420.4" cy="627.5" r="2.55"/><circle cx="420.4" cy="628.1" r="2.55"/><circle cx="420.4" cy="628.6" r="2.55"/><circle cx="420.4" cy="629.2" r="2.55"/><circle cx="420.4" cy="629.7" r="2.55"/><circle cx="420.4" cy="630.3" r="2.55"/><circle cx="420.4" cy="630.8" r="2.55"/><circle cx="420.4" cy="631.4" r="2.55"/><circle cx="420.4" cy="631.9" r="2.55"/><circle cx="420.4" cy="632.5" r="2.55"/><circle cx="420.4" cy="633.0" r="2.55"/><circle cx="432.9" cy="583.8" r="2.45"/><circle cx="432.9" cy="593.3" r="2.45"/><circle cx="432.9" cy="596.5" r="2.45"/><circle cx="432.9" cy="596.5" r="2.45"/><circle cx="432.9" cy="602.3" r="2.45"/><circle cx="432.9" cy="606.7" r="2.45"/><circle cx="432.9" cy="611.8" r="2.45"/><circle cx="432.9" cy="615.5" r="2.55"/><circle cx="432.9" cy="616.0" r="2.55"/><circle cx="432.9" cy="616.6" r="2.55"/><circle cx="432.9" cy="617.1" r="2.55"/><circle cx="432.9" cy="617.7" r="2.55"/><circle cx="432.9" cy="618.2" r="2.55"/><circle cx="432.9" cy="618.8" r="2.55"/><circle cx="432.9" cy="619.3" r="2.55"/><circle cx="432.9" cy="619.9" r="2.55"/><circle cx="432.9" cy="620.4" r="2.55"/><circle cx="432.9" cy="621.0" r="2.55"/><circle cx="432.9" cy="621.5" r="2.55"/><circle cx="432.9" cy="622.1" r="2.55"/><circle cx="432.9" cy="622.6" r="2.55"/><circle cx="432.9" cy="623.2" r="2.55"/><circle cx="432.9" cy="623.7" r="2.55"/><circle cx="432.9" cy="624.2" r="2.55"/><circle cx="432.9" cy="624.8" r="2.55"/><circle cx="432.9" cy="625.3" r="2.55"/><circle cx="432.9" cy="625.9" r="2.55"/><circle cx="432.9" cy="626.4" r="2.55"/><circle cx="432.9" cy="627.0" r="2.55"/><circle cx="432.9" cy="627.5" r="2.55"/><circle cx="432.9" cy="628.1" r="2.55"/><circle cx="432.9" cy="628.6" r="2.55"/><circle cx="432.9" cy="629.2" r="2.55"/><circle cx="432.9" cy="629.7" r="2.55"/><circle cx="432.9" cy="630.3" r="2.55"/><circle cx="432.9" cy="630.8" r="2.55"/><circle cx="432.9" cy="631.4" r="2.55"/><circle cx="432.9" cy="631.9" r="2.55"/><circle cx="432.9" cy="632.5" r="2.55"/><circle cx="432.9" cy="633.0" r="2.55"/><circle cx="445.3" cy="583.4" r="2.45"/><circle cx="445.3" cy="585.5" r="2.45"/><circle cx="445.3" cy="589.2" r="2.45"/><circle cx="445.3" cy="591.4" r="2.45"/><circle cx="445.3" cy="599.4" r="2.45"/><circle cx="445.3" cy="599.4" r="2.45"/><circle cx="445.3" cy="600.9" r="2.45"/><circle cx="445.3" cy="601.9" r="2.45"/><circle cx="445.3" cy="603.0" r="2.45"/><circle cx="445.3" cy="604.0" r="2.45"/><circle cx="445.3" cy="605.0" r="2.45"/><circle cx="445.3" cy="606.1" r="2.45"/><circle cx="445.3" cy="607.1" r="2.45"/><circle cx="445.3" cy="608.1" r="2.45"/><circle cx="445.3" cy="609.2" r="2.45"/><circle cx="445.3" cy="610.2" r="2.45"/><circle cx="445.3" cy="611.3" r="2.45"/><circle cx="445.3" cy="612.3" r="2.45"/><circle cx="445.3" cy="613.3" r="2.45"/><circle cx="445.3" cy="614.4" r="2.45"/><circle cx="445.3" cy="615.4" r="2.45"/><circle cx="445.3" cy="616.4" r="2.45"/><circle cx="445.3" cy="617.5" r="2.45"/><circle cx="445.3" cy="618.5" r="2.45"/><circle cx="445.3" cy="619.5" r="2.45"/><circle cx="445.3" cy="620.6" r="2.45"/><circle cx="445.3" cy="621.6" r="2.45"/><circle cx="445.3" cy="622.6" r="2.45"/><circle cx="445.3" cy="623.7" r="2.45"/><circle cx="445.3" cy="624.7" r="2.45"/><circle cx="445.3" cy="625.8" r="2.45"/><circle cx="445.3" cy="626.8" r="2.45"/><circle cx="445.3" cy="627.8" r="2.45"/><circle cx="445.3" cy="628.9" r="2.45"/><circle cx="445.3" cy="629.9" r="2.45"/><circle cx="445.3" cy="630.9" r="2.45"/><circle cx="445.3" cy="632.0" r="2.45"/><circle cx="445.3" cy="633.0" r="2.45"/><circle cx="445.3" cy="612.0" r="2.55"/><circle cx="445.3" cy="612.6" r="2.55"/><circle cx="445.3" cy="613.1" r="2.55"/><circle cx="445.3" cy="613.7" r="2.55"/><circle cx="445.3" cy="614.2" r="2.55"/><circle cx="445.3" cy="614.8" r="2.55"/><circle cx="445.3" cy="615.3" r="2.55"/><circle cx="445.3" cy="615.9" r="2.55"/><circle cx="445.3" cy="616.4" r="2.55"/><circle cx="445.3" cy="617.0" r="2.55"/><circle cx="445.3" cy="617.5" r="2.55"/><circle cx="445.3" cy="618.1" r="2.55"/><circle cx="445.3" cy="618.6" r="2.55"/><circle cx="445.3" cy="619.2" r="2.55"/><circle cx="445.3" cy="619.7" r="2.55"/><circle cx="445.3" cy="620.3" r="2.55"/><circle cx="445.3" cy="620.8" r="2.55"/><circle cx="445.3" cy="621.4" r="2.55"/><circle cx="445.3" cy="621.9" r="2.55"/><circle cx="445.3" cy="622.5" r="2.55"/><circle cx="445.3" cy="623.1" r="2.55"/><circle cx="445.3" cy="623.6" r="2.55"/><circle cx="445.3" cy="624.2" r="2.55"/><circle cx="445.3" cy="624.7" r="2.55"/><circle cx="445.3" cy="625.3" r="2.55"/><circle cx="445.3" cy="625.8" r="2.55"/><circle cx="445.3" cy="626.4" r="2.55"/><circle cx="445.3" cy="626.9" r="2.55"/><circle cx="445.3" cy="627.5" r="2.55"/><circle cx="445.3" cy="628.0" r="2.55"/><circle cx="445.3" cy="628.6" r="2.55"/><circle cx="445.3" cy="629.1" r="2.55"/><circle cx="445.3" cy="629.7" r="2.55"/><circle cx="445.3" cy="630.2" r="2.55"/><circle cx="445.3" cy="630.8" r="2.55"/><circle cx="445.3" cy="631.3" r="2.55"/><circle cx="445.3" cy="631.9" r="2.55"/><circle cx="445.3" cy="632.4" r="2.55"/><circle cx="445.3" cy="633.0" r="2.55"/><circle cx="457.8" cy="581.6" r="2.45"/><circle cx="457.8" cy="593.3" r="2.45"/><circle cx="457.8" cy="596.5" r="2.45"/><circle cx="457.8" cy="602.3" r="2.45"/><circle cx="457.8" cy="602.3" r="2.45"/><circle cx="457.8" cy="605.3" r="2.45"/><circle cx="457.8" cy="606.0" r="2.45"/><circle cx="457.8" cy="607.0" r="2.45"/><circle cx="457.8" cy="608.1" r="2.45"/><circle cx="457.8" cy="609.1" r="2.45"/><circle cx="457.8" cy="610.2" r="2.45"/><circle cx="457.8" cy="611.2" r="2.45"/><circle cx="457.8" cy="612.2" r="2.45"/><circle cx="457.8" cy="613.3" r="2.45"/><circle cx="457.8" cy="614.3" r="2.45"/><circle cx="457.8" cy="615.3" r="2.45"/><circle cx="457.8" cy="616.4" r="2.45"/><circle cx="457.8" cy="617.4" r="2.45"/><circle cx="457.8" cy="618.5" r="2.45"/><circle cx="457.8" cy="619.5" r="2.45"/><circle cx="457.8" cy="620.5" r="2.45"/><circle cx="457.8" cy="621.6" r="2.45"/><circle cx="457.8" cy="622.6" r="2.45"/><circle cx="457.8" cy="623.7" r="2.45"/><circle cx="457.8" cy="624.7" r="2.45"/><circle cx="457.8" cy="625.7" r="2.45"/><circle cx="457.8" cy="626.8" r="2.45"/><circle cx="457.8" cy="627.8" r="2.45"/><circle cx="457.8" cy="628.8" r="2.45"/><circle cx="457.8" cy="629.9" r="2.45"/><circle cx="457.8" cy="630.9" r="2.45"/><circle cx="457.8" cy="632.0" r="2.45"/><circle cx="457.8" cy="633.0" r="2.45"/><circle cx="457.8" cy="614.0" r="2.55"/><circle cx="457.8" cy="614.5" r="2.55"/><circle cx="457.8" cy="615.1" r="2.55"/><circle cx="457.8" cy="615.6" r="2.55"/><circle cx="457.8" cy="616.2" r="2.55"/><circle cx="457.8" cy="616.7" r="2.55"/><circle cx="457.8" cy="617.3" r="2.55"/><circle cx="457.8" cy="617.8" r="2.55"/><circle cx="457.8" cy="618.3" r="2.55"/><circle cx="457.8" cy="618.9" r="2.55"/><circle cx="457.8" cy="619.4" r="2.55"/><circle cx="457.8" cy="620.0" r="2.55"/><circle cx="457.8" cy="620.5" r="2.55"/><circle cx="457.8" cy="621.1" r="2.55"/><circle cx="457.8" cy="621.6" r="2.55"/><circle cx="457.8" cy="622.1" r="2.55"/><circle cx="457.8" cy="622.7" r="2.55"/><circle cx="457.8" cy="623.2" r="2.55"/><circle cx="457.8" cy="623.8" r="2.55"/><circle cx="457.8" cy="624.3" r="2.55"/><circle cx="457.8" cy="624.9" r="2.55"/><circle cx="457.8" cy="625.4" r="2.55"/><circle cx="457.8" cy="625.9" r="2.55"/><circle cx="457.8" cy="626.5" r="2.55"/><circle cx="457.8" cy="627.0" r="2.55"/><circle cx="457.8" cy="627.6" r="2.55"/><circle cx="457.8" cy="628.1" r="2.55"/><circle cx="457.8" cy="628.7" r="2.55"/><circle cx="457.8" cy="629.2" r="2.55"/><circle cx="457.8" cy="629.7" r="2.55"/><circle cx="457.8" cy="630.3" r="2.55"/><circle cx="457.8" cy="630.8" r="2.55"/><circle cx="457.8" cy="631.4" r="2.55"/><circle cx="457.8" cy="631.9" r="2.55"/><circle cx="457.8" cy="632.5" r="2.55"/><circle cx="457.8" cy="633.0" r="2.55"/><circle cx="470.2" cy="569.9" r="2.45"/><circle cx="470.2" cy="578.7" r="2.45"/><circle cx="470.2" cy="584.0" r="2.45"/><circle cx="470.2" cy="592.0" r="2.45"/><circle cx="470.2" cy="593.1" r="2.45"/><circle cx="470.2" cy="594.1" r="2.45"/><circle cx="470.2" cy="595.2" r="2.45"/><circle cx="470.2" cy="596.3" r="2.45"/><circle cx="470.2" cy="597.3" r="2.45"/><circle cx="470.2" cy="598.4" r="2.45"/><circle cx="470.2" cy="599.5" r="2.45"/><circle cx="470.2" cy="600.5" r="2.45"/><circle cx="470.2" cy="601.6" r="2.45"/><circle cx="470.2" cy="602.7" r="2.45"/><circle cx="470.2" cy="603.7" r="2.45"/><circle cx="470.2" cy="604.8" r="2.45"/><circle cx="470.2" cy="605.9" r="2.45"/><circle cx="470.2" cy="606.9" r="2.45"/><circle cx="470.2" cy="608.0" r="2.45"/><circle cx="470.2" cy="611.0" r="2.45"/><circle cx="470.2" cy="614.0" r="2.55"/><circle cx="470.2" cy="614.5" r="2.55"/><circle cx="470.2" cy="615.1" r="2.55"/><circle cx="470.2" cy="615.6" r="2.55"/><circle cx="470.2" cy="616.2" r="2.55"/><circle cx="470.2" cy="616.7" r="2.55"/><circle cx="470.2" cy="617.3" r="2.55"/><circle cx="470.2" cy="617.8" r="2.55"/><circle cx="470.2" cy="618.3" r="2.55"/><circle cx="470.2" cy="618.9" r="2.55"/><circle cx="470.2" cy="619.4" r="2.55"/><circle cx="470.2" cy="620.0" r="2.55"/><circle cx="470.2" cy="620.5" r="2.55"/><circle cx="470.2" cy="621.1" r="2.55"/><circle cx="470.2" cy="621.6" r="2.55"/><circle cx="470.2" cy="622.1" r="2.55"/><circle cx="470.2" cy="622.7" r="2.55"/><circle cx="470.2" cy="623.2" r="2.55"/><circle cx="470.2" cy="623.8" r="2.55"/><circle cx="470.2" cy="624.3" r="2.55"/><circle cx="470.2" cy="624.9" r="2.55"/><circle cx="470.2" cy="625.4" r="2.55"/><circle cx="470.2" cy="625.9" r="2.55"/><circle cx="470.2" cy="626.5" r="2.55"/><circle cx="470.2" cy="627.0" r="2.55"/><circle cx="470.2" cy="627.6" r="2.55"/><circle cx="470.2" cy="628.1" r="2.55"/><circle cx="470.2" cy="628.7" r="2.55"/><circle cx="470.2" cy="629.2" r="2.55"/><circle cx="470.2" cy="629.7" r="2.55"/><circle cx="470.2" cy="630.3" r="2.55"/><circle cx="470.2" cy="630.8" r="2.55"/><circle cx="470.2" cy="631.4" r="2.55"/><circle cx="470.2" cy="631.9" r="2.55"/><circle cx="470.2" cy="632.5" r="2.55"/><circle cx="470.2" cy="633.0" r="2.55"/><circle cx="482.7" cy="590.5" r="2.45"/><circle cx="482.7" cy="593.5" r="2.45"/><circle cx="482.7" cy="596.5" r="2.45"/><circle cx="482.7" cy="599.0" r="2.45"/><circle cx="482.7" cy="599.0" r="2.45"/><circle cx="482.7" cy="601.4" r="2.45"/><circle cx="482.7" cy="601.4" r="2.45"/><circle cx="482.7" cy="603.8" r="2.45"/><circle cx="482.7" cy="603.8" r="2.45"/><circle cx="482.7" cy="606.2" r="2.45"/><circle cx="482.7" cy="606.2" r="2.45"/><circle cx="482.7" cy="608.5" r="2.45"/><circle cx="482.7" cy="608.5" r="2.45"/><circle cx="482.7" cy="610.9" r="2.45"/><circle cx="482.7" cy="610.9" r="2.45"/><circle cx="482.7" cy="613.3" r="2.45"/><circle cx="482.7" cy="613.3" r="2.45"/><circle cx="482.7" cy="615.7" r="2.45"/><circle cx="482.7" cy="615.7" r="2.45"/><circle cx="482.7" cy="618.1" r="2.45"/><circle cx="482.7" cy="618.1" r="2.45"/><circle cx="482.7" cy="620.5" r="2.45"/><circle cx="482.7" cy="620.5" r="2.45"/><circle cx="482.7" cy="622.9" r="2.45"/><circle cx="482.7" cy="622.9" r="2.45"/><circle cx="482.7" cy="625.2" r="2.45"/><circle cx="482.7" cy="625.2" r="2.45"/><circle cx="482.7" cy="627.6" r="2.45"/><circle cx="482.7" cy="627.6" r="2.45"/><circle cx="482.7" cy="630.0" r="2.45"/><circle cx="482.7" cy="630.0" r="2.45"/><circle cx="482.7" cy="632.4" r="2.45"/><circle cx="482.7" cy="632.4" r="2.45"/><circle cx="482.7" cy="605.8" r="2.45"/><circle cx="482.7" cy="605.8" r="2.45"/><circle cx="482.7" cy="612.0" r="2.45"/><circle cx="482.7" cy="613.1" r="2.45"/><circle cx="482.7" cy="614.1" r="2.45"/><circle cx="482.7" cy="615.2" r="2.45"/><circle cx="482.7" cy="616.3" r="2.45"/><circle cx="482.7" cy="617.4" r="2.45"/><circle cx="482.7" cy="618.4" r="2.45"/><circle cx="482.7" cy="619.5" r="2.45"/><circle cx="482.7" cy="620.6" r="2.45"/><circle cx="482.7" cy="621.7" r="2.45"/><circle cx="482.7" cy="622.7" r="2.45"/><circle cx="482.7" cy="623.8" r="2.45"/><circle cx="482.7" cy="624.9" r="2.45"/><circle cx="482.7" cy="626.0" r="2.45"/><circle cx="482.7" cy="627.0" r="2.45"/><circle cx="482.7" cy="628.1" r="2.45"/><circle cx="482.7" cy="629.2" r="2.45"/><circle cx="482.7" cy="630.3" r="2.45"/><circle cx="482.7" cy="631.3" r="2.45"/><circle cx="482.7" cy="632.4" r="2.45"/><circle cx="495.1" cy="574.0" r="2.45"/><circle cx="495.1" cy="590.4" r="2.45"/><circle cx="495.1" cy="595.6" r="2.45"/><circle cx="495.1" cy="595.6" r="2.45"/><circle cx="495.1" cy="602.8" r="2.45"/><circle cx="495.1" cy="602.8" r="2.45"/><circle cx="495.1" cy="602.8" r="2.45"/><circle cx="495.1" cy="600.0" r="2.45"/><circle cx="495.1" cy="600.0" r="2.45"/><circle cx="495.1" cy="602.4" r="2.45"/><circle cx="495.1" cy="602.4" r="2.45"/><circle cx="495.1" cy="604.7" r="2.45"/><circle cx="495.1" cy="604.7" r="2.45"/><circle cx="495.1" cy="607.1" r="2.45"/><circle cx="495.1" cy="607.1" r="2.45"/><circle cx="495.1" cy="609.4" r="2.45"/><circle cx="495.1" cy="609.4" r="2.45"/><circle cx="495.1" cy="611.8" r="2.45"/><circle cx="495.1" cy="611.8" r="2.45"/><circle cx="495.1" cy="614.1" r="2.45"/><circle cx="495.1" cy="614.1" r="2.45"/><circle cx="495.1" cy="616.5" r="2.45"/><circle cx="495.1" cy="616.5" r="2.45"/><circle cx="495.1" cy="618.9" r="2.45"/><circle cx="495.1" cy="618.9" r="2.45"/><circle cx="495.1" cy="621.2" r="2.45"/><circle cx="495.1" cy="621.2" r="2.45"/><circle cx="495.1" cy="623.6" r="2.45"/><circle cx="495.1" cy="623.6" r="2.45"/><circle cx="495.1" cy="625.9" r="2.45"/><circle cx="495.1" cy="625.9" r="2.45"/><circle cx="495.1" cy="628.3" r="2.45"/><circle cx="495.1" cy="628.3" r="2.45"/><circle cx="495.1" cy="630.6" r="2.45"/><circle cx="495.1" cy="630.6" r="2.45"/><circle cx="495.1" cy="633.0" r="2.45"/><circle cx="495.1" cy="633.0" r="2.45"/><circle cx="495.1" cy="609.0" r="2.45"/><circle cx="495.1" cy="610.0" r="2.45"/><circle cx="495.1" cy="611.1" r="2.45"/><circle cx="495.1" cy="612.1" r="2.45"/><circle cx="495.1" cy="613.2" r="2.45"/><circle cx="495.1" cy="614.2" r="2.45"/><circle cx="495.1" cy="615.3" r="2.45"/><circle cx="495.1" cy="616.3" r="2.45"/><circle cx="495.1" cy="617.3" r="2.45"/><circle cx="495.1" cy="618.4" r="2.45"/><circle cx="495.1" cy="619.4" r="2.45"/><circle cx="495.1" cy="620.5" r="2.45"/><circle cx="495.1" cy="621.5" r="2.45"/><circle cx="495.1" cy="622.6" r="2.45"/><circle cx="495.1" cy="623.6" r="2.45"/><circle cx="495.1" cy="624.7" r="2.45"/><circle cx="495.1" cy="625.7" r="2.45"/><circle cx="495.1" cy="626.7" r="2.45"/><circle cx="495.1" cy="627.8" r="2.45"/><circle cx="495.1" cy="628.8" r="2.45"/><circle cx="495.1" cy="629.9" r="2.45"/><circle cx="495.1" cy="630.9" r="2.45"/><circle cx="495.1" cy="632.0" r="2.45"/><circle cx="495.1" cy="633.0" r="2.45"/><circle cx="507.6" cy="571.1" r="2.45"/><circle cx="507.6" cy="589.0" r="2.45"/><circle cx="507.6" cy="589.0" r="2.45"/><circle cx="507.6" cy="589.0" r="2.45"/><circle cx="507.6" cy="594.7" r="2.45"/><circle cx="507.6" cy="601.8" r="2.45"/><circle cx="507.6" cy="601.8" r="2.45"/><circle cx="507.6" cy="601.8" r="2.45"/><circle cx="507.6" cy="597.0" r="2.45"/><circle cx="507.6" cy="597.0" r="2.45"/><circle cx="507.6" cy="599.4" r="2.45"/><circle cx="507.6" cy="599.4" r="2.45"/><circle cx="507.6" cy="601.8" r="2.45"/><circle cx="507.6" cy="601.8" r="2.45"/><circle cx="507.6" cy="604.2" r="2.45"/><circle cx="507.6" cy="604.2" r="2.45"/><circle cx="507.6" cy="606.6" r="2.45"/><circle cx="507.6" cy="606.6" r="2.45"/><circle cx="507.6" cy="609.0" r="2.45"/><circle cx="507.6" cy="609.0" r="2.45"/><circle cx="507.6" cy="611.4" r="2.45"/><circle cx="507.6" cy="611.4" r="2.45"/><circle cx="507.6" cy="613.8" r="2.45"/><circle cx="507.6" cy="613.8" r="2.45"/><circle cx="507.6" cy="616.1" r="2.45"/><circle cx="507.6" cy="616.1" r="2.45"/><circle cx="507.6" cy="618.5" r="2.45"/><circle cx="507.6" cy="618.5" r="2.45"/><circle cx="507.6" cy="620.9" r="2.45"/><circle cx="507.6" cy="620.9" r="2.45"/><circle cx="507.6" cy="623.3" r="2.45"/><circle cx="507.6" cy="623.3" r="2.45"/><circle cx="507.6" cy="625.7" r="2.45"/><circle cx="507.6" cy="625.7" r="2.45"/><circle cx="507.6" cy="628.1" r="2.45"/><circle cx="507.6" cy="628.1" r="2.45"/><circle cx="507.6" cy="630.5" r="2.45"/><circle cx="507.6" cy="630.5" r="2.45"/><circle cx="507.6" cy="606.0" r="2.45"/><circle cx="507.6" cy="607.1" r="2.45"/><circle cx="507.6" cy="608.1" r="2.45"/><circle cx="507.6" cy="609.2" r="2.45"/><circle cx="507.6" cy="610.3" r="2.45"/><circle cx="507.6" cy="611.3" r="2.45"/><circle cx="507.6" cy="612.4" r="2.45"/><circle cx="507.6" cy="613.5" r="2.45"/><circle cx="507.6" cy="614.5" r="2.45"/><circle cx="507.6" cy="615.6" r="2.45"/><circle cx="507.6" cy="616.7" r="2.45"/><circle cx="507.6" cy="617.7" r="2.45"/><circle cx="507.6" cy="618.8" r="2.45"/><circle cx="507.6" cy="619.8" r="2.45"/><circle cx="507.6" cy="620.9" r="2.45"/><circle cx="507.6" cy="622.0" r="2.45"/><circle cx="507.6" cy="623.0" r="2.45"/><circle cx="507.6" cy="624.1" r="2.45"/><circle cx="507.6" cy="625.2" r="2.45"/><circle cx="507.6" cy="626.2" r="2.45"/><circle cx="507.6" cy="627.3" r="2.45"/><circle cx="507.6" cy="628.4" r="2.45"/><circle cx="507.6" cy="629.4" r="2.45"/><circle cx="507.6" cy="630.5" r="2.45"/><circle cx="657.0" cy="583.3" r="2.45"/><circle cx="657.0" cy="586.0" r="2.45"/><circle cx="657.0" cy="586.0" r="2.45"/><circle cx="657.0" cy="593.3" r="2.45"/><circle cx="657.0" cy="593.3" r="2.45"/><circle cx="657.0" cy="595.7" r="2.45"/><circle cx="657.0" cy="595.7" r="2.45"/><circle cx="657.0" cy="598.0" r="2.45"/><circle cx="657.0" cy="598.0" r="2.45"/><circle cx="657.0" cy="600.4" r="2.45"/><circle cx="657.0" cy="600.4" r="2.45"/><circle cx="657.0" cy="602.7" r="2.45"/><circle cx="657.0" cy="602.7" r="2.45"/><circle cx="657.0" cy="605.1" r="2.45"/><circle cx="657.0" cy="605.1" r="2.45"/><circle cx="657.0" cy="607.4" r="2.45"/><circle cx="657.0" cy="607.4" r="2.45"/><circle cx="657.0" cy="609.8" r="2.45"/><circle cx="657.0" cy="609.8" r="2.45"/><circle cx="657.0" cy="612.1" r="2.45"/><circle cx="657.0" cy="612.1" r="2.45"/><circle cx="657.0" cy="614.5" r="2.45"/><circle cx="657.0" cy="614.5" r="2.45"/><circle cx="657.0" cy="616.9" r="2.45"/><circle cx="657.0" cy="616.9" r="2.45"/><circle cx="657.0" cy="619.2" r="2.45"/><circle cx="657.0" cy="619.2" r="2.45"/><circle cx="657.0" cy="621.6" r="2.45"/><circle cx="657.0" cy="621.6" r="2.45"/><circle cx="657.0" cy="623.9" r="2.45"/><circle cx="657.0" cy="623.9" r="2.45"/><circle cx="657.0" cy="626.3" r="2.45"/><circle cx="657.0" cy="626.3" r="2.45"/><circle cx="657.0" cy="628.6" r="2.45"/><circle cx="657.0" cy="628.6" r="2.45"/><circle cx="657.0" cy="631.0" r="2.45"/><circle cx="657.0" cy="631.0" r="2.45"/><circle cx="657.0" cy="603.0" r="2.45"/><circle cx="657.0" cy="604.0" r="2.45"/><circle cx="657.0" cy="605.1" r="2.45"/><circle cx="657.0" cy="606.1" r="2.45"/><circle cx="657.0" cy="607.1" r="2.45"/><circle cx="657.0" cy="608.2" r="2.45"/><circle cx="657.0" cy="609.2" r="2.45"/><circle cx="657.0" cy="610.3" r="2.45"/><circle cx="657.0" cy="611.3" r="2.45"/><circle cx="657.0" cy="612.3" r="2.45"/><circle cx="657.0" cy="613.4" r="2.45"/><circle cx="657.0" cy="614.4" r="2.45"/><circle cx="657.0" cy="615.4" r="2.45"/><circle cx="657.0" cy="616.5" r="2.45"/><circle cx="657.0" cy="617.5" r="2.45"/><circle cx="657.0" cy="618.6" r="2.45"/><circle cx="657.0" cy="619.6" r="2.45"/><circle cx="657.0" cy="620.6" r="2.45"/><circle cx="657.0" cy="621.7" r="2.45"/><circle cx="657.0" cy="622.7" r="2.45"/><circle cx="657.0" cy="623.7" r="2.45"/><circle cx="657.0" cy="624.8" r="2.45"/><circle cx="657.0" cy="625.8" r="2.45"/><circle cx="657.0" cy="626.9" r="2.45"/><circle cx="657.0" cy="627.9" r="2.45"/><circle cx="657.0" cy="628.9" r="2.45"/><circle cx="657.0" cy="630.0" r="2.45"/><circle cx="657.0" cy="631.0" r="2.45"/></g>
<rect x="68" y="0" width="617" height="1.1" fill="#5e5e5e"/><rect x="683.9" y="0" width="1.1" height="258" fill="#808080"/><rect x="65.1" y="245.35" width="3" height="1.5" fill="#333"/><text transform="translate(64.8 252.60) scale(0.92 1)" text-anchor="end" class="tk">0.00</text><rect x="65.1" y="186.77" width="3" height="1.5" fill="#333"/><text transform="translate(64.8 194.02) scale(0.92 1)" text-anchor="end" class="tk">0.25</text><rect x="65.1" y="128.20" width="3" height="1.5" fill="#333"/><text transform="translate(64.8 135.45) scale(0.92 1)" text-anchor="end" class="tk">0.50</text><rect x="65.1" y="69.62" width="3" height="1.5" fill="#333"/><text transform="translate(64.8 76.87) scale(0.92 1)" text-anchor="end" class="tk">0.75</text><rect x="65.1" y="11.05" width="3" height="1.5" fill="#333"/><text transform="translate(64.8 18.30) scale(0.92 1)" text-anchor="end" class="tk">1.00</text><rect x="170.60" y="258" width="2" height="3.6" fill="#333"/><text transform="translate(174.60 278.50) scale(0.92 1)" text-anchor="middle" class="tk">50</text><rect x="295.00" y="258" width="2" height="3.6" fill="#333"/><text transform="translate(299.00 278.50) scale(0.92 1)" text-anchor="middle" class="tk">60</text><rect x="419.40" y="258" width="2" height="3.6" fill="#333"/><text transform="translate(423.40 278.50) scale(0.92 1)" text-anchor="middle" class="tk">70</text><rect x="543.80" y="258" width="2" height="3.6" fill="#333"/><text transform="translate(547.80 278.50) scale(0.92 1)" text-anchor="middle" class="tk">80</text><rect x="668.20" y="258" width="2" height="3.6" fill="#333"/><text transform="translate(672.20 278.50) scale(0.92 1)" text-anchor="middle" class="tk">90</text><rect x="68" y="0" width="2" height="258.6" fill="#111"/><rect x="68" y="256.8" width="617" height="1.9" fill="#1a1a1a"/><text x="379.8" y="299.9" text-anchor="middle" class="tt">Screen position</text><text transform="translate(19.9 126.4) rotate(-90)" text-anchor="middle" class="tt">Proportion of C/IER</text>
<rect x="68" y="387" width="617" height="1.1" fill="#5e5e5e"/><rect x="683.9" y="387" width="1.1" height="258" fill="#808080"/><rect x="65.1" y="632.35" width="3" height="1.5" fill="#333"/><text transform="translate(64.8 639.60) scale(0.92 1)" text-anchor="end" class="tk">0.00</text><rect x="65.1" y="573.77" width="3" height="1.5" fill="#333"/><text transform="translate(64.8 581.02) scale(0.92 1)" text-anchor="end" class="tk">0.25</text><rect x="65.1" y="515.20" width="3" height="1.5" fill="#333"/><text transform="translate(64.8 522.45) scale(0.92 1)" text-anchor="end" class="tk">0.50</text><rect x="65.1" y="456.62" width="3" height="1.5" fill="#333"/><text transform="translate(64.8 463.88) scale(0.92 1)" text-anchor="end" class="tk">0.75</text><rect x="65.1" y="398.05" width="3" height="1.5" fill="#333"/><text transform="translate(64.8 405.30) scale(0.92 1)" text-anchor="end" class="tk">1.00</text><rect x="133.10" y="645" width="2" height="3.6" fill="#333"/><text transform="translate(137.10 665.50) scale(0.92 1)" text-anchor="middle" class="tk">40</text><rect x="257.59" y="645" width="2" height="3.6" fill="#333"/><text transform="translate(261.59 665.50) scale(0.92 1)" text-anchor="middle" class="tk">50</text><rect x="382.08" y="645" width="2" height="3.6" fill="#333"/><text transform="translate(386.08 665.50) scale(0.92 1)" text-anchor="middle" class="tk">60</text><rect x="506.57" y="645" width="2" height="3.6" fill="#333"/><text transform="translate(510.57 665.50) scale(0.92 1)" text-anchor="middle" class="tk">70</text><rect x="631.06" y="645" width="2" height="3.6" fill="#333"/><text transform="translate(635.06 665.50) scale(0.92 1)" text-anchor="middle" class="tk">80</text><rect x="68" y="387" width="2" height="258.6" fill="#111"/><rect x="68" y="643.8" width="617" height="1.9" fill="#1a1a1a"/><text x="379.8" y="686.9" text-anchor="middle" class="tt">Screen position</text><text transform="translate(19.9 513.4) rotate(-90)" text-anchor="middle" class="tt">Proportion of C/IER</text>
<text transform="translate(-0.8 342.8) scale(1 1.12)" class="cap">(a) Booklet 1</text>
<text transform="translate(0.3 729.0) scale(1 1.12)" class="cap">(b) Booklet 2</text>
</svg></body></html>
